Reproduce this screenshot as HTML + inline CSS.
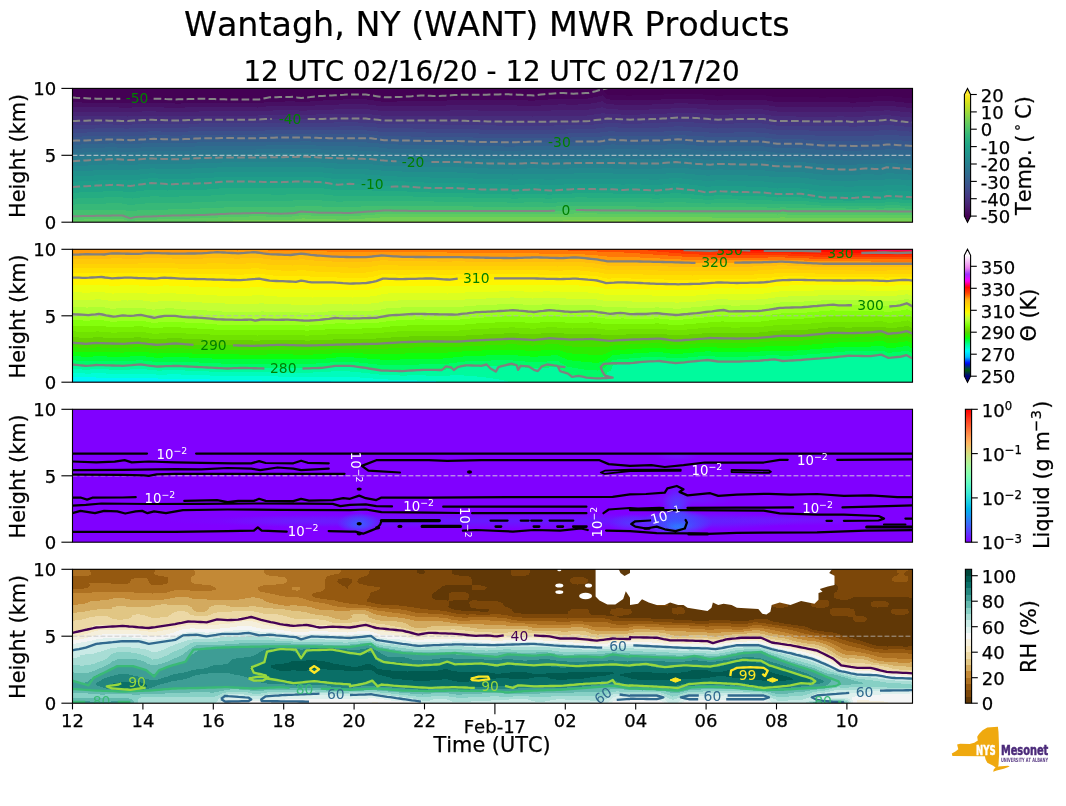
<!DOCTYPE html>
<html lang="en"><head><meta charset="utf-8"><title>Wantagh, NY (WANT) MWR Products</title>
<style>html,body{margin:0;padding:0;background:#fff}svg{display:block}</style></head>
<body>
<svg width="1066" height="806" viewBox="0 0 1066 806" font-family="'DejaVu Sans', 'Liberation Sans', sans-serif" style="font-kerning:none">
<rect width="1066" height="806" fill="#fff"/>
<defs><clipPath id="cp0"><rect x="72.5" y="88.4" width="840.0" height="133.8"/></clipPath><clipPath id="cp1"><rect x="72.5" y="249.3" width="840.0" height="132.9"/></clipPath><clipPath id="cp2"><rect x="72.5" y="409.3" width="840.0" height="132.9"/></clipPath><clipPath id="cp3"><rect x="72.5" y="569.3" width="840.0" height="133.9"/></clipPath><radialGradient id="gl0"><stop offset="0" stop-color="#1e8cff"/><stop offset="0.45" stop-color="#1e8cff" stop-opacity="0.6"/><stop offset="1" stop-color="#1e8cff" stop-opacity="0"/></radialGradient><radialGradient id="gl1"><stop offset="0" stop-color="#1aa4ff"/><stop offset="0.45" stop-color="#1aa4ff" stop-opacity="0.6"/><stop offset="1" stop-color="#1aa4ff" stop-opacity="0"/></radialGradient><radialGradient id="gl2"><stop offset="0" stop-color="#3a5cff"/><stop offset="0.45" stop-color="#3a5cff" stop-opacity="0.6"/><stop offset="1" stop-color="#3a5cff" stop-opacity="0"/></radialGradient><radialGradient id="gl3"><stop offset="0" stop-color="#4a40ff"/><stop offset="0.45" stop-color="#4a40ff" stop-opacity="0.6"/><stop offset="1" stop-color="#4a40ff" stop-opacity="0"/></radialGradient><radialGradient id="gl4"><stop offset="0" stop-color="#5a3cff"/><stop offset="0.45" stop-color="#5a3cff" stop-opacity="0.6"/><stop offset="1" stop-color="#5a3cff" stop-opacity="0"/></radialGradient><radialGradient id="gl5"><stop offset="0" stop-color="#2a78ff"/><stop offset="0.45" stop-color="#2a78ff" stop-opacity="0.6"/><stop offset="1" stop-color="#2a78ff" stop-opacity="0"/></radialGradient><radialGradient id="gl6"><stop offset="0" stop-color="#3a6cff"/><stop offset="0.45" stop-color="#3a6cff" stop-opacity="0.6"/><stop offset="1" stop-color="#3a6cff" stop-opacity="0"/></radialGradient><radialGradient id="gl7"><stop offset="0" stop-color="#5030ff"/><stop offset="0.45" stop-color="#5030ff" stop-opacity="0.6"/><stop offset="1" stop-color="#5030ff" stop-opacity="0"/></radialGradient><linearGradient id="cb0" x1="0" y1="1" x2="0" y2="0"><stop offset="0.000" stop-color="#440154"/><stop offset="0.042" stop-color="#471063"/><stop offset="0.083" stop-color="#481f70"/><stop offset="0.125" stop-color="#472d7b"/><stop offset="0.167" stop-color="#443983"/><stop offset="0.208" stop-color="#404688"/><stop offset="0.250" stop-color="#3b528b"/><stop offset="0.292" stop-color="#365d8d"/><stop offset="0.333" stop-color="#31688e"/><stop offset="0.375" stop-color="#2c728e"/><stop offset="0.417" stop-color="#287c8e"/><stop offset="0.458" stop-color="#24868e"/><stop offset="0.500" stop-color="#21918c"/><stop offset="0.542" stop-color="#1f9a8a"/><stop offset="0.583" stop-color="#20a486"/><stop offset="0.625" stop-color="#28ae80"/><stop offset="0.667" stop-color="#35b779"/><stop offset="0.708" stop-color="#48c16e"/><stop offset="0.750" stop-color="#5ec962"/><stop offset="0.792" stop-color="#75d054"/><stop offset="0.833" stop-color="#90d743"/><stop offset="0.875" stop-color="#addc30"/><stop offset="0.917" stop-color="#c8e020"/><stop offset="0.958" stop-color="#e5e419"/><stop offset="1.000" stop-color="#fde725"/></linearGradient><linearGradient id="cb1" x1="0" y1="1" x2="0" y2="0"><stop offset="0.000" stop-color="#000080"/><stop offset="0.016" stop-color="#001d5a"/><stop offset="0.031" stop-color="#003a35"/><stop offset="0.047" stop-color="#00580f"/><stop offset="0.062" stop-color="#004b37"/><stop offset="0.078" stop-color="#002f7a"/><stop offset="0.094" stop-color="#0014bc"/><stop offset="0.109" stop-color="#000eff"/><stop offset="0.125" stop-color="#0047ff"/><stop offset="0.141" stop-color="#007fff"/><stop offset="0.156" stop-color="#00b8ff"/><stop offset="0.172" stop-color="#00ceff"/><stop offset="0.188" stop-color="#00e0ff"/><stop offset="0.203" stop-color="#00f2ff"/><stop offset="0.219" stop-color="#00ffe5"/><stop offset="0.234" stop-color="#00fdcb"/><stop offset="0.250" stop-color="#00fbb0"/><stop offset="0.266" stop-color="#00fa92"/><stop offset="0.281" stop-color="#00fb68"/><stop offset="0.297" stop-color="#00fd3f"/><stop offset="0.312" stop-color="#06ff15"/><stop offset="0.328" stop-color="#20f400"/><stop offset="0.344" stop-color="#39e500"/><stop offset="0.359" stop-color="#53d600"/><stop offset="0.375" stop-color="#68d500"/><stop offset="0.391" stop-color="#70e200"/><stop offset="0.406" stop-color="#78ef00"/><stop offset="0.422" stop-color="#80fc08"/><stop offset="0.438" stop-color="#92ff18"/><stop offset="0.453" stop-color="#a4ff28"/><stop offset="0.469" stop-color="#b6ff38"/><stop offset="0.484" stop-color="#c8ff30"/><stop offset="0.500" stop-color="#dbff20"/><stop offset="0.516" stop-color="#edff10"/><stop offset="0.531" stop-color="#fff800"/><stop offset="0.547" stop-color="#ffee00"/><stop offset="0.562" stop-color="#ffe400"/><stop offset="0.578" stop-color="#ffda00"/><stop offset="0.594" stop-color="#ffd004"/><stop offset="0.609" stop-color="#ffc609"/><stop offset="0.625" stop-color="#ffbc0d"/><stop offset="0.641" stop-color="#ffa10b"/><stop offset="0.656" stop-color="#ff8107"/><stop offset="0.672" stop-color="#ff6004"/><stop offset="0.688" stop-color="#ff4300"/><stop offset="0.703" stop-color="#ff3000"/><stop offset="0.719" stop-color="#ff1d00"/><stop offset="0.734" stop-color="#ff0a00"/><stop offset="0.750" stop-color="#ff0047"/><stop offset="0.766" stop-color="#ff008e"/><stop offset="0.781" stop-color="#ff00d5"/><stop offset="0.797" stop-color="#f107ff"/><stop offset="0.812" stop-color="#d615ff"/><stop offset="0.828" stop-color="#ba22ff"/><stop offset="0.844" stop-color="#9f33fe"/><stop offset="0.859" stop-color="#b64af9"/><stop offset="0.875" stop-color="#ce62f4"/><stop offset="0.891" stop-color="#e67aef"/><stop offset="0.906" stop-color="#ee8df0"/><stop offset="0.922" stop-color="#f0a0f2"/><stop offset="0.938" stop-color="#f3b3f5"/><stop offset="0.953" stop-color="#f6c5f7"/><stop offset="0.969" stop-color="#f9d8fa"/><stop offset="0.984" stop-color="#fceafc"/><stop offset="1.000" stop-color="#fef8fe"/></linearGradient><linearGradient id="cb2" x1="0" y1="1" x2="0" y2="0"><stop offset="0.000" stop-color="#8000ff"/><stop offset="0.042" stop-color="#6c1fff"/><stop offset="0.083" stop-color="#5641fd"/><stop offset="0.125" stop-color="#4062fa"/><stop offset="0.167" stop-color="#2c7ef7"/><stop offset="0.208" stop-color="#169bf2"/><stop offset="0.250" stop-color="#00b5eb"/><stop offset="0.292" stop-color="#14cae5"/><stop offset="0.333" stop-color="#2adddd"/><stop offset="0.375" stop-color="#40ecd4"/><stop offset="0.417" stop-color="#54f6cb"/><stop offset="0.458" stop-color="#6afdc0"/><stop offset="0.500" stop-color="#80ffb4"/><stop offset="0.542" stop-color="#94fda8"/><stop offset="0.583" stop-color="#abf69b"/><stop offset="0.625" stop-color="#c0eb8d"/><stop offset="0.667" stop-color="#d4dd80"/><stop offset="0.708" stop-color="#ebca70"/><stop offset="0.750" stop-color="#ffb360"/><stop offset="0.792" stop-color="#ff9b52"/><stop offset="0.833" stop-color="#ff7e41"/><stop offset="0.875" stop-color="#ff5f30"/><stop offset="0.917" stop-color="#ff4121"/><stop offset="0.958" stop-color="#ff1f10"/><stop offset="1.000" stop-color="#ff0000"/></linearGradient><linearGradient id="cb3" x1="0" y1="1" x2="0" y2="0"><stop offset="0.0000" stop-color="#613806"/><stop offset="0.0476" stop-color="#613806"/><stop offset="0.0476" stop-color="#7c4709"/><stop offset="0.0952" stop-color="#7c4709"/><stop offset="0.0952" stop-color="#955910"/><stop offset="0.1429" stop-color="#955910"/><stop offset="0.1429" stop-color="#ad7021"/><stop offset="0.1905" stop-color="#ad7021"/><stop offset="0.1905" stop-color="#c38936"/><stop offset="0.2381" stop-color="#c38936"/><stop offset="0.2381" stop-color="#d3aa5f"/><stop offset="0.2857" stop-color="#d3aa5f"/><stop offset="0.2857" stop-color="#e1c684"/><stop offset="0.3333" stop-color="#e1c684"/><stop offset="0.3333" stop-color="#ecd8a5"/><stop offset="0.3810" stop-color="#ecd8a5"/><stop offset="0.3810" stop-color="#f6e9c5"/><stop offset="0.4286" stop-color="#f6e9c5"/><stop offset="0.4286" stop-color="#f5efdc"/><stop offset="0.4762" stop-color="#f5efdc"/><stop offset="0.4762" stop-color="#f4f5f5"/><stop offset="0.5238" stop-color="#f4f5f5"/><stop offset="0.5238" stop-color="#def0ed"/><stop offset="0.5714" stop-color="#def0ed"/><stop offset="0.5714" stop-color="#c9eae6"/><stop offset="0.6190" stop-color="#c9eae6"/><stop offset="0.6190" stop-color="#a8ddd5"/><stop offset="0.6667" stop-color="#a8ddd5"/><stop offset="0.6667" stop-color="#87d0c5"/><stop offset="0.7143" stop-color="#87d0c5"/><stop offset="0.7143" stop-color="#64b9ae"/><stop offset="0.7619" stop-color="#64b9ae"/><stop offset="0.7619" stop-color="#3e9d95"/><stop offset="0.8095" stop-color="#3e9d95"/><stop offset="0.8095" stop-color="#23867e"/><stop offset="0.8571" stop-color="#23867e"/><stop offset="0.8571" stop-color="#0a6f67"/><stop offset="0.9048" stop-color="#0a6f67"/><stop offset="0.9048" stop-color="#015a50"/><stop offset="0.9524" stop-color="#015a50"/><stop offset="0.9524" stop-color="#00463b"/><stop offset="1.0000" stop-color="#00463b"/></linearGradient></defs>
<rect x="72.5" y="88.4" width="840.0" height="133.8" fill="#440154"/>
<g clip-path="url(#cp0)" shape-rendering="crispEdges">
<path d="M602.5,89.4 605.1,92.4 607.5,94.6 627.5,95.6 657.5,94.9 677.5,93.7 697.5,94.1 717.5,95.7 737.5,95 762.5,95 767.5,95.7 772.5,96.7 777.5,97.1 802.5,97.1 822.5,97.6 842.5,97.1 852.5,97.9 887.5,95.9 902.5,97.6 912.5,98.4 912.5,222.2 72.5,222.2 72.5,97.6 97.5,98.7 157.5,98.7 177.5,99.4 202.5,98.7 257.5,99.4 267.5,97.8 272.5,97.3 292.5,96.8 302.5,98 317.5,96.3 347.5,94.6 362.5,94.5 367.5,94.7 382.5,97.1 397.5,97 422.5,95.6 437.5,96 462.5,94.7 492.5,94.6 507.5,94.2 532.5,95.4 537.5,95.1 547.5,93.9 557.5,93.1 562.5,93 572.5,93.6 587.5,93 592.5,92 598.6,90.4Z" fill="#450559" fill-rule="evenodd"/>
<path d="M602.5,95.4 606,98.4 607.5,99.4 633.3,100.4 657.5,99.7 677.5,98.5 697.5,98.9 717.5,100.5 737.5,99.8 762.5,99.8 767.5,100.5 772.5,101.5 777.5,101.9 802.5,101.9 824.4,102.4 842.5,101.9 852.5,102.7 887.5,100.7 902.3,102.4 912.5,103.2 912.5,222.2 72.5,222.2 72.5,102.4 132.5,103.1 157.5,102.9 177.5,103.6 202.5,102.9 257.5,103.5 267.5,102 292.5,101.3 302.5,102.2 317.5,100.8 347.5,99.3 362.5,99.3 367.5,99.5 382.5,101.7 387.5,101.9 422.5,100.5 437.5,100.9 462.5,99.9 507.5,99.7 532.5,100.7 557.5,98.8 562.5,98.7 572.5,99.2 587.5,98.6 592.5,97.7 598,96.4Z" fill="#471063" fill-rule="evenodd"/>
<path d="M597.5,102.3 602.5,101.3 604.1,102.4 607.5,104.2 627.5,105.2 662.5,104.2 677.5,103.3 697.5,103.7 717.5,105.3 737.5,104.6 762.5,104.6 767.5,105.3 773.2,106.4 777.5,106.7 802.5,106.7 822.5,107.2 842.5,106.7 852.5,107.5 887.5,105.5 902.5,107.2 912.5,108 912.5,222.2 72.5,222.2 72.5,107 127.5,107.6 152.5,107.1 172.5,107.8 202.5,107.1 257.5,107.5 267.5,106.3 272.5,106 292.5,105.8 303.6,106.4 317.5,105.3 352.5,104 362.5,104.1 367.5,104.4 382.5,106.4 402.5,106.3 422.5,105.5 437.5,105.8 457.5,105.1 487.5,105.4 507.5,105.2 532.5,106 557.5,104.5 562.5,104.4 572.5,104.7 587.5,104.2 597.4,102.4Z" fill="#481b6d" fill-rule="evenodd"/>
<path d="M597.5,108.2 602.5,107.3 605.3,108.4 607.5,109 627.5,110 657.5,109.3 677.5,108.1 697.5,108.5 717.5,110.1 737.5,109.4 762.5,109.4 772.5,111.1 777.5,111.5 802.5,111.5 822.5,112 842.5,111.5 852.5,112.3 887.5,110.3 912.5,112.8 912.5,222.2 72.5,222.2 72.5,111.6 127.5,112.1 147.5,111.3 177.5,112 207.5,111.3 257.5,111.5 267.5,110.6 292.5,110.2 302.5,110.7 352.5,108.8 362.5,108.9 367.5,109.2 382.5,111 387.5,111.2 422.5,110.5 437.5,110.7 462.5,110.3 532.5,111.2 562.5,110.1 572.5,110.3 582.5,110.1 587.5,109.8 596.5,108.4Z" fill="#482475" fill-rule="evenodd"/>
<path d="M322.5,114.3 352.5,113.6 362.5,113.7 372.5,114.5 382.5,115.7 477.5,115.8 532.5,116.5 587.5,115.5 602.5,113.3 612.5,114.1 627.5,114.8 657.5,114.1 677.5,112.9 697.5,113.3 717.5,114.9 737.5,114.2 762.5,114.2 767.5,114.9 772.5,115.9 777.5,116.3 822.5,116.8 843,116.4 852.5,117.1 887.5,115.1 902.5,116.8 912.5,117.6 912.5,222.2 72.5,222.2 72.5,116.4 97.5,116.1 127.5,116.5 147.5,115.5 177.5,116.2 212.5,115.5 257.5,115.5 267.5,114.9 307.5,114.8 319.6,114.4Z" fill="#472d7b" fill-rule="evenodd"/>
<path d="M667.5,118.3 677.5,117.6 692.5,117.8 717.5,119.7 737.5,118.9 762.5,118.9 772.5,120.7 777.5,121.1 807.5,121.2 822.5,121.6 842.5,121.1 852.5,121.9 887.5,119.9 902.5,121.6 912.5,122.4 912.5,222.2 72.5,222.2 72.5,120.9 102.5,120.5 127.5,120.9 137.9,120.4 147.5,119.7 178.6,120.4 202.5,119.6 257.5,119.5 267.5,119.1 352.5,118.4 367.5,118.7 384.4,120.4 462.5,120.6 532.5,121.7 587.5,121 593.3,120.4 602.5,119.1 607.5,118.6 627.5,119.5 657.5,118.9 666.2,118.4Z" fill="#453781" fill-rule="evenodd"/>
<path d="M672.5,122.3 677.5,122 692.5,122.4 717.5,124.1 737.5,123.4 762.5,123.5 768.1,124.3 772.5,125.2 777.5,125.6 802.5,125.7 822.5,126.4 842.5,126.1 852.5,126.7 877.5,125.6 887.5,124.8 902.5,126.4 912.5,127.1 912.5,222.2 72.5,222.2 72.5,124.9 107.5,124.4 127.5,124.8 147.5,123.6 177.5,124.2 202.5,123.4 257.5,123.3 267.5,122.9 352.5,122.4 367.5,122.7 382.5,124.2 457.5,124.6 512.5,125.9 587.5,125.2 602.5,123.6 607.5,122.9 627.5,123.8 657.5,123.2 671.7,122.3Z" fill="#423f85" fill-rule="evenodd"/>
<path d="M677.5,126.3 692.5,126.9 717.5,128.5 737.5,127.8 762.5,128 767.5,128.7 772.5,129.7 777.5,130.2 804.6,130.3 822.5,131.1 842.5,131 852.5,131.5 877.5,130.6 887.5,129.7 912.5,131.8 912.5,222.2 72.5,222.2 72.5,128.9 112.5,128.2 127.5,128.6 147.5,127.5 157.5,127.5 172.5,128 202.5,127.1 257.5,127 357.5,126.4 367.5,126.6 382.5,128.1 387.5,128.4 457.5,128.7 482.5,129.6 512.5,130 587.5,129.3 602.5,127.9 607.5,127.2 612.5,127.2 627.5,128 657.5,127.6 677.1,126.3Z" fill="#3f4788" fill-rule="evenodd"/>
<path d="M272.5,130.3 367.5,130.5 372.5,130.8 382.5,132.1 457.5,132.8 487.5,133.8 512.5,134.1 587.5,133.3 597.5,132.8 602.5,132.3 607.5,131.5 612.5,131.4 627.5,132.2 657.5,131.9 677.5,130.6 702.5,132.2 717.5,132.9 742.4,132.3 762.5,132.6 777.5,134.7 802.5,134.8 822.5,135.9 842.5,135.9 852.5,136.3 882.5,135.2 887.5,134.6 912.5,136.5 912.5,222.2 72.5,222.2 72.5,132.8 112.5,132 127.5,132.4 152.5,131.3 177.5,131.9 207.5,130.8 252.5,130.9 271.3,130.3Z" fill="#3c508b" fill-rule="evenodd"/>
<path d="M262.5,134.3 307.5,133.9 342.5,134.4 367.5,134.4 372.5,134.7 382.5,136 387.5,136.3 457.5,136.9 482.5,137.9 512.5,138.2 597.5,137.2 607.5,135.8 612.5,135.6 627.5,136.4 657.5,136.2 677.5,135 717.5,137.3 737.5,136.7 762.5,137.1 777.5,139.3 802.5,139.4 822.5,140.7 842.5,140.8 852.5,141.1 882.5,140.2 887.5,139.5 912.5,141.2 912.5,222.2 72.5,222.2 72.5,136.7 97.5,136.2 107.5,135.7 132.5,136.2 152.5,135.1 177.5,135.7 207.5,134.5 257.5,134.5 261.8,134.3Z" fill="#38588c" fill-rule="evenodd"/>
<path d="M202.5,138.3 262.5,138.1 277.5,137.6 312.5,137.7 367.5,138.3 372.5,138.5 382.5,139.9 512.5,142.3 597.5,141.5 602.5,141 607.5,140.1 612.5,139.8 627.5,140.6 657.5,140.6 677.5,139.3 697.5,141 717.5,141.7 737.5,141.2 762.5,141.7 777.5,143.8 802.5,143.9 822.5,145.4 857.5,145.9 877.5,145.5 882.5,145.2 887.5,144.4 912.5,146 912.5,222.2 72.5,222.2 72.5,140.7 97.5,140.1 107.5,139.5 132.5,140.1 152.5,138.9 172.5,139.6 202.1,138.3Z" fill="#355f8d" fill-rule="evenodd"/>
<path d="M202.5,142.2 227.5,141.9 257.5,142.1 307.5,141.4 332.5,142.3 367.5,142.5 372.5,142.7 382.5,144 407.5,144.8 457.5,145.3 482.5,146.3 512.5,146.6 532.5,145.9 597.5,145.8 602.5,145.4 607.5,144.7 612.5,144.4 632.5,145.2 657.5,145.2 672.5,144.1 677.5,143.9 697.5,145.6 712.5,146.1 737.5,145.8 763,146.3 777.5,148.3 802.5,148.5 822.5,150.1 852.5,150.7 877.5,150.2 882.5,149.9 887.5,149 912.5,150.7 912.5,222.2 72.5,222.2 72.5,144.8 112.5,143.4 127.5,144 132.5,144 152.5,142.9 177.5,143.5 200.7,142.3Z" fill="#31678e" fill-rule="evenodd"/>
<path d="M202.5,146.2 227.5,145.8 307.5,145.2 337.5,146.3 367.5,146.6 372.5,146.8 387.5,148.5 512.5,150.9 532.5,150.2 597.5,150.1 607.5,149.3 612.5,149.1 657.5,149.8 672.5,148.7 677.5,148.5 702.5,150.4 712.5,150.7 762.5,150.9 777.5,152.8 802.5,153 822.5,154.8 852.5,155.4 867.5,154.8 877.5,154.9 882.5,154.6 887.5,153.6 912.5,155.4 912.5,222.2 72.5,222.2 72.5,148.9 107.5,147.4 117.5,147.5 127.5,148 132.5,148 152.5,146.8 177.5,147.4 199.4,146.3Z" fill="#2e6e8e" fill-rule="evenodd"/>
<path d="M202.5,150.1 232.5,149.7 307.5,149.1 357.5,150.6 367.5,150.7 372.5,151 383.4,152.3 432.5,153.6 457.5,153.7 482.5,154.8 512.5,155.2 532.5,154.5 552.5,154.8 602.5,154.2 607.5,153.8 612.5,153.7 652.5,154.4 658.1,154.3 672.5,153.2 677.5,153 707.5,155.3 712.5,155.3 717.5,155 762.5,155.5 777.5,157.3 797.5,157.4 802.5,157.6 822.5,159.5 852.5,160.2 862.5,159.5 877.5,159.6 882.5,159.4 887.5,158.2 912.5,160.1 912.5,222.2 72.5,222.2 72.5,153 112.5,151.3 127.5,152 132.5,152 147.5,150.9 162.5,151 172.5,151.4 198.1,150.3Z" fill="#2b748e" fill-rule="evenodd"/>
<path d="M197.5,154.3 247.5,153.6 307.5,152.9 372.5,155.1 382.5,156.3 392.5,157 457.5,157.9 497.5,159.3 512.5,159.5 532.5,158.8 552.5,159.3 612.5,158.4 652.5,159 657.5,158.9 672.5,157.7 677.5,157.6 707.5,159.9 712.5,159.9 717.5,159.5 762.5,160.1 777.5,161.8 802.5,162.1 824.2,164.3 852.5,164.9 862.5,164.1 872.5,164.1 878.2,164.3 882.5,164.1 887.5,162.8 902.5,163.8 912.5,164.8 912.5,222.2 72.5,222.2 72.5,157.1 112.5,155.2 122.5,155.6 127.5,156 132.5,156 147.5,154.8 157.5,154.8 172.5,155.3 177.5,155.3 196.9,154.3Z" fill="#287c8e" fill-rule="evenodd"/>
<path d="M197.5,158.2 307.5,156.9 372.5,159.4 387.5,160.9 422.5,161.9 457.5,162.1 482.5,163.4 512.5,163.9 532.5,163.2 547.5,163.8 612.5,163.1 657.5,163.6 672.5,162.3 678.6,162.3 697.5,164 707.5,164.5 712.5,164.5 717.5,164 762.5,164.7 777.5,166.3 797.5,166.5 802.5,166.8 822.5,169 852.5,169.8 862.5,168.8 867.5,168.6 877.5,169.1 882.5,168.9 887.5,167.5 902.5,168.4 912.5,169.6 912.5,222.2 72.5,222.2 72.5,161.3 112.5,159.3 127.5,160 132.5,160 147.5,158.7 172.5,159.4 196.1,158.3Z" fill="#26828e" fill-rule="evenodd"/>
<path d="M227.5,162.3 287.5,162.1 307.5,161.7 337.5,163.5 372.5,164.5 387.5,166 462.5,167.5 492.5,168.7 512.5,169.1 532.5,168.3 552.5,169.1 577.5,168.2 657.5,168.9 672.5,167.6 677.5,167.5 707.5,170.1 712.5,169.9 717.5,169.4 763.1,170.3 777.5,171.8 803.4,172.3 822.5,174.6 852.5,175.4 862.5,174.4 867.5,174.2 877.5,174.7 882.5,174.5 887.5,173.1 902.5,174 912.5,175 912.5,222.2 72.5,222.2 72.5,166.3 112.5,164.3 122.5,164.7 127.5,165.1 132.5,165.1 147.5,163.6 152.5,163.5 172.5,164.2 177.5,164.2 227.2,162.3Z" fill="#23898e" fill-rule="evenodd"/>
<path d="M197.5,168.3 227.5,167.1 292.5,166.9 307.5,166.7 322.5,167.4 337.5,168.8 352.5,168.7 372.5,169.7 387.5,171.1 432.5,172.4 457.5,172.5 482.5,173.8 507.5,174 512.5,174.5 532.5,173.6 537.5,173.7 547.5,174.4 577.5,173.4 612.5,173.5 622.5,173.9 632.5,173.7 658.1,174.3 672.5,172.9 677.5,172.8 707.5,175.7 717.5,174.9 762.5,175.8 777.5,177.4 797.5,177.4 802.5,177.6 822.3,180.3 852.5,181 862.5,180 867.5,179.9 877.5,180.4 882.5,180.2 887.5,178.8 902.5,179.6 912.5,180.6 912.5,222.2 72.5,222.2 72.5,171.5 112.5,169.5 127.5,170.2 132.5,170.2 147.5,168.6 152.5,168.4 172.5,169.2 197.3,168.3Z" fill="#21918c" fill-rule="evenodd"/>
<path d="M222.5,172 287.5,172 302.5,171.6 322.5,172.4 337.5,174.1 352.5,173.8 372.5,174.9 389.2,176.3 417.5,177 432.5,177.6 457.5,177.7 482.5,179 507.5,179.2 512.5,179.8 532.5,178.8 547.5,179.7 562.5,179.3 577.5,178.6 612.5,178.8 622.5,179.3 627.5,179 657.5,179.7 672.5,178.2 677.5,178.1 702.5,180.6 707.5,181.3 717.5,180.3 762.5,181.3 777.5,183 797.5,182.9 802.5,183.1 822.5,186 852.5,186.7 862.5,185.7 867.5,185.6 877.5,186.2 882.5,186 887.5,184.5 902.5,185.2 912.5,186.2 912.5,222.2 72.5,222.2 72.5,176.6 112.5,174.6 122.5,175 127.5,175.4 132.5,175.3 147.5,173.6 152.5,173.3 167.5,174.1 177.5,174.1 218.8,172.3Z" fill="#1f978b" fill-rule="evenodd"/>
<path d="M152.5,178.2 167.5,179.1 172.5,179.2 207.5,178.1 222.5,176.8 227.5,176.6 277.5,177.2 302.5,176.5 322.5,177.3 337.5,179.4 347.5,178.9 352.5,178.9 387.5,181.3 397.5,181.5 402.5,181.4 427.5,182.7 457.5,182.9 482.5,184.3 507.5,184.4 512.5,185.2 532.5,184.1 547.5,185.1 552.5,185.1 577.5,183.8 612.5,184 622.5,184.6 632.5,184.2 657.5,185.1 672.5,183.5 677.5,183.4 697.5,185.4 707.5,186.9 717.5,185.8 762.5,186.9 777.5,188.5 797.5,188.4 802.5,188.6 822.5,191.6 852.5,192.4 862.5,191.4 867.5,191.2 877.5,191.9 882.5,191.7 887.5,190.3 902.5,190.9 912.5,191.7 912.5,222.2 72.5,222.2 72.5,181.8 112.5,179.8 127.5,180.5 134,180.3 147.5,178.5 151.2,178.3Z" fill="#1f9e89" fill-rule="evenodd"/>
<path d="M217.5,182.2 227.5,181.6 277.5,182.2 302.5,181.5 322.5,182.2 327.5,183.2 337.5,184.8 347.5,184 352.5,184 387.5,186.4 392.5,186.6 402.5,186.4 427.5,187.9 452.5,187.9 482.5,189.4 507.5,189.5 512.5,190.5 532.5,189.3 547.5,190.4 552.5,190.4 577.5,188.9 612.5,189.2 622.5,190 627.5,189.5 632.5,189.3 652.5,190.4 657.5,190.5 672.5,188.7 677.5,188.6 697.5,190.6 707.5,192.4 717.5,191.1 752.5,192.3 762.5,192.4 772.5,193.3 777.5,194 797.5,193.7 802.5,193.9 812.5,195.4 817.5,196.4 822.5,196.9 852.5,197.8 862.5,196.7 867.5,196.6 877.5,197.2 882.5,197.1 887.5,195.8 907.5,196.6 912.5,197 912.5,222.2 72.5,222.2 72.5,187 112.5,185 122.5,185.4 127.5,185.8 132.5,185.7 147.5,183.6 152.5,183.2 167.5,184.1 172.5,184.2 187.5,183.6 207.5,183.3 216.6,182.3Z" fill="#20a486" fill-rule="evenodd"/>
<path d="M222.5,188.1 287.5,188.2 302.5,187.5 322.5,188.3 337.5,190.4 347.5,189.8 352.5,189.7 392.5,191.4 402.5,191.3 432.5,192.6 457.5,192.7 482.5,193.8 507.5,193.8 512.5,194.6 532.5,193.7 537.5,193.8 547.5,194.5 552.5,194.5 577.5,193.2 612.5,193.5 622.5,194.1 632.5,193.6 657.5,194.6 672.5,193.3 677.5,193.2 697.5,194.8 707.5,196.2 717.5,195.2 763,196.2 777.5,197.5 782.5,197.3 797.5,197.3 802.5,197.5 822.5,200.1 852.5,200.7 862.5,199.9 867.5,199.8 877.5,200.3 882.5,200.2 887.5,199.1 902.5,199.5 912.5,200.1 912.5,222.2 72.5,222.2 72.5,192.8 112.5,191.1 117.5,191.1 122.5,191.4 127.5,192 132.5,192 147.5,190.1 152.5,189.7 167.5,190.5 207.5,189.5 220.9,188.3Z" fill="#25ac82" fill-rule="evenodd"/>
<path d="M252.5,194.2 282.5,194.7 302.5,193.5 322.5,194.4 337.5,196 347.5,195.5 382.5,195.9 397.5,196.2 412.5,196.5 427.5,197.2 457.5,197.3 482.5,198.2 508.2,198.2 512.5,198.7 532.5,198 547.5,198.6 557.5,198.4 577.5,197.4 612.5,197.8 622.5,198.2 632.5,197.9 657.5,198.7 672.5,197.7 677.5,197.7 697.5,198.9 707.5,200 717.5,199.2 762.5,199.9 777.5,200.9 782.5,200.6 802.5,200.9 822.5,202.8 852.5,203.3 862.5,202.7 877.5,203.1 882.5,203 887.5,202.1 912.5,203 912.5,222.2 72.5,222.2 72.5,198.7 112.5,197.2 122.5,197.4 127.5,198.3 132.5,198.5 137.5,197.7 152.5,196.3 167.5,196.8 207.5,195.8 227.5,194.3 248.1,194.2Z" fill="#2db27d" fill-rule="evenodd"/>
<path d="M297.5,200 302.5,199.6 322.5,200.5 337.5,201.6 382.5,200.8 507.5,202.5 512.5,202.8 532.5,202.3 552.5,202.7 577.5,201.6 612.5,202 622.5,202.3 632.5,202.1 657.5,202.7 677.5,202.1 697.5,203 707.5,203.7 717.5,203.2 762.5,203.7 777.5,204.3 782.5,203.9 787.5,204.3 802.5,204.3 822.5,205.6 852.5,205.9 867.5,205.5 882.5,205.8 887.5,205.2 912.5,205.8 912.5,222.2 72.5,222.2 72.5,204.6 112.5,203.3 122.5,203.5 127.5,204.7 132.5,204.9 137.5,204 152.5,203 177.5,202.9 207.5,202.1 222.5,201 257.5,200.5 282.5,201 292.5,200.6 295.7,200.2Z" fill="#37b878" fill-rule="evenodd"/>
<path d="M297.5,206.2 302.5,205.6 337.5,207.2 377.5,206 382.5,205.7 517.5,206.9 537.5,206.6 547.5,206.8 577.5,205.8 627.5,206.4 657.5,206.8 677.5,206.6 707.5,207.4 722.5,207.2 767.5,207.5 777.5,207.8 782.5,207.2 787.5,207.7 852.5,208.6 867.5,208.4 882.5,208.6 887.5,208.3 912.5,208.6 912.5,222.2 72.5,222.2 72.5,210.4 122.5,209.5 127.5,211 132.5,211.4 137.5,210.4 152.5,209.6 167.5,209.5 212.5,208.1 227.5,207.3 257.5,206.7 282.5,207.3 292.5,206.9 297.2,206.2Z" fill="#44bf70" fill-rule="evenodd"/>
<path d="M572.5,210.1 777.5,211.2 782.5,210.5 787.5,211.1 912.5,211.5 912.5,222.2 72.5,222.2 72.5,216.3 122.5,215.3 127.5,217 132.5,217.6 137.5,216.6 157.5,216.1 172.5,215.3 217.4,214.2 227.5,213.4 257.5,212.7 282.5,213.3 292.5,212.9 298,212.2 302.5,211.4 312.5,212.2 347.5,212.7 362.5,212 382.5,210.5 562.5,210.5 570.6,210.2Z" fill="#52c569" fill-rule="evenodd"/>
<path d="M382.5,214 557.5,214.1 577.5,213.4 777.5,214.5 782.5,213.8 787.5,214.5 912.5,214.8 912.5,222.2 72.5,222.2 72.5,219.7 122.5,218.9 127.5,220.7 132.5,221.1 137.5,220.1 212.5,217.8 227.5,217 257.5,216.3 282.5,216.9 292.5,216.5 302.5,215 317.5,215.9 348.3,216.2 352.5,216.1 379.5,214.2Z" fill="#60ca60" fill-rule="evenodd"/>
<path d="M372.5,218 382.5,217.3 557.5,217.4 577.5,216.7 777.5,217.9 782.5,217.2 787.5,217.8 912.5,218.1 912.5,222.2 197.5,221.8 257.5,219.6 277.5,220.3 292.5,219.9 297.5,219 302.5,218.4 322.5,219.4 347.5,219.6 370,218.2Z" fill="#73d056" fill-rule="evenodd"/>
<path d="M572.5,220.2 777.5,221.2 782.5,220.5 787.5,221.2 912.5,221.5 912.5,222.2 362.5,222.1 382.5,220.7 557.5,220.7 571.5,220.2ZM302.5,221.7 311.4,222.2 298.6,222.2Z" fill="#84d44b" fill-rule="evenodd"/>
</g>
<path d="M72.5,155.3H912.5" stroke="#d8d8d8" stroke-width="0.95" stroke-dasharray="4.9 2.1" fill="none" opacity="0.95"/>
<path clip-path="url(#cp0)" d="M72.4,97.6 75.8,97.8 79.2,97.9 82.6,98.1 86,98.2 89.4,98.4 92.9,98.5 96.3,98.7 99.3,98.7 102.3,98.7 105.3,98.7 108.3,98.7 111.3,98.7 114.3,98.7 117.3,98.7 120.3,98.7M153.6,98.7 156.7,98.7 159.7,98.8 162.8,98.9 165.9,99.1 168.9,99.2 172,99.3 175.1,99.4 178.3,99.3 181.6,99.2 184.9,99.2 188.2,99.1 191.5,99 194.8,98.9 198,98.8 201.3,98.7 204.6,98.8 207.9,98.9 211.2,99 214.5,99.1 217.7,99.2 221,99.2 224.3,99.3 227.6,99.4 230.8,99.4 233.9,99.4 237.1,99.4 240.2,99.4 243.4,99.4 246.5,99.4 249.7,99.4 252.8,99.4 256,99.4 259.1,99.4 262.6,98.7 266.1,98 269.6,97.3 273,97.3 276.4,97.2 279.8,97.1 283.1,97 286.5,97 289.9,96.9 293.3,96.8 297.2,97.5 301.1,98.1 304.2,97.8 307.3,97.4 310.3,97.1 313.4,96.7 316.5,96.4 319.5,96 322.6,95.9 325.6,95.7 328.7,95.6 331.7,95.4 334.8,95.2 337.8,95.1 340.9,94.9 343.9,94.8 347,94.6 350,94.5 353.2,94.5 356.3,94.5 359.5,94.5 362.6,94.5 365.8,94.5 368.8,94.9 371.9,95.4 375,95.9 378,96.4 381.1,96.9 384.1,97.3 387.2,97.3 390.3,97.2 393.3,97.1 396.4,97 399.5,96.9 402.5,96.8 405.6,96.6 408.7,96.4 411.7,96.2 414.8,95.9 417.9,95.7 420.9,95.5 424,95.6 427,95.7 430.1,95.8 433.2,95.9 436.2,95.9 439.3,96 442.3,95.8 445.3,95.7 448.3,95.5 451.3,95.3 454.3,95.1 457.3,94.9 460.3,94.7 463.6,94.7 466.9,94.7 470.2,94.7 473.5,94.7 476.7,94.7 480,94.7 483.3,94.7 486.6,94.7 489.6,94.6 492.6,94.6 495.6,94.5 498.6,94.4 501.6,94.3 504.6,94.3 507.6,94.2 510.9,94.4 514.2,94.5 517.4,94.7 520.7,94.8 524,95 527.3,95.2 530.6,95.3 533.9,95.5 537.4,95.1 540.9,94.6 544.4,94.2 547.5,93.9 550.7,93.7 553.8,93.4 557,93.1 560.1,92.9 563.4,93.1 566.7,93.3 570,93.5 573.3,93.7 576.4,93.5 579.6,93.4 582.7,93.2 585.9,93 589,92.9 592.3,92 595.6,91.2 598.9,90.3 602.2,89.5 605.4,88.7 608.7,87.9 612,87.1 615.3,86.3" fill="none" stroke="#858585" stroke-width="2.0" stroke-dasharray="7.7 3.3" stroke-linejoin="round" stroke-linecap="butt"/>
<path clip-path="url(#cp0)" d="M72.4,121 75.8,120.9 79.2,120.8 82.6,120.8 86,120.7 89.4,120.6 92.9,120.5 96.3,120.5 99.4,120.5 102.6,120.6 105.7,120.6 108.9,120.7 112,120.7 115.2,120.8 118.3,120.8 121.5,120.9 124.6,120.9 127.8,121 130.8,120.8 133.8,120.6 136.8,120.4 139.8,120.2 142.8,120 145.8,119.9 148.8,119.7 152.1,119.8 155.4,119.9 158.6,120 161.9,120.1 165.2,120.2 168.5,120.3 171.8,120.4 175.1,120.5 178.3,120.4 181.6,120.3 184.9,120.2 188.2,120.1 191.5,120 194.8,119.9 198,119.8 201.3,119.7 204.4,119.7 207.5,119.7 210.6,119.7 213.7,119.7 216.8,119.7 219.9,119.7 223,119.7 226.1,119.7 229.1,119.7 232.2,119.7 235.3,119.7 238.4,119.7 241.5,119.7 244.6,119.7 247.7,119.7 250.8,119.7 253.9,119.7 257.8,119.5 261.7,119.3 265.7,119.1 268.7,119.1 271.7,119.1M307.7,119.1 310.7,119.1 313.8,119 316.8,119 319.8,118.9 322.8,118.9 325.8,118.8 328.9,118.8 331.9,118.7 334.9,118.6 337.9,118.6 340.9,118.5 344,118.5 347,118.4 350,118.4 353.2,118.4 356.3,118.5 359.5,118.5 362.6,118.6 365.8,118.6 368.8,118.9 371.9,119.2 375,119.5 378,119.8 381.1,120.2 384.1,120.5 387.3,120.5 390.5,120.5 393.7,120.5 396.9,120.5 400.1,120.5 403.3,120.5 406.5,120.5 409.7,120.5 412.9,120.5 416,120.5 419.2,120.5 422.4,120.5 425.6,120.5 428.8,120.5 432.1,120.5 435.4,120.5 438.6,120.5 441.9,120.5 445.2,120.5 448.5,120.5 451.8,120.5 455.1,120.5 458.3,120.6 461.6,120.7 464.9,120.8 468.2,120.9 471.5,121 474.8,121.1 478,121.1 481.3,121.2 484.6,121.3 487.9,121.4 491.2,121.4 494.5,121.5 497.7,121.6 501,121.6 504.3,121.7 507.6,121.8 510.8,121.8 513.9,121.8 517.1,121.8 520.2,121.8 523.4,121.8 526.5,121.8 529.7,121.8 532.8,121.8 536,121.8 539.1,121.8 542.3,121.7 545.4,121.7 548.6,121.7 551.7,121.6 554.9,121.6 558,121.6 561.2,121.5 564.3,121.5 567.5,121.5 570.6,121.4 573.8,121.4 576.9,121.4 580.1,121.3 583.2,121.3 586.4,121.2 589.4,120.9 592.4,120.5 595.4,120.1 598.4,119.7 601.4,119.4 604.4,119 607.4,118.6 610.6,118.8 613.9,118.9 617.1,119.1 620.3,119.2 623.5,119.4 626.8,119.5 630,119.7 633.3,119.6 636.7,119.5 640,119.4 643.4,119.3 646.7,119.2 650.1,119.1 653.4,119 656.7,119 659.8,118.8 662.8,118.6 665.9,118.4 669,118.2 672,118 675.1,117.8 678.1,117.6 681.3,117.7 684.5,117.7 687.7,117.8 691,117.8 694.2,117.9 697.2,118.1 700.2,118.4 703.2,118.6 706.2,118.8 709.2,119.1 712.2,119.3 715.2,119.5 718.2,119.8 721.3,119.6 724.5,119.5 727.6,119.4 730.7,119.2 733.8,119.1 736.9,119 740.3,119 743.6,119 747,119 750.3,119 753.7,119 757,119 760.3,119 763.7,119 767.2,119.7 770.8,120.4 774.4,121.1 777.7,121.1 781.1,121.1 784.4,121.1 787.7,121.1 791.1,121.1 794.4,121.1 797.8,121.1 801.1,121.1 804.2,121.2 807.2,121.2 810.3,121.3 813.3,121.4 816.4,121.5 819.4,121.6 822.5,121.6 825.6,121.6 828.6,121.5 831.7,121.4 834.7,121.3 837.8,121.2 840.8,121.2 843.9,121.1 847.9,121.5 851.9,121.9 855.2,121.7 858.6,121.6 861.9,121.4 865.3,121.2 868.6,121.1 872,120.9 875.3,120.7 878.6,120.6 882.7,120.2 886.7,119.8 889.9,120.1 893.1,120.5 896.3,120.9 899.5,121.3 902.7,121.6 906,121.9 909.3,122.2 912.6,122.4" fill="none" stroke="#858585" stroke-width="2.0" stroke-dasharray="7.7 3.3" stroke-linejoin="round" stroke-linecap="butt"/>
<path clip-path="url(#cp0)" d="M72.4,140.7 75.8,140.6 79.2,140.5 82.6,140.5 86,140.4 89.4,140.3 92.9,140.2 96.3,140.2 99.5,140 102.8,139.8 106.1,139.6 109.4,139.4 112.4,139.5 115.4,139.6 118.4,139.7 121.4,139.8 124.4,139.9 127.4,140 130.4,140.2 133.8,140 137.2,139.8 140.5,139.6 143.9,139.4 147.3,139.2 150.7,139 154.1,138.8 157.1,139 160.1,139.1 163.1,139.2 166.1,139.3 169.1,139.4 172.1,139.5 175.1,139.6 178.3,139.5 181.6,139.3 184.9,139.1 188.2,139 191.5,138.8 194.8,138.6 198,138.5 201.3,138.3 204.6,138.3 207.9,138.3 211.2,138.2 214.5,138.2 217.7,138.2 221,138.1 224.3,138.1 227.6,138.1 230.9,138.1 234.2,138.1 237.4,138.2 240.7,138.2 244,138.2 247.3,138.3 250.6,138.3 253.9,138.3 257.1,138.2 260.4,138.1 263.7,138 267,137.9 270.3,137.8 273.6,137.7 276.8,137.6 280.1,137.5 283.4,137.5 286.7,137.5 290,137.5 293.3,137.5 296.5,137.5 299.8,137.5 303.1,137.5 306.4,137.5 309.7,137.6 313,137.7 316.2,137.8 319.5,137.9 322.8,138 326.1,138.1 329.4,138.2 332.7,138.3 336.1,138.3 339.6,138.3 343.1,138.3 346.5,138.3 350,138.3 353,138.3 356,138.3 359,138.3 362,138.3 365,138.3 368,138.3 371,138.3 374.3,138.8 377.6,139.2 380.9,139.7 384.1,140.2 387.3,140.2 390.5,140.3 393.7,140.3 396.9,140.4 400.1,140.4 403.3,140.5 406.5,140.6 409.7,140.6 412.9,140.7 416,140.7 419.2,140.8 422.4,140.8 425.6,140.9 428.8,140.9 432.1,140.9 435.4,140.9 438.6,140.9 441.9,140.9 445.2,140.9 448.5,140.9 451.8,140.9 455.1,140.9 458.3,141.1 461.6,141.2 464.9,141.3 468.2,141.5 471.5,141.6 474.8,141.7 478,141.9 481.3,142 484.5,142 487.6,142.1 490.8,142.1 493.9,142.1 497.1,142.1 500.2,142.2 503.4,142.2 506.5,142.2 509.7,142.2 512.9,142.3 516.1,142.2 519.4,142.1 522.7,142 526,141.9 529.3,141.8 532.6,141.7 535.8,141.6 539.1,141.5 542.1,141.5M575.5,141.5 578.5,141.5 581.5,141.5 584.5,141.5 587.5,141.5 590.5,141.5 593.5,141.5 596.5,141.5 599.5,141.5 603,140.9 606.5,140.2 610,139.6 613.4,139.8 616.7,140 620,140.2 623.3,140.3 626.7,140.5 630,140.7 633.3,140.7 636.7,140.7 640,140.7 643.4,140.6 646.7,140.6 650.1,140.6 653.4,140.6 656.7,140.6 659.8,140.4 662.8,140.2 665.9,140 669,139.8 672,139.7 675.1,139.5 678.1,139.3 681.2,139.5 684.2,139.8 687.3,140.1 690.3,140.3 693.4,140.6 696.5,140.9 699.5,141.1 702.6,141.2 705.8,141.3 708.9,141.4 712,141.5 715.1,141.6 718.2,141.7 721.3,141.6 724.5,141.5 727.6,141.4 730.7,141.3 733.8,141.2 736.9,141.1 740.3,141.2 743.6,141.3 747,141.3 750.3,141.4 753.7,141.5 757,141.5 760.3,141.6 763.7,141.7 767,142.2 770.4,142.7 773.7,143.3 777,143.8 780.1,143.8 783.1,143.8 786.1,143.8 789.1,143.8 792.1,143.8 795.1,143.8 798.1,143.8 801.1,143.8 804.2,144 807.2,144.3 810.3,144.5 813.3,144.7 816.4,145 819.4,145.2 822.5,145.4 825.7,145.5 828.9,145.5 832.1,145.6 835.3,145.6 838.5,145.7 841.7,145.7 845,145.8 848.2,145.8 851.4,145.9 854.6,146 857.9,145.9 861.3,145.8 864.6,145.8 867.9,145.7 871.3,145.6 874.6,145.6 878,145.5 881.3,145.4 886.7,144.4 889.9,144.6 893.1,144.8 896.3,145 899.5,145.2 902.7,145.4 906,145.6 909.3,145.8 912.6,146" fill="none" stroke="#858585" stroke-width="2.0" stroke-dasharray="7.7 3.3" stroke-linejoin="round" stroke-linecap="butt"/>
<path clip-path="url(#cp0)" d="M72.4,161.2 75.8,161 79.2,160.8 82.6,160.6 86,160.4 89.4,160.2 92.9,160 96.3,159.9 99.3,159.7 102.4,159.6 105.5,159.5 108.5,159.3 111.6,159.2 114.7,159.1 117.8,159.3 121,159.5 124.1,159.7 127.3,159.9 130.4,160.1 133.5,159.9 136.5,159.6 139.6,159.3 142.7,159.1 145.7,158.8 148.8,158.5 152.1,158.6 155.4,158.7 158.6,158.8 161.9,158.9 165.2,159 168.5,159.1 171.8,159.2 175.1,159.3 178.3,159.2 181.6,159 184.9,158.8 188.2,158.7 191.5,158.5 194.8,158.3 198,158.2 201.3,158 204.6,158 207.9,157.9 211.2,157.8 214.5,157.8 217.7,157.7 221,157.6 224.3,157.6 227.6,157.5 230.9,157.5 234.2,157.5 237.4,157.5 240.7,157.5 244,157.5 247.3,157.5 250.6,157.5 253.9,157.5 257.1,157.5 260.4,157.4 263.7,157.4 267,157.4 270.3,157.3 273.6,157.3 276.8,157.3 280.1,157.2 283.4,157.2 286.7,157.1 290,157 293.3,157 296.5,156.9 299.8,156.8 303.1,156.8 306.4,156.7 309.7,156.9 313,157 316.2,157.2 319.5,157.4 322.8,157.5 326.1,157.7 329.4,157.9 332.7,158 336.1,158.1 339.6,158.2 343.1,158.3 346.5,158.4 350,158.5 353,158.6 356,158.7 359,158.8 362,158.8 365,158.9 368,159 371,159.1 374.3,159.5 377.6,159.9 380.9,160.3 384.1,160.6 387.2,160.8 390.3,161 393.3,161.2 396.5,161.2M431.4,162 434.8,162 438.2,162 441.6,162 444.9,162 448.3,162 451.7,162 455.1,162 458.3,162.1 461.6,162.3 464.9,162.5 468.2,162.6 471.5,162.8 474.8,162.9 478,163.1 481.3,163.3 484.5,163.3 487.6,163.4 490.8,163.4 493.9,163.5 497.1,163.5 500.2,163.6 503.4,163.6 506.5,163.7 509.7,163.7 512.9,163.8 515.9,163.7 518.9,163.6 521.9,163.5 524.9,163.3 527.9,163.2 530.9,163.1 533.9,163 537,163.2 540.2,163.3 543.3,163.5 546.5,163.6 549.6,163.8 552.9,163.7 556.2,163.6 559.5,163.5 562.8,163.4 566,163.3 569.3,163.2 572.6,163.1 575.9,163 579,163 582,163 585.1,163 588.1,163 591.2,163 594.3,163 597.3,163 600.4,163 603.5,163 606.5,163 609.6,163 612.7,163 616.1,163.1 619.6,163.1 623.1,163.2 626.5,163.2 630,163.3 633.3,163.3 636.7,163.4 640,163.4 643.4,163.4 646.7,163.5 650.1,163.5 653.4,163.6 656.7,163.6 659.9,163.3 663,163.1 666.1,162.8 669.2,162.5 672.3,162.3 675.5,162 678.5,162.3 681.6,162.5 684.6,162.8 687.7,163.1 690.7,163.3 693.8,163.6 696.8,163.9 700.2,164.1 703.5,164.3 706.9,164.5 710.2,164.7 714.2,164.3 718.2,163.9 721.3,164 724.5,164 727.6,164.1 730.7,164.2 733.8,164.3 736.9,164.4 740.3,164.4 743.6,164.5 747,164.5 750.3,164.5 753.7,164.6 757,164.6 760.3,164.6 763.7,164.7 767,165.1 770.4,165.5 773.7,165.9 777,166.3 780.1,166.3 783.1,166.3 786.1,166.4 789.1,166.4 792.1,166.4 795.1,166.5 798.1,166.5 801.1,166.5 804.2,166.9 807.2,167.2 810.3,167.6 813.3,167.9 816.4,168.3 819.4,168.6 822.5,168.9 825.8,169 829,169.1 832.3,169.2 835.6,169.3 838.8,169.4 842.1,169.5 845.4,169.6 848.6,169.7 851.9,169.8 855.2,169.4 858.6,169.1 861.9,168.7 865.3,168.4 868.5,168.6 871.7,168.7 874.9,168.9 878.1,169.1 881.3,169.2 886.7,167.3 889.9,167.6 893.1,167.8 896.3,168 899.5,168.2 902.7,168.4 906,168.8 909.3,169.1 912.6,169.5" fill="none" stroke="#858585" stroke-width="2.0" stroke-dasharray="7.7 3.3" stroke-linejoin="round" stroke-linecap="butt"/>
<path clip-path="url(#cp0)" d="M72.4,186.9 75.8,186.7 79.2,186.5 82.6,186.4 86,186.2 89.4,186 92.9,185.8 96.3,185.6 99.3,185.5 102.4,185.3 105.5,185.2 108.5,185.1 111.6,184.9 114.7,184.8 117.8,185 121,185.2 124.1,185.4 127.3,185.7 130.4,185.9 133.4,185.5 136.4,185 139.4,184.6 142.4,184.2 145.4,183.8 148.4,183.4 151.4,183 154.5,183.2 157.6,183.4 160.6,183.6 163.7,183.8 166.7,184.1 169.8,184.3 172.9,184.2 175.9,184 179,183.9 182.1,183.8 185.1,183.6 188.2,183.5 191.3,183.5 194.3,183.4 197.4,183.4 200.5,183.3 203.5,183.3 206.6,183.2 209.6,182.9 212.7,182.6 215.8,182.3 218.8,182 221.9,181.7 225,181.4 228.2,181.4 231.4,181.5 234.6,181.5 237.8,181.5 241,181.5 244.2,181.6 247.4,181.6 250.7,181.6 253.9,181.7 257.1,181.7 260.4,181.8 263.7,181.9 267,181.9 270.3,182 273.6,182.1 276.8,182.1 280.1,182.2 283.1,182.1 286.1,182 289.1,181.8 292.1,181.7 295.1,181.6 298.1,181.5 301.1,181.4 304.1,181.5 307.1,181.6 310.2,181.7 313.2,181.8 316.2,182 319.2,182.1 322.2,182.2 325.3,182.7 328.5,183.2 331.6,183.8 334.8,184.3 337.9,184.8 340.9,184.5 344,184.3 347,184 350,183.8 353.1,184 356.3,184.2M390.7,186.7 394.7,186.6 398.6,186.5 402.5,186.4 405.8,186.6 409.1,186.8 412.4,187 415.7,187.2 418.9,187.4 422.2,187.6 425.5,187.8 428.8,188 432.1,188 435.4,188 438.6,188 441.9,188 445.2,188 448.5,188 451.8,188 455.1,188 458.3,188.2 461.6,188.4 464.9,188.6 468.2,188.8 471.5,188.9 474.8,189.1 478,189.3 481.3,189.5 484.6,189.5 487.9,189.5 491.2,189.5 494.5,189.5 497.7,189.5 501,189.5 504.3,189.5 507.6,189.5 512.9,190.6 515.9,190.4 518.9,190.2 521.9,190 524.9,189.8 527.9,189.7 530.9,189.5 533.9,189.3 537,189.5 540.2,189.8 543.3,190.1 546.5,190.3 549.6,190.6 552.9,190.4 556.2,190.2 559.5,190 562.8,189.8 566,189.6 569.3,189.4 572.6,189.2 575.9,189 579,189 582,189.1 585.1,189.1 588.1,189.1 591.2,189.1 594.3,189.1 597.3,189.2 600.4,189.2 603.5,189.2 606.5,189.2 609.6,189.3 612.7,189.3 616.2,189.5 619.7,189.8 623.2,190.1 626.6,189.7 630,189.3 633.3,189.4 636.7,189.6 640,189.8 643.4,189.9 646.7,190.1 650.1,190.3 653.4,190.4 656.7,190.6 659.9,190.2 663,189.9 666.1,189.5 669.2,189.2 672.3,188.8 675.5,188.5 678.5,188.8 681.6,189.1 684.6,189.4 687.7,189.7 690.7,190 693.8,190.3 696.8,190.6 700.4,191.2 704,191.9 707.5,192.5 711.1,192 714.7,191.6 718.2,191.1 721.3,191.3 724.5,191.4 727.6,191.5 730.7,191.7 733.8,191.8 736.9,191.9 740.3,192 743.6,192.1 747,192.1 750.3,192.2 753.7,192.3 757,192.3 760.3,192.4 763.7,192.5 767,192.9 770.4,193.3 773.7,193.7 777,194.1 780.1,194 783.1,194 786.1,194 789.1,193.9 792.1,193.9 795.1,193.9 798.1,193.8 801.1,193.8 804.2,194.3 807.2,194.8 810.3,195.3 813.3,195.8 816.4,196.3 819.4,196.8 822.5,197.3 825.8,197.4 829,197.5 832.3,197.6 835.6,197.6 838.8,197.7 842.1,197.8 845.4,197.9 848.6,198 851.9,198.1 855.2,197.8 858.6,197.4 861.9,197.1 865.3,196.8 868.5,197 871.7,197.2 874.9,197.4 878.1,197.6 881.3,197.8 886.7,196 889.9,196.1 893.1,196.2 896.3,196.3 899.5,196.4 902.7,196.5 906,196.8 909.3,197 912.6,197.3" fill="none" stroke="#858585" stroke-width="2.0" stroke-dasharray="7.7 3.3" stroke-linejoin="round" stroke-linecap="butt"/>
<path clip-path="url(#cp0)" d="M72.4,216.3 75.8,216.3 79.2,216.2 82.6,216.1 86,216 89.4,216 92.9,215.9 96.3,215.8 99.5,215.8 102.8,215.7 106.1,215.7 109.4,215.7 112.7,215.6 116,215.6 119.2,215.6 122.5,215.5 126.5,217 130.4,218.4 135.7,216.9 138.7,216.8 141.7,216.7 144.8,216.6 147.8,216.5 150.8,216.4 153.9,216.3 156.9,216.2 159.9,216 162.9,215.9 166,215.8 169,215.7 172,215.6 175.1,215.5 178.3,215.5 181.6,215.4 184.9,215.3 188.2,215.3 191.5,215.2 194.8,215.2 198,215.1 201.3,215 204.6,214.9 207.9,214.7 211.2,214.5 214.5,214.4 217.7,214.2 221,214 224.3,213.9 227.6,213.7 230.8,213.6 233.9,213.5 237.1,213.5 240.2,213.4 243.4,213.3 246.5,213.2 249.7,213.2 252.8,213.1 256,213 259.1,212.9 262.1,213 265.1,213.1 268.1,213.3 271.1,213.4 274.1,213.5 277.1,213.6 280.1,213.7 283.4,213.6 286.7,213.4 290,213.3 293.3,213.2 297.2,212.4 301.1,211.6 304.2,211.8 307.3,212 310.3,212.1 313.4,212.3 316.5,212.5 319.5,212.7 322.6,212.7 325.6,212.7 328.7,212.7 331.7,212.8 334.8,212.8 337.8,212.8 340.9,212.8 343.9,212.9 347,212.9 350,212.9 353.1,212.7 356.2,212.5 359.3,212.3 362.4,212.1 365.5,211.8 368.6,211.6 371.7,211.4 374.8,211.2 377.9,211 381,210.8 384.1,210.6 387.3,210.6 390.5,210.6 393.7,210.7 396.9,210.7 400.1,210.7 403.3,210.8 406.5,210.8 409.7,210.9 412.9,210.9 416,210.9 419.2,211 422.4,211 425.6,211 428.8,211.1 432.1,211.1 435.4,211.1 438.6,211.1 441.9,211.1 445.2,211.1 448.5,211.1 451.8,211.1 455.1,211.1 458.3,211.1 461.6,211.1 464.9,211.1 468.2,211.1 471.5,211.1 474.8,211.1 478,211.1 481.3,211.1 484.6,211.1 487.9,211.1 491.2,211.1 494.5,211.1 497.7,211.1 501,211.1 504.3,211.1 507.6,211.1 510.8,211.1 513.9,211 517.1,211 520.2,211 523.4,211 526.5,211 529.7,211 532.8,210.9 536,210.9 539.1,210.9 542.3,210.9 545.4,210.9 548.6,210.9 551.7,210.8 554.9,210.8M575.9,210 579,210.1 582,210.1 585.1,210.2 588.1,210.2 591.2,210.2 594.3,210.3 597.3,210.3 600.4,210.4 603.5,210.4 606.5,210.5 609.6,210.5 612.7,210.6 616.1,210.6 619.6,210.6 623.1,210.6 626.5,210.6 630,210.6 633.1,210.6 636.3,210.6 639.4,210.7 642.6,210.7 645.7,210.7 648.9,210.8 652,210.8 655.2,210.9 658.3,210.9 661.5,210.9 664.6,211 667.7,211 670.9,211 674,211.1 677.2,211.1 680.3,211.2 683.5,211.2 686.6,211.2 689.8,211.2 692.9,211.2 696.1,211.2 699.2,211.2 702.3,211.2 705.5,211.2 708.6,211.2 711.8,211.2 714.9,211.2 718.1,211.2 721.2,211.2 724.4,211.2 727.5,211.2 730.7,211.2 733.8,211.2 736.9,211.2 740,211.2 743.1,211.2 746.1,211.2 749.2,211.2 752.2,211.2 755.3,211.2 758.3,211.2 761.4,211.2 764.4,211.2 767.5,211.2 770.6,211.2 773.6,211.2 776.7,211.2 779.7,211.2 782.9,210.4 787.7,211.2 790.9,211.2 794,211.2 797.1,211.2 800.2,211.2 803.3,211.2 806.5,211.2 809.6,211.2 812.7,211.2 815.8,211.2 818.9,211.2 822,211.2 825.2,211.2 828.3,211.2 831.4,211.2 834.5,211.2 837.6,211.2 840.8,211.2 843.9,211.2 847,211.2 850.1,211.2 853.3,211.2 856.4,211.2 859.5,211.3 862.6,211.3 865.7,211.3 868.9,211.3 872,211.3 875.1,211.3 878.2,211.3 881.4,211.3 884.5,211.3 887.6,211.4 890.7,211.4 893.9,211.4 897,211.4 900.1,211.4 903.2,211.4 906.3,211.4 909.5,211.4 912.6,211.5" fill="none" stroke="#858585" stroke-width="2.0" stroke-linejoin="round" stroke-linecap="butt"/>
<text x="137" y="103.1" font-size="13.89" fill="#008000" text-anchor="middle">-50</text>
<text x="290.1" y="124.1" font-size="13.89" fill="#008000" text-anchor="middle">-40</text>
<text x="559.4" y="146.8" font-size="13.89" fill="#008000" text-anchor="middle">-30</text>
<text x="413" y="167.1" font-size="13.89" fill="#008000" text-anchor="middle">-20</text>
<text x="372.3" y="189.4" font-size="13.89" fill="#008000" text-anchor="middle">-10</text>
<text x="566" y="214.9" font-size="13.89" fill="#008000" text-anchor="middle">0</text>
<rect x="72.5" y="249.3" width="840.0" height="132.9" fill="#000080"/>
<g clip-path="url(#cp1)" shape-rendering="crispEdges">
<path d="M77.5,249.3 912.5,249.3 912.5,382.2 72.5,382.2 72.5,249.3Z" fill="#000f6d" fill-rule="evenodd"/>
<path d="M77.5,249.3 912.5,249.3 912.5,382.2 72.5,382.2 72.5,249.3Z" fill="#002c48" fill-rule="evenodd"/>
<path d="M77.5,249.3 912.5,249.3 912.5,382.2 72.5,382.2 72.5,249.3Z" fill="#005019" fill-rule="evenodd"/>
<path d="M77.5,249.3 912.5,249.3 912.5,382.2 72.5,382.2 72.5,249.3Z" fill="#004b37" fill-rule="evenodd"/>
<path d="M77.5,249.3 912.5,249.3 912.5,382.2 72.5,382.2 72.5,249.3Z" fill="#002f7a" fill-rule="evenodd"/>
<path d="M77.5,249.3 912.5,249.3 912.5,382.2 72.5,382.2 72.5,249.3Z" fill="#000ecd" fill-rule="evenodd"/>
<path d="M77.5,249.3 912.5,249.3 912.5,382.2 72.5,382.2 72.5,249.3Z" fill="#002aff" fill-rule="evenodd"/>
<path d="M77.5,249.3 912.5,249.3 912.5,382.2 72.5,382.2 72.5,249.3Z" fill="#0063ff" fill-rule="evenodd"/>
<path d="M77.5,249.3 912.5,249.3 912.5,382.2 72.5,382.2 72.5,249.3Z" fill="#00a9ff" fill-rule="evenodd"/>
<path d="M77.5,249.3 912.5,249.3 912.5,382.2 72.5,382.2 72.5,249.3Z" fill="#00ceff" fill-rule="evenodd"/>
<path d="M77.5,249.3 912.5,249.3 912.5,382.2 72.5,382.2 72.5,249.3Z" fill="#00e0ff" fill-rule="evenodd"/>
<path d="M77.5,249.3 912.5,249.3 912.5,382.2 72.5,381.2 72.5,249.3Z" fill="#00f6f8" fill-rule="evenodd"/>
<path d="M77.5,249.3 912.5,249.3 912.5,382.2 262.5,380.5 152.5,378.4 142.5,377.9 82.5,377.4 72.5,377 72.5,249.3Z" fill="#00fed8" fill-rule="evenodd"/>
<path d="M77.5,249.3 912.5,249.3 912.5,382.2 449.3,382.2 417.5,380.5 382.5,379.3 352.5,376.9 337.5,376.5 322.5,377 232.5,376 227.5,376.1 177.5,374.4 157.5,374.6 142.5,373.5 122.5,373.9 97.5,373.3 87.5,373.6 72.5,372.9 72.5,249.3Z" fill="#00fcbd" fill-rule="evenodd"/>
<path d="M77.5,249.3 912.5,249.3 912.5,382.2 510.8,382.2 502.7,380.2 491.5,378.2 472.5,376 462.5,375.4 452.5,375.4 442.5,375.9 417.5,375.3 402.5,375.6 382.5,374.9 352.5,371.6 342.5,371.2 332.5,371.4 322.5,372.4 297.5,372.7 242.5,372 227.5,372.3 177.5,370.2 157.5,370.6 142.5,369.1 137.5,369.1 122.5,369.9 97.5,369.2 87.5,369.6 82.5,369.5 72.5,368.7 72.5,249.3Z" fill="#00fa9d" fill-rule="evenodd"/>
<path d="M77.5,249.3 912.5,249.3 912.5,359.1 911,358.4 907.5,356.2 902.2,356.4 897.5,357.9 892.5,358.2 887.5,358.2 882.5,356.1 867.5,356.4 842.5,356.4 837.5,357.7 827.5,358.3 821.8,358.4 812.5,359.9 802.5,360.3 795.9,360.4 792.5,360.7 787.5,361.5 782.5,361.8 777.5,360.3 764.4,360.4 762.5,360.6 757.5,361.6 722.5,362.2 717.5,362.1 712.5,361.5 707.5,360.3 702.5,360.8 697.5,361.8 685.5,362.4 682.5,362.8 677.5,363.8 672.5,363.6 667.5,362.3 657.5,362 640.4,362.4 632.5,363.9 622.5,364.3 617.5,364.3 612.5,365.8 612,368.3 610.9,370.3 607.5,372.2 606.5,374.3 602.5,376.6 597.5,378.2 592.5,378.2 587.5,377.9 582.5,377.1 579,376.2 572.5,375 567.5,373.8 564.5,372.3 562.5,370.2 558.6,368.3 557.5,366.4 552.5,367.3 537.5,368.1 532.5,368.1 522.5,367.3 517.6,366.3 507.5,365.8 467.5,366.3 442.5,370 422.5,369.8 402.5,371 382.5,370.5 352.5,366.2 347.5,365.9 337.5,365.9 332.2,366.3 322.5,367.9 262.5,368.4 242.5,367.9 227.5,368.4 177.5,365.9 157.5,366.6 142.5,364.7 127.5,365.4 122.5,365.8 97.5,365 87.5,365.6 82.5,365.5 72.5,364.5 72.5,249.3Z" fill="#00fb68" fill-rule="evenodd"/>
<path d="M77.5,249.3 912.5,249.3 912.5,353.6 907.5,350.8 902.5,351.3 897.5,352.2 887.5,352.8 882.5,350.5 877.5,350.5 872.5,351.2 862.5,351.4 852.5,351.2 847.5,351.3 797.5,355.3 782.5,356 777.5,355.3 772.5,355 757.5,356.2 732.5,357 717.5,356.8 707.5,355.6 677.5,358.5 672.5,358.3 662.5,357 657.5,356.6 647.5,357 612.5,359.9 608.3,364.3 607.5,365.5 602.5,369.1 597.5,370.5 587.5,370 572.5,367.6 567.5,366.6 557.5,360.8 537.5,362.1 532.5,362.2 507.5,360 467.5,361.2 442.5,364.3 427.5,364.1 402.5,365.3 382.5,365.1 352.5,361.8 347.5,361.5 337.5,361.6 322.5,363.3 302.5,363.9 242.5,363.5 227.5,363.8 177.5,361.5 167.5,361.7 157.5,362.2 142.5,360.4 137.2,360.4 122.5,361.4 97.5,360.7 87.5,361.3 82.5,361.1 72.5,360.2 72.5,249.3Z" fill="#00fd3f" fill-rule="evenodd"/>
<path d="M77.5,249.3 912.5,249.3 912.5,348.5 912.2,348.5 907.5,345.9 902.5,346.5 897.5,347.4 887.5,348 882.5,345.7 877.5,345.7 871.4,346.5 837.5,347.2 797.5,350.5 782.5,351 776.4,350.5 771.8,350.5 757.5,351.7 737.5,352.4 722.5,352.3 707.5,351.3 677.5,354 672.5,353.8 662.3,352.4 657.5,352.1 642.5,352.8 612.5,355.1 607.5,359.3 602.5,361.9 597.5,362.8 587.5,362.3 571.2,360.4 567.5,359.8 557.5,355.3 547.5,355.6 537.5,356.5 532.5,356.7 512.5,355 507.5,354.8 467.5,356.1 442.5,358.6 422.5,358.5 397.5,359.6 382.5,359.7 352.5,357.4 347.5,357.2 337.5,357.4 322.5,358.8 302.5,359.3 277.5,359 257.5,359.3 242.5,359 227.5,359.2 177.5,357 172.5,357 157.5,357.8 152.5,357.4 142.5,356.1 137.5,356 122.5,357 97.5,356.2 87.5,356.9 77.5,356.3 72.5,355.8 72.5,249.3Z" fill="#0dff0b" fill-rule="evenodd"/>
<path d="M77.5,249.3 912.5,249.3 912.5,343.7 907.5,341.1 897.6,342.5 892.5,343 887.5,343.2 882.5,341 877.5,341 872.5,341.7 867.5,342 832.5,342.6 802.5,345.4 782.5,346 777.5,345.7 772.5,345.8 757.5,347.2 737.5,347.8 717.5,347.5 707.5,346.9 677.5,349.5 672.5,349.3 662.5,348 657.5,347.6 612.5,350.3 608.4,352.4 607.5,353.1 602.5,354.6 597.5,355.1 592.5,354.7 582.5,354.3 572.5,353.6 567.5,353 557.5,349.8 552.5,349.7 547.5,349.9 537.5,350.9 532.5,351.1 512.5,349.6 507.5,349.5 467.5,351.1 442.5,352.9 422.5,352.9 382.5,354.3 347.5,352.9 337.5,353.1 322.5,354.2 307.5,354.7 277.5,354.3 252.5,354.8 192.5,353.5 177.5,352.6 172.5,352.6 157.5,353.5 142.5,351.8 137.5,351.6 122.5,352.6 97.5,351.8 87.2,352.4 82.5,352.3 72.5,351.4 72.5,249.3Z" fill="#2dec00" fill-rule="evenodd"/>
<path d="M77.5,249.3 912.5,249.3 912.5,338.6 912.2,338.6 907.5,336.3 897.5,337.7 892.5,338.2 887.5,338.4 882.5,336.3 877.5,336.3 867.5,337.3 842.5,337.7 832.5,337.7 802.5,340.6 777.5,340.9 757.5,342.6 737.5,343.2 707.5,342.6 677.5,345 672.5,344.8 662.5,343.5 657.5,343.1 617.5,345.1 612.5,345.5 607.5,346.8 602.5,347.4 597.5,347.3 592.5,346.9 571.9,346.5 567.5,346.2 557.5,344.3 552.5,344.1 547.5,344.2 537.5,345.3 532.5,345.6 512.5,344.2 452.5,347 437.5,347.2 422.5,347.2 377.5,348.9 352.5,348.6 332.5,349.1 322.5,349.7 302.5,350.1 277.5,349.6 252.5,350.3 192.5,349.1 177.5,348.1 172.5,348.1 157.5,349.1 142.5,347.5 137.5,347.2 122.5,348.2 97.5,347.4 87.5,348 82.5,347.9 72.5,347.1 72.5,249.3Z" fill="#46dd00" fill-rule="evenodd"/>
<path d="M77.5,249.3 912.5,249.3 912.5,333.7 907.5,331.4 902.5,332 897.5,332.9 887.5,333.5 882.5,331.5 877.5,331.5 872.5,332.2 847.5,333.1 832.5,332.7 802.5,335.7 782.5,335.8 757.5,338 737.5,338.6 712.5,338 707.5,338.2 677.5,340.6 672.5,340.3 662.5,338.9 657.5,338.6 622.5,340 612.5,340.7 597.5,339.8 592.5,339.3 572.5,339.6 567.5,339.5 552.5,338.4 546.9,338.6 537.5,339.7 532.5,340 512.5,338.8 457.5,341.5 417.5,341.7 377.5,343.7 307.5,345.5 277.5,344.9 252.5,345.8 192.5,344.7 177.5,343.6 172.5,343.6 157.5,344.7 152.5,344.3 142.5,343.1 137.5,342.7 122.5,343.6 97.5,342.9 87.5,343.5 82.5,343.4 72.5,342.7 72.5,249.3Z" fill="#66d100" fill-rule="evenodd"/>
<path d="M77.5,249.3 912.5,249.3 912.5,328.3 907.5,325.9 897.5,327.5 887.5,328.1 882.5,326.5 877.5,326.5 867.5,327.2 847.5,327.6 832.5,327.1 802.5,330 776.8,330.6 757.5,332.7 737.5,333.1 727.5,332.9 722.5,332.6 712.5,332.7 677.5,335.4 672.5,335.2 662.5,333.9 657.5,333.6 622.5,334.6 612.5,335.3 607.5,335.2 592.5,333.6 572.5,334 552.5,332.8 547.5,332.9 532.5,334.4 512.5,333.1 472.5,335 457.5,336.1 412.5,336.3 382.5,338 374.7,338.6 332.5,339.5 307.5,340.6 282.5,339.8 257.5,340.6 192.5,339.3 177.5,338.2 172.5,338.1 157.5,339.2 152.5,339 142.5,337.6 137.5,337.3 122.5,338.1 112.5,338.1 97.5,337.2 87.5,337.9 82.5,337.8 72.5,337 72.5,249.3Z" fill="#70e200" fill-rule="evenodd"/>
<path d="M77.5,249.3 912.5,249.3 912.5,322.7 907.5,320.4 897.5,322 892.5,322.5 887.5,322.7 882.5,321.4 877.5,321.4 862.5,321.9 837.5,321.8 832.5,321.5 802.5,324.3 782,324.7 777.5,325 757.5,327.3 732.5,327.6 722.5,327 712.5,327.3 677.5,330.3 672.5,330.1 657.5,328.5 632.5,329.3 622.5,329.2 612.5,329.9 607.5,329.8 592.5,328 572.5,328.5 552.5,327.2 547.5,327.3 537.5,328.4 532.5,328.7 512.5,327.3 472.5,329.4 457.7,330.6 452.5,330.8 422.5,330.5 407.5,330.9 387.5,332.1 377.5,333.2 332.5,334.2 307.5,335.6 282.5,334.8 262.5,335.1 257.5,335.5 212.6,334.6 187.5,333.6 177.5,332.7 171.7,332.6 162.5,333.1 157.5,333.7 152.5,333.6 142.5,332 137.5,331.7 127.5,332.3 111.6,332.6 102.5,331.7 97.5,331.4 87.5,332.2 72.5,331.3 72.5,249.3Z" fill="#78ef00" fill-rule="evenodd"/>
<path d="M77.5,249.3 912.5,249.3 912.5,317.4 907.5,314.8 897.5,316.6 887.5,317.3 882.5,316.4 837.5,316.3 832.5,315.9 802.5,318.6 782.5,319 777.5,319.4 762.5,321.4 757.5,321.9 732.5,322.2 722.5,321.4 702.5,322.9 677.5,325.1 672.5,325 662.5,323.8 657.5,323.4 637.5,324.2 627.5,324.1 622.5,323.8 612.5,324.4 607.5,324.3 592.5,322.4 572.5,323 552.5,321.6 547.5,321.6 537.5,322.8 532.5,323.1 512.5,321.6 477.5,323.4 457.5,325.2 452.5,325.4 417.5,325 392.5,326.2 377.5,328 352.5,328.8 337.5,328.7 327.5,329.3 317.5,330.1 307.5,330.6 287.5,329.8 262.5,329.8 257.5,330.4 217.5,329.7 197.5,328.5 187.5,328.1 177.5,327.2 172.5,327 162.5,327.5 157.5,328.2 152.5,328.2 142.5,326.4 137.5,326.2 132.6,326.7 122.5,326.7 112.5,327.3 102.5,326 97.5,325.6 87.5,326.5 72.5,325.5 72.5,249.3Z" fill="#84ff0c" fill-rule="evenodd"/>
<path d="M77.5,249.3 912.5,249.3 912.5,311.9 907.5,309.3 897.5,311.1 887.5,311.9 882.5,311.3 847.5,310.8 837.5,310.8 832.5,310.3 802.5,312.9 782.5,313.4 777.5,313.8 762.5,315.9 757.5,316.4 732.5,316.7 727.5,316.4 722.5,315.7 677.5,320 672.5,319.9 657.5,318.3 647.5,318.9 632.5,319.1 622.5,318.4 612.5,319 607.5,318.9 592.5,316.9 572.5,317.4 552.5,316 547.5,316 537.5,317.2 532.5,317.5 512.5,315.9 472.5,318.2 457.5,319.8 452.5,320 417.5,319.4 392.7,320.7 387.5,321.2 377.5,322.8 352.5,323.6 337.5,323.4 332.5,323.6 317.5,325 307.5,325.6 287.5,324.7 261.9,324.7 257.5,325.3 247.5,324.9 237.5,325 217.5,324.5 202.5,323.3 187.2,322.7 177.5,321.7 167.5,321.5 162.5,321.9 156.8,322.7 151.9,322.7 142.5,320.8 137.5,320.7 132.5,321.2 127.5,321.3 122.5,321.1 112.5,321.9 102.5,320.3 97.5,319.8 87.5,320.8 72.5,319.8 72.5,249.3Z" fill="#9bff20" fill-rule="evenodd"/>
<path d="M77.5,249.3 912.5,249.3 912.5,306.5 907.5,303.8 897.5,305.7 892.5,306.2 887.5,306.4 852.5,305.2 842.5,305.4 837.5,305.3 832.5,304.7 802.5,307.2 782.5,307.8 777.5,308.2 767.5,309.9 757.5,311 732.5,311.3 726.6,310.8 722.5,310.1 697.5,313.1 677.5,314.9 672.5,314.8 657.5,313.2 647.5,313.8 632.5,314 622.5,313 617.5,313 612.5,313.5 607.5,313.4 592.5,311.3 572.5,311.8 552.5,310.4 547.5,310.3 537.5,311.5 532.5,311.8 512.5,310.1 477.5,312.1 457.5,314.2 452.5,314.5 417.5,313.7 392.5,315.1 387.5,315.6 377.5,317.4 352.5,318.4 337.5,318 332.5,318.2 327.5,318.9 307.5,320.5 287.5,319.4 272.5,319.6 262.5,319.2 257.5,320 247.5,319.5 217.5,319.2 202.5,317.7 187.5,317.2 177.5,316.1 172.5,315.8 167.5,315.8 162.5,316.2 157.5,317.1 152.5,317.3 142.5,315.1 137.5,315.1 132.5,315.6 127.5,315.6 122.5,315.3 112.5,316.5 107.5,315.4 102.5,314.5 97.5,313.9 90.7,314.8 87.5,315 72.5,314 72.5,249.3Z" fill="#adff30" fill-rule="evenodd"/>
<path d="M77.5,249.3 912.5,249.3 912.5,301.3 907.5,299 897.5,300.6 892.5,301.1 887.5,301.3 852.5,300.2 842.5,300.4 837.5,300.3 832.5,299.8 797.5,301.9 782.5,302.2 762.5,304.9 757.5,305.3 732.5,305.6 727.5,305.3 722.5,304.6 677.5,308.8 657.5,307.4 647.5,307.8 632.5,307.8 627.5,307.5 622.5,306.9 617.5,306.9 612.5,307.4 607.5,307.4 597.5,305.7 592.5,305.1 577.5,305.1 572.5,305.3 552.5,304.1 547.5,304.1 532.5,305.2 512.5,303.8 477.5,305.4 452.5,307.5 417.6,306.8 392.5,307.9 387.5,308.3 382.5,309.1 377.5,310.2 367.5,311 352.5,311.5 337.5,311 332.5,311.1 322.5,312.1 307,312.8 287.5,312 272.5,312 262.5,311.4 257.5,311.9 247.5,311.7 237.5,311.9 217.5,311.4 202.5,310.1 187.5,309.6 172.5,308.4 167.5,308.3 161.1,308.8 157.5,309.4 152.5,309.6 142.5,307.8 137.5,307.8 132.5,308.1 122.5,307.9 112.5,308.9 102.5,307.1 97.5,306.6 87.5,307.6 72.5,306.8 72.5,249.3Z" fill="#c4ff34" fill-rule="evenodd"/>
<path d="M77.5,249.3 912.5,249.3 912.5,296.1 907.5,294.2 892.5,296 887.5,296.3 852.5,295.3 837.5,295.4 832.5,295 782.5,296.7 777.5,297.2 762.5,299.3 747.5,299.8 732.5,299.9 722.5,299.1 717.5,299.3 697.5,301.4 677.5,302.6 667.5,302.2 657.5,301.5 647.5,301.7 632.5,301.5 622.5,300.8 616.3,300.9 612.5,301.2 607.5,301.3 597.5,299.5 592.5,298.8 577.5,298.5 567.5,298.6 552.5,297.8 547.5,297.7 532.5,298.5 512.5,297.4 467.5,299.3 452.5,300.5 417.5,299.8 387.5,300.9 382.5,301.5 377.3,302.9 367.5,303.9 352.5,304.5 337.5,303.9 332.5,303.9 312.5,305.1 302.5,304.6 292.5,304.6 287.5,304.3 272.5,304.2 267.5,303.9 262.5,303.3 257.5,303.6 247.5,303.6 237.5,304 209,302.9 192.5,302 182.5,301.6 172.5,300.8 167.5,300.7 162.6,300.9 157.5,301.6 152.5,301.9 142.5,300.4 137.5,300.3 127.5,300.5 122.5,300.4 112.5,301.3 102.5,299.6 97.5,299.3 87.5,300.1 72.5,299.5 72.5,249.3Z" fill="#dbff20" fill-rule="evenodd"/>
<path d="M77.5,249.3 912.5,249.3 912.5,290.9 907.5,289.5 902.5,289.8 897.5,290.5 887.5,291.2 862.5,290.4 837.5,290.4 832.5,290.1 782.5,291.2 777.5,291.6 762.5,293.7 737.5,294.3 727.5,294 722.5,293.6 717.5,293.7 692.5,295.8 677.5,296.5 652.5,295.5 637.5,295.4 617.5,294.6 607.5,295.2 595.5,292.9 577.5,291.9 557.5,291.8 547.5,291.4 532.5,291.8 512.5,291.1 467.5,292.4 457.5,292.9 452.5,293.4 447.5,293.5 427.5,292.7 387.5,293.5 382.5,293.9 377.5,295.5 367,296.9 352.5,297.5 332.5,296.7 312.5,297.5 302.5,296.7 292.1,296.9 272.5,296.4 267.5,296 262.5,295.3 247.5,295.6 237.5,296 217.5,295.5 182.5,293.9 167.5,293 162.5,293.2 157.5,293.8 152.5,294.1 140.7,292.9 121.6,292.9 112.5,293.6 102.5,292.1 97.5,291.9 87.5,292.7 72.5,292.2 72.5,249.3Z" fill="#edff10" fill-rule="evenodd"/>
<path d="M77.5,249.3 912.5,249.3 912.5,285.7 907.5,284.7 901.4,285 887.5,286.1 867.5,285.4 792.5,285.4 782.5,285.7 777.5,286.1 762.5,288.1 737.5,288.6 722.5,288.1 717.5,288.1 697.5,289.7 677.5,290.4 627.5,288.8 622.5,288.5 617.5,288.5 607.5,289.1 602.5,288.2 597.5,286.9 592.5,286.3 577.5,285.4 557.5,285.4 512.5,284.7 457.5,285.8 452.5,286.4 447.5,286.5 427.5,285.5 397.5,286.2 387.5,286.1 382.5,286.3 377.5,288.1 372.5,289.1 367.5,289.8 357.5,290.4 347.5,290.4 332.5,289.5 312.5,289.9 302.5,288.8 297.5,289.2 292.5,289.3 272.5,288.6 267.5,288.2 262.5,287.3 257.5,287 242.5,288 237.5,288.1 182.5,286.3 167.5,285.4 162.5,285.5 157.5,286.1 152.5,286.3 137.5,285.4 127.5,285.2 122.5,285.3 112.5,286 102.5,284.6 97.5,284.6 87.5,285.2 72.5,284.9 72.5,249.3Z" fill="#fff500" fill-rule="evenodd"/>
<path d="M77.5,249.3 912.5,249.3 912.5,280.7 907.5,280.2 902.5,280.2 887.5,281 862.5,280.5 802.5,280.2 797.5,280 782.5,280.4 772.5,281.3 767.5,282.1 762.5,282.6 737.5,283 717.5,282.6 697.5,284 677.5,284.4 647.5,283.5 637.5,282.9 617.5,282.5 607.5,283 602.5,282.2 597.5,280.7 577.5,278.9 572.5,278.8 556.8,279.1 507.5,278.5 457.5,278.8 452.5,279.4 447.5,279.7 432.5,278.7 402.5,279.2 382.5,278.9 376.6,281 372.5,282.1 362.5,283.2 352.5,283.6 347.5,283.5 332.5,282.4 312.5,282.4 307.5,281.8 301.7,281 297.5,281.6 292.5,281.8 277.5,281 272.5,280.9 267.5,280.5 262.5,279.4 257.5,278.9 242.5,280.2 232.5,280.2 177.5,278.6 167.5,278 162.5,278 157.5,278.5 152.5,278.7 127.5,277.8 112.5,278.5 107.5,278 102.5,277.2 97.5,277.3 87.5,278 72.5,277.8 72.5,249.3Z" fill="#ffeb00" fill-rule="evenodd"/>
<path d="M77.5,249.3 912.5,249.3 912.5,277.1 907.5,276.7 902.5,276.7 887.5,277.6 862.5,277 812.5,276.8 797.5,276.3 782.5,276.5 762.5,278.4 737.5,278.9 717.5,278.5 697.5,279.6 677.5,279.9 617.5,278.1 607.5,278.7 600,277.1 597.5,276.4 577.5,274.5 557.5,274.9 522.5,274.2 457.5,274.3 452.5,274.9 447.5,275 427.5,274.1 402.5,274.7 382.5,274.1 377.5,275.8 367.5,277.6 362.5,278 352.5,278.2 337.5,277.5 332.5,277.1 312.5,276.8 302.5,275.5 292.5,276.3 272.5,275.5 267.5,275 262.5,274.1 257.5,273.5 242.5,274.6 237.5,274.8 217.5,274.1 182.5,273.7 167.5,272.9 162.5,272.9 152.5,273.4 127.5,272.8 112.5,273.4 102.5,272.6 82.5,273.1 72.5,273 72.5,249.3Z" fill="#ffdf00" fill-rule="evenodd"/>
<path d="M77.5,249.3 912.5,249.3 912.5,273.8 907.5,273.5 887.5,274.1 857.5,273.7 817.5,273.6 792.5,272.8 782.5,272.8 762.5,274.4 732.5,274.8 717.5,274.6 692.5,275.5 667.5,275.3 627.5,274 617.5,273.9 607.5,274.3 597.5,272.2 577.5,270.3 572.5,270.2 557.5,270.7 527.5,270 512.5,270.3 457.5,270 452.5,270.4 442.5,270.4 427.5,269.9 402.5,270.2 382.5,269.5 375.8,271.1 367.5,272.4 362.5,272.8 352.5,273 312.5,271.4 302.5,270.1 292.5,270.9 272.5,270.2 267.5,269.7 257.5,268.3 252.5,268.4 242.5,269.2 237.5,269.4 217.5,268.6 177.5,268.5 167.5,268 152.5,268.3 132.5,268.2 127.5,268 112.5,268.4 97.5,268.1 72.5,268.4 72.5,249.3Z" fill="#ffd303" fill-rule="evenodd"/>
<path d="M77.5,249.3 912.5,249.3 912.5,270.4 902.5,270.2 882.5,270.6 822.5,270.4 782.5,269 757.5,270.5 717.5,270.6 697.5,271.3 617.5,269.7 607.5,270 597.5,268 577.5,266 557.5,266.5 532.5,265.8 507.5,266.2 457.5,265.7 447.5,266.1 422.5,265.6 402.5,265.7 382.5,264.8 367.5,267.3 352.5,267.7 312.5,265.9 302.5,264.7 292.5,265.5 272.5,264.9 267.5,264.5 257.5,263 252.5,263 237.5,264.1 217.5,263.1 202.5,263.7 177.5,263.6 162.5,263.1 146.7,263.2 137.5,263.5 72.5,263.9 72.5,249.3Z" fill="#ffc908" fill-rule="evenodd"/>
<path d="M77.5,249.3 912.5,249.3 912.5,267.1 822.5,267 782.5,265.3 752.5,266.5 697.5,267.1 617.5,265.5 607.5,265.6 597.5,263.8 577.5,261.8 557.5,262.3 532.5,261.6 512.5,262.2 457.5,261.4 447.5,261.6 401,261.2 382.5,260.2 367.5,262.1 352.5,262.4 317.5,260.9 307.5,259.9 302.5,259.2 292.5,260.1 287.5,260.2 272.5,259.6 267.5,259.2 257.5,257.8 252.5,257.6 237.5,258.7 217.5,257.6 202.5,258.5 172.5,258.5 147.5,258.1 137.5,258.7 112.5,258.4 102.5,259 72.5,259.3 72.5,249.3Z" fill="#ffbc0d" fill-rule="evenodd"/>
<path d="M77.5,249.3 912.5,249.3 912.5,263.9 822.5,263.9 807.5,263 782.5,261.8 752.5,262.7 682.5,262.7 632.5,261.3 607,261.2 592.5,259 577.5,257.6 557.5,258.1 532.5,257.4 507.5,258 402.5,256.8 382.5,255.6 367.5,256.9 352.5,257.1 332.5,256.6 302.5,254.1 292.5,254.9 287.5,255 272.5,254.5 267.5,254.1 262.6,253.3 252.5,252.7 237.5,253.4 217.5,252.6 187.5,253.7 172.5,253.7 147.5,253.1 137.5,254.1 112.5,253.5 102.5,254.5 87.5,254.3 72.5,254.7 72.5,249.3Z" fill="#ff990a" fill-rule="evenodd"/>
<path d="M77.5,249.3 912.5,249.3 912.5,261.6 822.5,261.4 782.5,259.5 707.5,260.2 682.5,259.6 627.5,256.9 607.5,256.6 597.5,255.4 577.5,254 557.5,254.1 532.5,253.3 402.5,252.1 382.5,251.5 362.5,252 332.5,251.7 302.5,250.7 287.5,251 252.5,250.1 237.5,250.5 217.5,250.1 72.5,250.4 72.5,249.3Z" fill="#ff7807" fill-rule="evenodd"/>
<path d="M537.5,249.3 912.5,249.3 912.5,259.2 822.5,259.1 782.5,257.4 727.5,257.8 692.5,257.2 642.5,253.8 632.5,252.8 602.5,251.7 532.8,249.3Z" fill="#ff5002" fill-rule="evenodd"/>
<path d="M642.5,249.3 912.5,249.3 912.5,257.2 822.5,256.9 782.5,255.3 712.5,255 687.5,254.1 652.5,251.1 637.6,249.3Z" fill="#ff3400" fill-rule="evenodd"/>
<path d="M672.5,249.3 912.5,249.3 912.5,255.2 822.5,254.6 782.5,253.2 727.5,252.9 687.5,251.2 667.6,249.3Z" fill="#ff2100" fill-rule="evenodd"/>
<path d="M707.5,249.3 912.5,249.3 912.5,253 822.5,252.3 782.5,251.1 727.5,250.4 703.5,249.3Z" fill="#ff0a00" fill-rule="evenodd"/>
<path d="M797.5,249.3 912.5,249.3 912.5,250.9 812.5,249.8 793.8,249.3Z" fill="#ff0058" fill-rule="evenodd"/>
</g>
<path d="M72.5,315.8H912.5" stroke="#b4b4b4" stroke-width="0.95" stroke-dasharray="4.9 2.1" fill="none" opacity="0.9"/>
<path clip-path="url(#cp1)" d="M72.4,254.7 75.7,254.6 79.1,254.5 82.4,254.3 85.8,254.2 88.8,254.2 91.9,254.3 95,254.3 98,254.4 101.1,254.4 104.1,254.5 108.1,253.9 112,253.4 115.3,253.5 118.6,253.5 121.9,253.6 125.2,253.7 128.4,253.7 131.7,253.8 135,253.9 138.3,253.9 141.8,253.6 145.3,253.2 148.8,252.9 152.1,253 155.4,253.1 158.6,253.2 161.9,253.3 165.2,253.4 168.5,253.5 171.8,253.6 175.1,253.7 178.3,253.6 181.6,253.6 184.9,253.6 188.2,253.5 191.5,253.5 194.8,253.5 198,253.4 201.3,253.4 204.5,253.1 207.6,252.9 210.8,252.6 213.9,252.4 217.1,252.1 220.1,252.3 223.1,252.5 226.1,252.7 229.1,252.8 232.1,253 235.1,253.2 238.1,253.4 241.3,253.1 244.4,252.9 247.6,252.6 250.7,252.4 253.9,252.1 257,252.5 260.2,252.9 263.3,253.4 266.5,253.8 269.6,254.2 272.6,254.3 275.6,254.4 278.6,254.5 281.6,254.6 284.6,254.8 287.6,254.9 290.6,255 294.1,254.5 297.6,254.1 301.1,253.7 304.3,254 307.4,254.4 310.6,254.8 313.8,255.1 316.9,255.5 320.1,255.7 323.2,255.9 326.4,256.1 329.5,256.3 332.7,256.6 336.1,256.7 339.6,256.8 343.1,256.9 346.5,257 350,257.1 353.2,257.1 356.3,257.1 359.5,257.1 362.6,257.1 365.8,257.1 368.9,256.8 372.1,256.5 375.2,256.1 378.4,255.8 381.5,255.5 384.5,255.7 387.5,255.9 390.5,256.1 393.5,256.3 396.5,256.4 399.5,256.6 402.5,256.8 405.8,256.9 409.1,256.9 412.4,256.9 415.7,257 418.9,257 422.2,257 425.5,257 428.8,257.1 432.1,257.1 435.4,257.1 438.6,257.1 441.9,257.1 445.2,257.1 448.5,257.1 451.8,257.1 455.1,257.1 458.3,257.1 461.6,257.2 464.9,257.3 468.2,257.3 471.5,257.4 474.8,257.5 478,257.5 481.3,257.6 484.5,257.7 487.6,257.7 490.8,257.8 493.9,257.8 497.1,257.9 500.2,257.9 503.4,258 506.5,258 509.7,258.1 512.9,258.1 515.9,258 518.9,257.9 521.9,257.8 524.9,257.7 527.9,257.6 530.9,257.5 533.9,257.3 537.1,257.4 540.4,257.5 543.7,257.6 547,257.7 550.3,257.8 553.6,257.9 556.8,258 560.1,258.1 563.3,258 566.4,257.8 569.6,257.7 572.7,257.5 575.9,257.3 578.9,257.6 581.9,257.9 584.9,258.2 587.9,258.5 590.9,258.8 593.9,259.1 596.9,259.4 600.4,260.1 603.9,260.7 607.4,261.3 610.6,261.3 613.9,261.3 617.1,261.3 620.3,261.3 623.5,261.3 626.8,261.3 630,261.3 633.3,261.4 636.7,261.4 640,261.5 643.4,261.6 646.7,261.6 650.1,261.7 653.4,261.8 656.7,261.8 659.8,261.9 662.8,262 665.9,262.1 669,262.1 672,262.2 675.1,262.3 678.1,262.4 681.6,262.5 685.1,262.6 688.6,262.7 692,262.8 695.5,262.9M734.3,262.6 737.3,262.6 740.3,262.6 743.3,262.5 746.3,262.5 749.3,262.5 752.3,262.4 755.3,262.4 758.3,262.4 761.3,262.3 764.3,262.2 767.4,262.1 770.4,262 773.4,261.9 776.4,261.8 779.4,261.7 782.4,261.6 785.5,261.8 788.6,261.9 791.7,262.1 794.9,262.3 798,262.5 801.1,262.6 804.2,262.8 807.2,263 810.3,263.1 813.3,263.3 816.4,263.4 819.4,263.6 822.5,263.7 825.5,263.7 828.5,263.7 831.5,263.7 834.5,263.7 837.5,263.7 840.5,263.7 843.5,263.7 846.6,263.7 849.6,263.7 852.6,263.7 855.6,263.7 858.6,263.7 861.6,263.7 864.6,263.7 867.6,263.7 870.6,263.7 873.8,263.7 877.1,263.7 880.3,263.7 883.5,263.7 886.8,263.7 890,263.7 893.2,263.7 896.4,263.7 899.7,263.7 902.9,263.7 906.1,263.7 909.4,263.7 912.6,263.7" fill="none" stroke="#808080" stroke-width="2.35" stroke-linejoin="round" stroke-linecap="butt"/>
<path clip-path="url(#cp1)" d="M72.4,277.6 75.7,277.6 79.1,277.7 82.4,277.8 85.8,277.8 88.9,277.7 92.1,277.5 95.2,277.4 98.4,277.2 101.5,277 105,277.5 108.5,277.9 112,278.4 115.2,278.2 118.3,278 121.5,277.9 124.6,277.7 127.8,277.6 131.1,277.7 134.4,277.8 137.6,278 140.9,278.1 144.2,278.2 147.5,278.4 150.8,278.5 154.1,278.6 157.6,278.3 161.1,277.9 164.6,277.6 167.7,277.8 170.9,278 174,278.2 177.2,278.4 180.3,278.6 183.3,278.7 186.3,278.8 189.3,278.8 192.3,278.9 195.3,279 198.3,279.1 201.3,279.1 204.4,279.2 207.4,279.3 210.4,279.4 213.5,279.5 216.5,279.6 219.5,279.6 222.5,279.7 225.6,279.8 228.6,279.9 231.6,280 234.7,280 237.7,280.1 240.7,280.2 243.8,279.9 246.9,279.7 249.9,279.4 253,279.1 256.1,278.9 259.1,278.6 262.6,279.3 266.1,280 269.6,280.7 272.9,280.9 276.2,281 279.5,281.1 282.8,281.2 286,281.4 289.3,281.5 292.6,281.6 295.9,281.8 301.1,280.7 304.6,281.2 308.1,281.8 311.7,282.3 314.7,282.3 317.7,282.3 320.7,282.3 323.7,282.3 326.7,282.3 329.7,282.3 332.7,282.3 336.1,282.6 339.6,282.8 343.1,283.1 346.5,283.3 350,283.6 353.2,283.5 356.3,283.4 359.5,283.3 362.6,283.2 365.8,283.1 369.3,282.5 372.8,281.9 376.3,281.2 379.5,279.9 382.8,278.6 386.1,278.7 389.4,278.8 392.7,278.9 396,279 399.2,279.1 402.5,279.1 405.8,279 409.1,278.9 412.4,278.9 415.7,278.8 418.9,278.7 422.2,278.6 425.5,278.5 428.8,278.4 431.8,278.5 434.8,278.7 437.8,278.9 440.8,279.1 443.8,279.3 446.8,279.5 449.8,279.7 453.8,279.1 457.7,278.6M494.1,278.4 497.1,278.4 500.2,278.4 503.2,278.4 506.3,278.4 509.3,278.4 512.4,278.4 515.5,278.4 518.5,278.4 521.6,278.4 524.7,278.4 527.7,278.4 530.8,278.4 533.9,278.4 537.1,278.5 540.4,278.6 543.7,278.7 547,278.8 550.3,278.9 553.6,278.9 556.8,279 560.1,279.1 563.3,279 566.4,278.9 569.6,278.8 572.7,278.7 575.9,278.6 578.9,278.9 581.9,279.1 584.9,279.4 587.9,279.7 590.9,279.9 593.9,280.2 596.9,280.5 600,281.3 603,282.2 606.1,283.1 610,282.8 614,282.6 617.9,282.3 620.9,282.4 624,282.4 627,282.5 630,282.6 633.3,282.7 636.7,282.9 640,283 643.4,283.2 646.7,283.3 650.1,283.5 653.4,283.6 656.7,283.8 659.8,283.8 662.8,283.9 665.9,284 669,284.1 672,284.1 675.1,284.2 678.1,284.3 681.2,284.2 684.2,284.1 687.3,284.1 690.3,284 693.4,283.9 696.5,283.8 699.5,283.8 702.6,283.5 705.8,283.3 708.9,283.1 712,282.9 715.1,282.7 718.2,282.4 721.3,282.5 724.5,282.6 727.6,282.7 730.7,282.8 733.8,282.9 736.9,283 740.3,282.9 743.6,282.8 747,282.8 750.3,282.7 753.7,282.6 757,282.6 760.3,282.5 763.7,282.4 766.9,282 770.1,281.6 773.3,281.1 776.5,280.7 779.7,280.3 782.9,280.2 786.1,280.1 789.3,280 792.6,279.9 795.8,279.8 798.8,279.8 801.9,279.9 804.9,280 808,280.1 811,280.1 814.1,280.2 817.1,280.3 820.5,280.3 823.8,280.4 827.2,280.4 830.5,280.4 833.9,280.5 837.2,280.5 840.5,280.5 843.9,280.6 847.2,280.5 850.6,280.5 853.9,280.5 857.3,280.4 860.6,280.4 863.9,280.4 867.3,280.3 870.6,280.3 873.8,280.5 877,280.6 880.2,280.8 883.5,280.9 886.7,281.1 889.8,280.9 892.9,280.6 896,280.4 899.1,280.2 902.3,280 905.4,279.8 909,280.2 912.6,280.6" fill="none" stroke="#808080" stroke-width="2.35" stroke-linejoin="round" stroke-linecap="butt"/>
<path clip-path="url(#cp1)" d="M72.4,314.1 75.6,314.3 78.8,314.5 82,314.7 85.2,314.9 88.4,315.1 91.9,314.7 95.4,314.3 98.9,313.8 102.5,314.5 106.1,315.3 109.7,316 113.3,316.7 116.4,316.3 119.5,315.8 122.5,315.4 126.5,315.7 130.4,315.9 133.9,315.6 137.4,315.2 140.9,314.9 144.2,315.6 147.5,316.3 150.8,317 154.1,317.8 157.6,317.1 161.1,316.5 164.6,315.9 168.1,315.9 171.6,315.9 175.1,315.9 178.6,316.4 182.1,316.8 185.6,317.2 188.7,317.3 191.9,317.4 195,317.5 198.2,317.7 201.3,317.8 204.5,318.1 207.6,318.4 210.8,318.7 213.9,319 217.1,319.3 220.1,319.4 223.1,319.5 226.1,319.6 229.1,319.6 232.1,319.7 235.1,319.8 238.1,319.9 241.4,319.8 244.7,319.7 248,319.7 251.2,319.6 255.2,320.6 258.5,320 261.7,319.3 265,319.5 268.3,319.6 271.6,319.7 274.9,319.9 278.2,319.8 281.4,319.7 284.7,319.7 288,319.6 291.1,319.8 294.1,319.9 297.2,320.1 300.3,320.3 303.3,320.5 306.4,320.6 309.7,320.5 313,320.3 316.2,320.1 319.5,319.9 322.7,319.5 325.8,319.1 329,318.8 332.1,318.4 335.3,318 339,318.2 342.6,318.3 346.3,318.4 350,318.5 353.3,318.4 356.6,318.3 359.8,318.3 363.1,318.2 366.4,318.1 369.7,318 373,317.9 376.3,317.8 379.5,317.2 382.8,316.6 386.1,316 389.4,315.4 392.7,315.2 396,315 399.2,314.8 402.5,314.6 405.8,314.4 409.1,314.2 412.4,314 415.7,313.8 418.7,313.9 421.7,313.9 424.8,314 427.8,314.1 430.8,314.1 433.9,314.2 436.9,314.2 439.9,314.3 442.9,314.4 446,314.4 449,314.5 452,314.5 455.1,314.6 458.1,314.3 461.1,313.9 464.1,313.6 467.1,313.3 470.1,312.9 473.1,312.6 476.1,312.2 479.1,312.1 482.1,311.9 485.1,311.8 488.1,311.6 491.1,311.5 494.1,311.3 497.1,311.2 500.2,311 503.4,310.8 506.5,310.6 509.7,310.4 512.9,310.1 515.9,310.4 518.9,310.7 521.9,310.9 524.9,311.2 527.9,311.5 530.9,311.7 533.9,312 537,311.6 540.2,311.2 543.3,310.9 546.5,310.5 549.6,310.1 552.6,310.4 555.6,310.7 558.6,310.9 561.6,311.2 564.6,311.5 567.6,311.7 570.6,312 573.6,311.9 576.6,311.8 579.6,311.6 582.6,311.5 585.6,311.4 588.6,311.3 591.7,311.2 594.7,311.6 597.8,312.1 600.8,312.5 603.9,312.9 607,313.4 610,313.8 613.5,313.5 617,313.1 620.5,312.8 623.7,313.2 626.8,313.6 630,314.1 633.2,314.1 636.4,314 639.6,314 642.8,314 646,314 649.6,313.7 653.2,313.4 656.7,313.2 659.9,313.5 663,313.8 666.1,314.1 669.2,314.4 672.3,314.7 675.5,315 678.5,314.8 681.6,314.5 684.6,314.2 687.7,314 690.7,313.7 693.8,313.4 696.8,313.2 699.9,312.8 702.9,312.4 706,312 709.1,311.6 712.1,311.3 715.2,310.9 718.2,310.5 723.6,310 728.9,311.3 732.2,311.3 735.5,311.2 738.7,311.2 742,311.2 745.3,311.2 748.5,311.1 751.8,311.1 755.1,311.1 758.3,311 761.9,310.6 765.5,310.1 769,309.7 772.6,309.1 776.2,308.5 779.7,307.8 782.8,307.8 785.8,307.7 788.9,307.6 791.9,307.5 795,307.4 798.1,307.4 801.1,307.3 804.3,307 807.5,306.8 810.7,306.5 813.9,306.2 817.1,306 820.4,305.7 823.6,305.4 826.8,305.2 830,304.9 833.2,304.6 838.5,305.4 841.9,305.4 845.2,305.3 848.6,305.2 851.9,305.2M889.3,306.5 892.9,306.1 896.5,305.8 900,305.4 903.4,304.4 906.7,303.3 909.7,304.9 912.6,306.5" fill="none" stroke="#808080" stroke-width="2.35" stroke-linejoin="round" stroke-linecap="butt"/>
<path clip-path="url(#cp1)" d="M72.4,342.7 75.7,343 79.1,343.2 82.4,343.5 85.8,343.8 89.3,343.5 92.8,343.2 96.3,343 99.5,343.1 102.8,343.2 106.1,343.3 109.4,343.4 112.7,343.5 116,343.6 119.2,343.7 122.5,343.8 125.7,343.6 128.8,343.3 132,343.1 135.1,342.9 138.3,342.7 141.4,343.1 144.4,343.4 147.5,343.8 150.6,344.1 153.6,344.5 156.7,344.8 159.7,344.6 162.8,344.4 165.9,344.2 168.9,343.9 172,343.7 175.1,343.5 178.1,343.7 181.2,343.9 184.3,344.2 187.3,344.4 190.4,344.6 193.5,344.8M232.9,345.3 235.9,345.4 238.9,345.5 241.9,345.6 244.9,345.6 247.9,345.7 250.9,345.8 253.9,345.9 257.1,345.7 260.4,345.6 263.7,345.5 267,345.3 270.3,345.2 273.6,345.1 276.8,344.9 280.1,344.8 283.4,344.9 286.7,345 290,345.1 293.3,345.2 296.5,345.3 299.8,345.4 303.1,345.5 306.4,345.6 309.7,345.5 313,345.4 316.2,345.3 319.5,345.2 322.8,345.1 326.1,345 329.4,344.9 332.7,344.8 336.1,344.7 339.6,344.6 343.1,344.5 346.5,344.4 350,344.3 353.3,344.2 356.6,344.2 359.8,344.1 363.1,344 366.4,344 369.7,343.9 373,343.8 376.3,343.8 379.5,343.6 382.8,343.4 386.1,343.2 389.4,343 392.7,342.8 396,342.6 399.2,342.4 402.5,342.2 405.8,342.1 409.1,342 412.4,341.9 415.7,341.8 418.9,341.7 422.2,341.6 425.5,341.5 428.8,341.4 432.1,341.4 435.4,341.5 438.6,341.5 441.9,341.5 445.2,341.6 448.5,341.6 451.8,341.6 455.1,341.7 458.3,341.5 461.6,341.3 464.9,341.1 468.2,340.9 471.5,340.7 474.8,340.5 478,340.3 481.3,340.1 484.5,340 487.6,339.8 490.8,339.7 493.9,339.6 497.1,339.4 500.2,339.3 503.4,339.2 506.5,339 509.7,338.9 512.9,338.8 515.9,339 518.9,339.1 521.9,339.3 524.9,339.5 527.9,339.7 530.9,339.9 533.9,340.1 537,339.7 540.2,339.3 543.3,339 546.5,338.6 549.6,338.2 552.6,338.4 555.6,338.6 558.6,338.8 561.6,339 564.6,339.2 567.6,339.4 570.6,339.6 573.6,339.5 576.6,339.4 579.6,339.3 582.6,339.3 585.6,339.2 588.6,339.1 591.7,339 594.7,339.3 597.8,339.6 600.8,340 603.9,340.3 607,340.6 610,340.9 613.4,340.7 616.7,340.4 620,340.2 623.3,340 626.7,339.8 630,339.6 633.2,339.5 636.4,339.4 639.6,339.3 642.8,339.2 646,339.1 649.4,339 652.7,338.8 656.1,338.7 659.4,338.6 662.6,339 665.8,339.4 669,339.9 672.2,340.3 675.5,340.7 678.5,340.5 681.6,340.3 684.6,340 687.7,339.8 690.7,339.6 693.8,339.3 696.8,339.1 700.2,338.8 703.5,338.6 706.9,338.3 710.2,338 713.5,338.1 716.9,338.2 720.2,338.2 723.6,338.3 726.9,338.4 730.3,338.4 733.6,338.5 736.9,338.6 740,338.5 743.1,338.4 746.1,338.3 749.2,338.3 752.2,338.2 755.3,338.1 758.3,338 761.4,337.7 764.4,337.4 767.5,337.1 770.6,336.8 773.6,336.5 776.7,336.2 779.7,335.9 782.8,335.9 785.8,335.9 788.9,335.9 791.9,335.9 795,335.9 798.1,335.9 801.1,335.9 804.2,335.6 807.2,335.3 810.3,335 813.3,334.7 816.4,334.4 819.4,334.1 822.5,333.8 826.1,333.4 829.6,333 833.2,332.7 836.4,332.8 839.6,332.9 842.8,333 846,333.1 849.2,333.2 852.3,333.1 855.3,333 858.4,332.9 861.5,332.8 864.5,332.7 867.6,332.5 870.6,332.4 874.2,332 877.7,331.5 881.3,331.1 884.7,332.4 888,333.8 891,333.5 894,333.2 897,333 900,332.7 903.4,331.9 906.7,331.1 909.7,332.4 912.6,333.8" fill="none" stroke="#808080" stroke-width="2.35" stroke-linejoin="round" stroke-linecap="butt"/>
<path clip-path="url(#cp1)" d="M72.4,364.5 75.7,364.8 79.1,365.2 82.4,365.5 85.8,365.8 89.3,365.6 92.8,365.3 96.3,365 99.5,365.1 102.8,365.2 106.1,365.3 109.4,365.4 112.7,365.5 116,365.6 119.2,365.7 122.5,365.8 125.6,365.6 128.7,365.4 131.7,365.2 134.8,364.9 137.9,364.7 140.9,364.5 144.1,364.9 147.2,365.4 150.4,365.8 153.5,366.2 156.7,366.6 159.7,366.5 162.8,366.4 165.9,366.2 168.9,366.1 172,366 175.1,365.8 178.3,366 181.6,366.2 184.9,366.3 188.2,366.5 191.5,366.6 194.8,366.8 198,367 201.3,367.1 204.6,367.3 207.9,367.5 211.2,367.6 214.5,367.8 217.7,368 221,368.1 224.3,368.3 227.6,368.5 230.8,368.3 233.9,368.2 237.1,368.1 240.2,368 243.4,367.9 246.4,368 249.4,368.1 252.4,368.2 255.4,368.2 258.4,368.3 261.4,368.4 264.4,368.5M302.5,368.5 305.7,368.4 309,368.3 312.3,368.2 315.6,368.1 318.9,368 322.2,367.9 325.4,367.4 328.7,366.9 332,366.4 335.3,365.8 339,365.8 342.6,365.8 346.3,365.8 350,365.8 353.2,366.2 356.3,366.7 359.5,367.1 362.6,367.5 365.8,367.9 368.9,368.5 372.1,369 375.2,369.5 378.4,370 381.5,370.6 384.5,370.6 387.5,370.7 390.5,370.8 393.5,370.9 396.5,370.9 399.5,371 402.5,371.1 405.5,370.9 408.5,370.7 411.5,370.5 414.5,370.3 417.5,370.1 420.5,370 423.5,369.8 426.6,369.8 429.7,369.9 432.7,369.9 435.8,369.9 438.9,370 441.9,370 445.9,366.4 451.1,367.4 453.8,370 457.7,367.1 461.6,366.2 465.6,365.3 468.7,365.4 471.9,365.5 475,365.6 478.2,365.7 481.3,365.8 486.6,364.5 490.5,368.5 493.2,370 495.8,371.6 498.4,367.1 501.7,366.2 505,365.3 508.3,364.5 511.5,363.7 516.8,365.3 518.1,369.8 520.7,365.8 524.7,366.1 528.6,366.4 531.2,368.1 533.9,369.8 537.8,371.1 539.8,368.7 541.7,366.4 547,364.5 550.5,364.9 554,365.4 557.5,365.8 560.1,371.1 564.1,372.4 568,373.7 572,376.9 575.2,376.3 578.5,375.8 582.5,376.7 586.4,377.6 589.9,377.9 593.4,378.2 596.9,378.4 600.1,378.3 603.2,378.1 606.4,378 609.5,377.8 612.7,377.6 608.7,376.6 604.8,375.5 602.2,371.1 600.8,367.1 603.5,364 606.5,363.7 609.6,363.5 612.7,363.2 616.1,363.2 619.6,363.2 623.1,363.2 626.5,363.2 630,363.2 633.2,362.9 636.4,362.5 639.6,362.2 642.8,361.9 646,361.6 649.4,361.4 652.7,361.3 656.1,361.2 659.4,361 662.6,361.5 665.8,361.9 669,362.3 672.2,362.7 675.5,363.2 678.5,362.9 681.6,362.6 684.6,362.3 687.7,361.9 690.7,361.6 693.8,361.3 696.8,361 700.4,360.7 704,360.3 707.5,360 711.1,360.5 714.7,361 718.2,361.6 721.3,361.6 724.5,361.6 727.6,361.6 730.7,361.6 733.8,361.6 736.9,361.6 740,361.5 743.1,361.3 746.1,361.2 749.2,361.1 752.2,361 755.3,360.9 758.3,360.8 761.5,360.5 764.7,360.2 768,360 771.2,359.7 774.4,359.4 778.4,360.2 782.4,361 785.5,360.9 788.6,360.7 791.7,360.5 794.9,360.3 798,360.1 801.1,360 804.3,359.7 807.5,359.4 810.7,359.2 813.9,358.9 817.1,358.6 820.4,358.4 823.6,358.1 826.8,357.8 830,357.6 833.2,357.3 836.4,357 839.6,356.6 842.8,356.3 846,356 849.2,355.7 852.3,355.8 855.3,355.8 858.4,355.9 861.5,356 864.5,356.1 867.6,356.1 870.6,356.2 874.2,355.7 877.7,355.2 881.3,354.6 884.7,356.2 888,357.8 891,357.6 894,357.3 897,357 900,356.8 903.4,356 906.7,355.2 909.7,356.9 912.6,358.6M557.5,366.4 565.4,367.1" fill="none" stroke="#808080" stroke-width="2.35" stroke-linejoin="round" stroke-linecap="butt"/>
<path clip-path="url(#cp1)" d="M683.5,250.1 695.5,250.3 710.2,250.9 718.2,250.3M741,250.1 750.3,250.6M763.7,250.9 790.4,250.6 821.2,251.4M861.3,253 884,252.5 897.4,253 912.6,252.5" fill="none" stroke="#808080" stroke-width="2.35" stroke-linejoin="round" stroke-linecap="butt"/>
<g clip-path="url(#cp1)"><text x="213.4" y="349.9" font-size="13.89" fill="#008000" text-anchor="middle">290</text></g>
<g clip-path="url(#cp1)"><text x="283.3" y="372.9" font-size="13.89" fill="#008000" text-anchor="middle">280</text></g>
<g clip-path="url(#cp1)"><text x="476.3" y="282.9" font-size="13.89" fill="#008000" text-anchor="middle">310</text></g>
<g clip-path="url(#cp1)"><text x="714.5" y="266.9" font-size="13.89" fill="#008000" text-anchor="middle">320</text></g>
<g clip-path="url(#cp1)"><text x="870.6" y="310.2" font-size="13.89" fill="#008000" text-anchor="middle">300</text></g>
<g clip-path="url(#cp1)"><text x="729.5" y="254.7" font-size="13.89" fill="#008000" text-anchor="middle">330</text></g>
<g clip-path="url(#cp1)"><text x="840.4" y="258.1" font-size="13.89" fill="#008000" text-anchor="middle">330</text></g>
<rect x="72.5" y="409.3" width="840.0" height="132.9" fill="#8000ff"/>
<g clip-path="url(#cp2)">
<ellipse cx="676.8" cy="522.6" rx="36" ry="13" fill="url(#gl0)" opacity="0.95"/>
<ellipse cx="678" cy="524.5" rx="12" ry="6.5" fill="url(#gl1)" opacity="1.0"/>
<ellipse cx="676.8" cy="507" rx="15" ry="24" fill="url(#gl2)" opacity="0.7"/>
<ellipse cx="700" cy="521" rx="100" ry="9" fill="url(#gl3)" opacity="0.5"/>
<ellipse cx="690" cy="500" rx="45" ry="7" fill="url(#gl4)" opacity="0.4"/>
<ellipse cx="359" cy="523" rx="22" ry="10" fill="url(#gl5)" opacity="0.95"/>
<ellipse cx="630" cy="523" rx="22" ry="9" fill="url(#gl6)" opacity="0.45"/>
<ellipse cx="500" cy="521" rx="340" ry="8" fill="url(#gl7)" opacity="0.55"/>
<ellipse cx="677" cy="456" rx="22" ry="5" fill="url(#gl4)" opacity="0.4"/>
<ellipse cx="300" cy="521" rx="80" ry="6" fill="url(#gl4)" opacity="0.35"/>
<ellipse cx="800" cy="520" rx="80" ry="6" fill="url(#gl4)" opacity="0.3"/>
<ellipse cx="359" cy="505" rx="10" ry="12" fill="url(#gl4)" opacity="0.3"/>
</g>
<path d="M72.5,475.8H912.5" stroke="#e0e0e0" stroke-width="0.95" stroke-dasharray="4.9 2.1" fill="none" opacity="0.9"/>
<path clip-path="url(#cp2)" d="M72.4,453.6 147,453.6M196.1,453.6 350,453.6 428.8,453.6 630,453.6 683.5,453.7 912.6,453.7M72.4,461.5 96.3,462.3 114.7,461.7 124.6,460.2 131.7,462.3 148.8,461.5 175.1,462.3 201.3,462.8 232.9,463.3 251.2,463.3 259.1,461.2 265.7,463 293.3,463.3 301.1,460.7 307.7,462.8 328.7,463.3M72.4,470.1 122.5,469.9 175.1,469.1 201.3,469.4 227.6,468 251.2,468.6 260.4,470.1 277.5,467.5 293.3,468.6 301.1,470.1 328.7,468.6M72.4,474.6 122.5,474.9 143.5,475.4 148.8,475.9 156.7,474.3 175.1,473.8 344.5,473.8M399.9,472.5 368.4,470.7 361.8,465.9 376.3,460.2 428.8,460.2 447.2,460.9 481.3,460.2 533.9,460.2 599.5,460.2 608.7,464.1 630,465.9 651.4,465.2 664.8,467 683.5,465.2 704.9,462.5 763.7,462.5 779.7,459.8 787.7,459.8M837.2,459.8 912.6,459.3M72.4,497.7 80.5,497.5 87.1,499.6 92.3,497.7 122.5,497.5 135.7,497.2M184.3,500.9 217.1,500.1 227.6,502.2 238.1,500.9 253.9,500.9 259.1,498.8 265.7,500.9 293.3,501.1 301.1,498.8 309,500.6 332.7,500.1 343.2,498.2 350,498.8 359.2,495.6 365.8,498.2 376.3,500.1 381.5,497.5 428.8,497.5 507.6,497.2 612.7,496.9 630,494.3 646,494 664.8,492.7 667.4,488.4 676.8,486 683.5,489.2 679.5,491.9 687.5,495.4 710.2,493.2 718.2,495.9 736.9,494.6 769,493.8 790.4,494.6 817.1,494 843.9,495.9 870.6,495.4 897.4,497.2 912.6,497.2M72.4,505.6 85.8,504.8 101.5,503.5 148.8,504 201.3,503.8 253.9,503.5 306.4,503.5 332.7,503.8 340.5,506.1 350,504.8 365.8,504.3 376.3,506.1 392,506.4M443.2,506.7 507.6,506.7 586.4,506.7M603.5,513.2 608.7,509.5 630,508 638,508.7 659.4,507.9 663.4,508.2M687.5,507.9 736.9,507.7 793.1,507.4M842.5,507.4 870.6,506.6 912.6,505.3M72.4,513.2 80.5,510.9 95,513.2 104.1,510.9 117.3,511.4 125.2,513.5 135.7,511.4 142.2,510.9 147.5,513.2 154.1,511.4 165.9,513.2 182.9,510.1 227.6,509.5 280.1,509.8 350,510.1 365.8,509.5 381.5,512.2 428.8,512.7 459,513M472.1,513.2 533.9,513.2 586.4,513.2M630,510.1 683.5,510.1 763.7,510.6 779.7,513.3 817.1,514.6 843.9,514.6 878.6,516 884,518.6 878.6,520.5 843.9,520.8M72.4,531.9 175.1,531.9 227.6,531.1 253.9,530.6 257.8,527.4 261.7,530.6 286.7,531.6M328.7,531.1 350,531.6 355.3,531.6 363.1,533.7 371,530.6 376.3,528.5 380.2,524.5 381.5,520.6M462.9,530.6 476.1,530 512.9,531.6 533.9,530 560.1,530.6 581.1,528.5 587.7,530M606.1,530.6 630,531.1 656.7,533.1 688.8,533.3 707.5,533.9 736.9,532.8 817.1,532.3 865.3,530.7 912.6,530.1M650.1,520.5 635.3,521.3 631.3,524 635.3,526.6 646,528.5 656.7,526.6 664.8,529.3 675.5,531.2 684.8,528.5 686.9,522.6 685.6,520" fill="none" stroke="#000" stroke-width="2.25" stroke-linejoin="round" stroke-linecap="round"/>
<path clip-path="url(#cp2)" d="M680.8,469.7 630,469.7 604.8,470.7 600.8,472.5 604.8,473.8 630,471 680.8,470.8M731.6,470 769,470.5 770.9,471.8 769,472.9 731.6,472.1 731.6,470" fill="none" stroke="#000" stroke-width="1.8" stroke-linejoin="round" stroke-linecap="round"/>
<path clip-path="url(#cp2)" d="M381.5,520.6 439.3,520.6M422.2,526.4 460.3,526.4" fill="none" stroke="#000" stroke-width="3.4" stroke-linejoin="round" stroke-linecap="round"/>
<path clip-path="url(#cp2)" d="M490.5,520.6 507.6,520.6M520.7,520.6 528.6,520.6M531.2,520.6 541.7,520.6M549.6,520.6 573.3,520.6M884,524.5 905.4,524.5M905.4,518.6 912.6,518.6M826.5,520.8 831.9,520.8" fill="none" stroke="#000" stroke-width="2.2" stroke-linejoin="round" stroke-linecap="round"/>
<path clip-path="url(#cp2)" d="M495.8,526.6 501,526.6M533.9,526.6 539.1,526.6M557.5,526.6 562.8,526.6M573.3,526.6 586.4,526.6" fill="none" stroke="#000" stroke-width="2.8" stroke-linejoin="round" stroke-linecap="round"/>
<path clip-path="url(#cp2)" d="M866.6,526.9 912.6,526.9M688.8,533.9 707.5,533.9" fill="none" stroke="#000" stroke-width="3.0" stroke-linejoin="round" stroke-linecap="round"/>
<path clip-path="url(#cp2)" d="M644.7,528.5 649.2,528.5" fill="none" stroke="#000" stroke-width="2.6" stroke-linejoin="round" stroke-linecap="round"/>
<ellipse cx="469.5" cy="472" rx="2.6" ry="1.7" fill="#000"/>
<ellipse cx="359.2" cy="489.1" rx="2.6" ry="1.7" fill="#000"/>
<ellipse cx="359.2" cy="523.7" rx="2.6" ry="1.7" fill="#000"/>
<ellipse cx="377.6" cy="527.7" rx="2.6" ry="1.7" fill="#000"/>
<ellipse cx="399.9" cy="526.4" rx="2.6" ry="1.7" fill="#000"/>
<ellipse cx="359.2" cy="533.7" rx="2.6" ry="1.7" fill="#000"/>
<text x="156.5" y="458.8" font-size="13.3" fill="#fff">10<tspan font-size="9.4" dy="-4.9">−2</tspan></text>
<text x="144.5" y="502.7" font-size="13.3" fill="#fff">10<tspan font-size="9.4" dy="-4.9">−2</tspan></text>
<text x="287.8" y="535.8" font-size="13.3" fill="#fff">10<tspan font-size="9.4" dy="-4.9">−2</tspan></text>
<text x="403.3" y="511.3" font-size="13.3" fill="#fff">10<tspan font-size="9.4" dy="-4.9">−2</tspan></text>
<text x="691.5" y="475.2" font-size="13.3" fill="#fff">10<tspan font-size="9.4" dy="-4.9">−2</tspan></text>
<text x="797.1" y="464.5" font-size="13.3" fill="#fff">10<tspan font-size="9.4" dy="-4.9">−2</tspan></text>
<text x="802.2" y="512.6" font-size="13.3" fill="#fff">10<tspan font-size="9.4" dy="-4.9">−2</tspan></text>
<text x="340.3" y="472.5" font-size="13.3" fill="#fff" transform="rotate(90 355.8 467.3)">10<tspan font-size="9.4" dy="-4.9">−2</tspan></text>
<text x="450.1" y="527.6" font-size="13.3" fill="#fff" transform="rotate(90 465.6 522.4)">10<tspan font-size="9.4" dy="-4.9">−2</tspan></text>
<text x="580.9" y="527.1" font-size="13.3" fill="#fff" transform="rotate(-90 596.4 521.9)">10<tspan font-size="9.4" dy="-4.9">−2</tspan></text>
<text x="650.1" y="520.4" font-size="13.3" fill="#fff" transform="rotate(-15 665.6 515.2)">10<tspan font-size="9.4" dy="-4.9">−1</tspan></text>
<rect x="72.5" y="569.3" width="840.0" height="133.9" fill="#613806"/>
<g clip-path="url(#cp3)" shape-rendering="crispEdges">
<path d="M77.5,569.3 912.5,569.3 912.5,703.2 72.5,703.2 72.5,569.3Z" fill="#613806" fill-rule="evenodd"/>
<path d="M77.5,569.3 417.5,569.3 417,571.3 417.2,573.3 422.5,573.9 424.6,573.3 424.7,571.3 424.1,569.3 452.2,569.3 452.1,573.3 452.5,573.9 455.9,575.3 467.5,576.1 470.8,577.3 471.6,579.3 471.6,583.3 472.5,585 479.6,585.3 482.5,585.8 486.8,587.3 485.8,589.3 482.5,589.9 477.5,590.4 472.5,589.9 471.9,589.3 471.5,587.3 471.7,585.3 467.5,585 454.7,585.3 452.5,585.5 447.5,585.2 445.9,585.3 442.5,586.4 440.8,587.3 438.7,589.3 437.5,589.9 436.1,591.3 433.2,593.3 432.5,594.4 432.1,597.3 432.5,598.2 433.8,599.3 437.5,600 447.5,600.5 449,599.3 448.8,595.3 449,593.3 452.5,591.9 462.5,592.1 467.5,592.7 468.3,593.3 468.7,595.3 468.6,597.3 468,599.3 467.5,599.7 452.5,600.5 448.9,601.3 448.7,605.3 448.2,607.3 452.9,609.3 457.5,610.1 462.5,610.7 467.5,611 472.5,610.6 477.7,611.3 482.5,611.7 487.5,611.7 489,611.3 488.5,609.3 487.5,608.8 482.5,608.5 477.5,608.6 472.5,608.2 470.6,607.3 469.6,605.3 469.4,603.3 469.6,601.3 472.5,600.4 492.5,600.9 497.5,601.4 502.5,602.8 503.2,603.3 503.4,605.3 506.8,607.3 507.5,607.4 511.5,609.3 512.5,611 514.5,613.3 542.5,614.2 547.5,614.2 557.5,613.8 562.5,613.8 567.5,613.5 568.3,613.3 568.4,611.3 571.7,609.3 572.5,609.1 582.5,608.9 587.5,609.4 589.3,611.3 589.4,613.3 591.7,615.3 612.5,615.6 615.7,615.3 612.5,614.9 610.1,613.3 610.1,611.3 611.5,609.3 612.5,608.9 617.5,608.4 627.5,608.6 630.7,609.3 632,611.3 631.8,613.3 627.5,615 622.5,615.6 617.5,615.8 616.2,617.3 622.5,617.7 642.5,617.8 652.5,618.6 687.5,620.1 692.5,620.6 702.5,620.9 707.5,620.8 712.5,619.9 717.5,619.6 722.5,619.7 727.5,620.1 732.5,620.9 743.3,621.3 747.5,621 752.5,619.7 756.5,619.3 757.5,618.8 762.5,618.6 767.5,619.1 770.9,621.3 777.5,622 782,623.3 787.5,623.8 795.1,625.3 802.5,625.9 807.4,627.3 812.5,629.5 817.5,630.7 827.5,632 832.5,632.3 837.5,633.7 842.5,635.5 857.5,639.9 862.5,641.2 868.6,643.2 872.5,644.8 877.5,645.8 882.5,646.3 887.5,646.5 892.5,646 902.5,646.5 907.5,646.5 912.5,645.7 912.5,703.2 72.5,703.2 72.5,569.3ZM512.5,569.3 530,569.3 529.6,573.3 527.8,575.3 522.5,576.1 517.5,576.1 512.5,575.6 511.9,575.3 510.8,573.3 510.5,569.3ZM692.5,569.3 708.3,569.3 708.2,573.3 707.8,575.3 707.5,575.8 702.5,576.9 697.5,576.9 692.5,576.5 689.2,575.3 688.3,573.3 688.1,569.3ZM832.5,569.3 912.5,569.3 912.5,598.2 907.5,597.2 892.5,597 882.5,597.5 872.5,597.2 862.5,596.6 857.5,596.7 852.5,597.7 849.3,599.3 847.5,599.7 842.5,599.8 837.5,599.1 834,597.3 833.5,595.3 834.1,593.3 836.9,591.3 837.8,589.3 837.8,587.3 837.2,585.3 834.6,583.3 833.7,581.3 832.4,575.3 832,569.3ZM577.5,577.1 582.5,577.1 583.8,577.3 587.5,579.1 587.5,581.8 586.2,583.3 582.5,584.4 577.5,584.5 572.5,583.9 571.3,583.3 570.1,581.3 570.1,579.3 572.5,577.5 573.6,577.3ZM657.5,577.1 662.5,577 667.5,577.3 669.6,579.3 669.5,581.3 667.8,583.3 662.5,584 657.5,584 653.1,583.3 652.5,582.8 651.9,581.3 651.9,579.3 652.5,578.5 655.4,577.3ZM777.5,578.2 782.5,578.2 786.2,579.3 786.1,581.3 782.5,582.5 777.5,582.5 774.2,581.3 774.1,579.3ZM697.5,585.1 702.5,585.1 703.1,585.3 704.6,587.3 704,589.3 702.5,589.7 697.5,589.7 696.3,589.3 695.8,587.3 697.1,585.3ZM712.5,592.9 717.5,592.5 727.5,592.7 729.4,593.3 730.4,595.3 730.3,597.3 729.4,599.3 727.5,600.2 722.5,600.7 717.5,600.7 712.5,600 711.7,599.3 711.1,597.3 711.1,595.3 711.8,593.3ZM777.5,594.4 782.5,594.4 785.3,595.3 785.7,597.3 786.6,599.3 787.5,599.8 788.2,601.3 788.5,603.3 788.4,605.3 787.5,606.7 786.1,607.3 782.5,607.7 777.5,607.7 774.4,607.3 772.5,606.4 771.8,605.3 771.7,603.3 772,601.3 772.5,600.4 774.2,599.3 775,597.3 775.3,595.3ZM812.5,600.9 817.5,600 822.5,600 827.5,600.4 828.8,601.3 829.2,603.3 829.1,605.3 828.1,607.3 822.5,607.7 817.5,607.7 813.7,607.3 812.5,606.9 811.3,605.3 811.2,603.3 812,601.3ZM877.5,600.8 882.5,600.8 887.5,601.9 888.8,603.3 888.6,605.3 887.5,606.9 886.3,607.3 877.5,607.5 873.8,607.3 872.5,607 870.7,605.3 870.5,603.3 872.5,601.6 874,601.3ZM657.5,602.9 662.5,602.8 667.5,603.1 668.4,603.3 668.4,605.3 667.5,605.5 657.5,605.7 655.6,605.3 655.4,603.3ZM672.5,608.2 677.5,607.4 682.5,607.5 684.3,609.3 684.8,611.3 684.5,613.3 682.5,614.4 677.5,614.5 672.3,613.3 672,611.3 672.2,609.3ZM832.5,608.2 842.5,607.9 847.5,608 853.7,609.3 854.9,611.3 854.7,613.3 855.4,615.3 857.5,615.9 862.5,616 866.1,617.3 867,619.3 865.9,621.3 862.5,621.9 857.5,621.9 854.1,621.3 852.9,619.3 852.7,617.3 847.5,616.4 837.5,616.2 832.5,615.7 831.5,615.3 830.3,613.3 830.2,611.3 830.4,609.3ZM892.5,608.8 897.5,608.5 902.5,608.5 907.5,609 908,609.3 908.8,611.3 908.6,613.3 907.5,614.1 902.5,615 897.5,614.9 892.5,614 891.3,613.3 891,611.3 891.6,609.3Z" fill="#7c4709" fill-rule="evenodd"/>
<path d="M77.5,569.3 369.9,569.3 369.2,573.3 367.6,575.3 361.2,577.3 358,579.3 357.5,580.8 353.5,581.3 357.5,581.5 358.7,583.3 366.3,585.3 367.5,585.9 372.5,586.2 379.6,587.3 379.7,589.3 377.5,590.5 375.4,591.3 372.5,591.9 370.1,593.3 369.3,597.3 367.1,599.3 366.8,601.3 373.3,603.3 382.5,604.8 387.5,605.2 392.5,604.9 397.8,605.3 412.9,607.3 422.5,609 427.5,609.5 437.5,610.1 447.5,611.5 452.5,613 462.5,614.3 467.5,614.6 472.5,614.3 482.5,614.9 487.5,614.9 492.5,614.1 497.5,614.2 502.5,614.6 507.5,615.3 512.5,616.8 517.5,617.4 567.5,618.5 572.5,618 602.5,618.3 607.5,618.8 612.5,620.5 617.5,621.1 624.8,621.3 632.5,620.8 637.5,620.7 672.5,622.5 682.5,622.7 697.5,623.7 707.5,623.7 712.5,623.1 722.5,622.7 727.5,622.9 732.5,623.8 737.5,624.1 742.5,624.1 747.5,623.7 752.5,622.5 757.5,622.4 767.5,623.7 772.5,624.6 787.5,626.6 803.2,629.3 807.5,630.4 809.4,631.3 812.5,632.3 832.5,636.2 842.5,639.7 863.4,645.2 872.5,648.2 877.5,649 882.5,649.5 887.5,649.6 892.5,649 900.6,649.2 912.5,650 912.5,703.2 72.5,703.2 72.5,569.3ZM338,579.3 337.3,581.3 338.2,583.3 342.3,585.3 342.5,585.6 346.3,587.3 346.9,589.3 347.5,589.4 347.8,587.3 348.6,585.3 351.8,583.3 352.5,581.3 352.1,579.3 347.5,578 342.5,578.3ZM897.5,569.3 908,569.3 907.5,570.7 904.1,573.3 904.6,575.3 907.5,576.2 908.3,577.3 908.4,579.3 907.6,581.3 902.5,582.3 897.5,582.2 893.2,581.3 892.5,580.6 892,579.3 892.6,577.3 897.4,575.3 897.5,574.9 899,573.3 897.5,572.7 896.2,569.3Z" fill="#955910" fill-rule="evenodd"/>
<path d="M77.5,569.3 88.8,569.3 91.3,573.3 90.5,575.3 87.5,575.9 82.5,576.1 72.5,575.9 72.5,569.3ZM157.5,569.3 341.4,569.3 341.1,571.3 340,573.3 332.5,574.8 327.5,576.4 326,577.3 325.3,579.3 325,583.3 325,587.3 324.6,589.3 322.5,591.2 317.5,592.1 313.6,593.3 312.5,594.2 311.9,595.3 314.1,597.3 317.5,598.2 327.5,599.5 332.5,599.7 337.4,601.3 347.5,603.3 367.5,605.7 374.4,607.3 387.5,608.4 397.5,609 407.5,610.6 412.5,612 417.5,612.9 422.5,613.4 432.5,613.6 442.5,614.4 448.1,615.3 452.5,616.3 462.5,617.5 467.5,617.6 472.5,616.9 487.5,617.3 494,617.3 502.5,617.9 507.5,618.6 512.5,620.1 517.5,620.6 552.5,621.3 562.5,621.9 567.5,621.8 572.5,621.3 587.5,621.6 602.5,621.6 607.5,622.2 612.5,624.1 617.5,624.7 622.5,624.9 627.5,624.6 632.5,623.7 637.5,623.5 667.5,624.9 682.5,625 687.5,625.3 692.5,626 707.5,626.6 722.5,625.8 727.5,625.9 732.5,626.8 737.5,627.1 742.5,627 747.5,626.6 752.5,625.3 757.5,625.1 762.5,625.6 787.5,629.4 796.3,631.3 802.5,633.3 817.5,636.1 830.3,639.2 836,641.2 842.5,643.9 847.5,645.4 867.5,650.1 872.5,651.5 882.5,653.1 888.1,653.2 892.5,652.6 897.5,652.6 912.5,653.9 912.5,703.2 72.5,703.2 72.5,589.3 82.5,588.9 87.5,587.8 88.4,587.3 90.4,585.3 89.2,583.3 92.5,582.7 107.5,583.3 117.5,583.9 122.5,584 127.5,583.8 129.1,583.3 131.5,579.3 132.5,578.7 137.5,577.8 142.5,577.5 147.5,578.6 148,579.3 149.2,583.3 152.3,585.3 157.5,585.2 162.5,584.7 167.5,583.3 168.4,581.3 168.5,579.3 167.5,577.3 162.5,576.2 156.1,575.3 154,573.3 155.2,569.3Z" fill="#ad7021" fill-rule="evenodd"/>
<path d="M197.5,569.3 264.6,569.3 264.3,571.3 264.3,573.3 267.7,575.3 272.5,576.1 282.5,576.9 284.6,577.3 287.2,579.3 286.9,581.3 285,583.3 282.5,583.9 272.5,584.9 267.5,585 263.6,585.3 257.7,587.3 257.4,589.3 259.5,591.3 268,593.3 272.5,593.9 282.5,596.2 287.5,596.9 292.5,596.5 298,597.3 302.5,598.3 311.3,601.3 323.9,603.3 327.5,604.1 332.5,605.8 342.5,607.3 347.5,607.6 357.5,607.6 367.5,608.2 377.5,610.6 402.5,613.8 412.5,616.1 417.5,616.9 422.5,617.2 432.5,617.1 442.5,617.7 447.5,618.4 452.5,619.8 462.5,621 467.5,621 472.5,619.9 477.5,619.8 504,621.3 507.5,621.7 512.5,623.1 527.5,623.6 537.5,624.6 547.5,625 552.5,624.6 562.5,625.1 567.5,625 572.5,624.3 577.5,624.2 582.5,624.4 587.5,624.9 592.5,626.5 597.5,627.2 608.1,627.3 612.5,627.8 622.5,628.3 627.5,627.8 632.5,626.5 637.5,626.2 657.5,627 667.5,627.8 677.5,627.6 687.5,628.1 692.5,629 707.5,629.6 712.5,629.6 722.5,628.7 727.5,628.7 732.5,629.5 742.5,629.5 747.5,629.1 752.5,627.8 757.5,627.6 762.5,628.2 782.5,631.9 795.6,635.3 807.5,637.4 812.5,638.1 818.2,639.2 827.5,641.7 832.5,643.6 839.9,647.2 842.5,649.4 847.5,650.8 853.2,651.2 867.5,653.7 877.5,656.6 882.5,657.6 887.5,658.3 897.5,658.5 902.5,658.9 907.5,659 912.5,658.4 912.5,703.2 72.5,703.2 72.5,592.6 87.5,592.6 107.5,592.2 112.5,591.6 122.5,591.6 127.5,591.8 137.5,592.9 152.5,593.5 162.5,593.1 167.5,592.4 172.5,590.7 177.5,589.9 182.5,589.8 187.5,590 192.5,591.2 197.5,591.5 207.5,591.2 212.5,590.5 217,589.3 214.9,587.3 212.5,586.4 210.3,585.3 197.5,584 193,583.3 192.5,583 191.1,581.3 190.7,579.3 191,577.3 192.5,576 194.3,575.3 195.5,573.3 193.4,569.3ZM292.5,586.9 297.5,586.5 300.5,587.3 300,589.3 297.5,590.7 292.5,589.8 292.1,587.3Z" fill="#c38936" fill-rule="evenodd"/>
<path d="M177.5,597 182.5,596.7 187.5,597 192.5,598.8 197.5,599.3 207.5,599.5 212.5,599.8 227.5,599.8 232.5,600 237.5,599.8 239.5,599.3 247.5,598.2 252.5,597.2 257.5,597.9 262.5,599.3 265.4,601.3 272.5,603.4 282.5,605.4 287.5,605.8 292.5,605.3 297.5,605.5 307.5,606.6 312.5,607.5 317.7,609.3 322.5,610.1 327.5,610.4 332.5,610.4 342.5,611.2 347.5,611.1 352.5,610 357.5,609.7 362.5,609.9 367.5,610.7 369,611.3 372.8,613.3 377.5,614.9 382.5,615.9 387.5,616.6 392.5,616.8 402.5,618 407.5,618.9 412.5,620.2 417.5,621.1 424,621.3 432.5,620.8 442.5,621.4 447.5,622.1 453.7,623.3 467.5,624.1 472.5,623.8 487.5,624.7 492.5,624.8 499.5,625.3 517.5,625.9 522.5,625.9 527.5,626.3 532.5,627.6 537.5,628.1 547.5,628.3 552.5,627.8 562.5,628.4 567.5,628.2 572.5,627.3 582.5,627.4 587.5,628.2 592.5,630.1 597.5,630.8 607.5,630.5 617.5,631.1 622.5,631.2 627.5,630.8 632.5,629.5 637.5,629 657.5,629.8 667.5,630.8 682.7,631.3 692.5,631.9 707.5,632.5 712.5,633.4 717.5,633.3 722.5,632.2 727.5,631.7 732.5,632 748.4,631.3 752.5,630.4 757.5,630.1 762.5,630.8 770.9,633.3 787.5,636.2 797.5,638.6 807.5,640.5 814,641.2 817.5,641.9 822.5,643.4 827.5,645.2 831.8,647.2 837.5,651.4 842.5,653.9 847.5,655 852.5,655 862.5,656.1 867.5,656.9 873,659.2 877.5,660.5 882.5,661.4 902.5,662.8 907.5,662.8 912.5,662.3 912.5,703.2 72.5,703.2 72.5,604.9 77.5,604.6 82.5,604 86.1,603.3 90.8,601.3 92.5,600.8 102.5,600.4 107.5,600 112.5,598.5 117.5,598.1 122.5,598.1 127.5,598.8 129.2,599.3 132.5,599.9 137.5,600.3 147.5,600.4 167.8,599.3 172.5,597.9 176.1,597.3Z" fill="#d3aa5f" fill-rule="evenodd"/>
<path d="M157.5,604.9 162.5,604.4 167.5,604.5 172.5,605.5 179.4,605.3 182.5,605 187.5,605.1 192.1,607.3 192.3,609.3 195.2,611.3 197.5,612.2 202.5,612.3 206,611.3 207.5,610.5 208.5,609.3 208.7,607.3 212.5,605.7 217.5,605.1 222.5,605 227.5,605.8 232.5,607.3 242.3,607.3 252.5,606.1 257.5,606.7 267.5,608.3 277.5,608.7 287.5,609.8 292.5,610.7 302.5,611.7 307.5,612.5 309.6,613.3 312.5,614.1 319.1,615.3 327.5,615.8 331.6,617.3 332.5,617.8 337.3,619.3 342.5,619.7 347.5,619.5 348.2,619.3 352.1,617.3 351.4,615.3 352.5,614.7 357.5,613.7 362.5,613.7 367.5,615.1 368.6,617.3 373.8,619.3 377.5,620.1 382.5,620.8 387.5,621.2 392.5,621.1 397.5,621.5 402.5,622.4 405.9,623.3 407.5,624.3 408.5,625.3 412.9,627.3 417.5,628.2 422.5,628.2 428.1,627.3 432.5,625.9 437.5,625.8 447.5,626.1 457.5,626.1 467.5,627.1 472.5,628.1 477.5,628.5 502.5,628.8 522.5,628.8 527.5,629.3 532.5,630.5 542.5,631.1 547.5,631.2 552.5,630.9 562.5,631.6 567.5,631.5 572.5,630.6 577.5,630.5 582.5,630.8 587.5,631.8 590.6,633.3 592.5,634 597.5,634.6 607.5,633.9 622.5,633.9 627.5,633.6 632.5,632.6 637.5,632.2 652.5,632.2 657.5,632.4 662.5,632.9 667.5,633.8 672.5,635.4 677.5,635.9 682.5,636 687.5,635.7 692.5,634.9 697.5,634.7 702.5,634.8 707.5,635.5 712.5,636.7 717.5,636.6 727.5,634.8 752.5,633.1 757.5,633.1 762.5,633.9 767.5,635.4 777.5,637.4 787.5,638.9 792.5,640.5 797.5,641.8 802.5,642.8 807.5,643.5 812.5,643.9 818.5,645.2 824,647.2 827.9,649.2 837.4,655.2 842.5,657.5 847.5,658.6 852.5,658.3 862.5,659.2 867.5,660.3 872.5,662.4 877.5,663.4 887.5,664.4 892.5,665.4 897.5,666.1 907.5,666.6 912.5,666.6 912.5,703.2 72.5,703.2 72.5,613 87.5,611.2 92.5,610 97.5,609.4 107.5,609.2 112.5,609.2 112.2,607.3 117.5,606.3 122.5,606.3 142.5,607.4 147.5,607.3 155.4,605.3Z" fill="#e1c684" fill-rule="evenodd"/>
<path d="M182.5,610.8 187.5,612.2 188.4,613.3 191.7,615.3 197.5,615.8 207.5,615.6 209,615.3 212.5,613.7 217.5,612.3 227.5,612.1 233.1,611.3 242.5,610.6 247.5,610.5 253.5,611.3 262.5,613.4 267.5,614.2 272.5,613.7 277.5,614.3 282.3,615.3 287.5,616.7 292.5,618.4 297.5,618.9 312.5,618.9 322.5,619.9 327.5,620.9 328.2,621.3 332.5,622.7 342.5,623.3 347.5,623.3 357.5,621.6 362.4,621.3 367.5,621.6 374.5,623.3 377.5,623.8 387.5,624.8 392.5,626.2 402.5,627.7 412.5,630.3 417.5,631.2 422.5,631.1 432.5,629.6 447.5,629.8 452.5,629.4 457.5,629.6 472.5,631.4 477.5,631.7 487.5,631.9 497.5,633.4 512.5,632.1 522.5,632 532.5,633 542.5,633.3 552.5,633.9 562.5,635 567.5,634.9 572.5,634.3 577.5,634.3 582.5,634.7 587.5,635.7 592.5,637.2 597.5,637.6 612.5,636.5 622.5,636.6 627.5,636.3 632.5,635.3 637.5,635 647.5,635.1 652.5,634.9 662.5,635.7 672.5,637.9 677.5,638.5 687.5,638.4 692.5,637.8 702.5,637.8 712.7,639.2 717.5,639 727.3,637.2 737.5,636.3 752.5,635.6 757.5,635.7 762.5,636.5 767.5,638 777.5,640.1 782.5,640.6 787.5,641.5 797.5,644.5 807.5,646.2 812.5,646.8 817.5,648 822.5,650 832.5,655.4 842.5,661.2 847.5,662.6 852.5,662.5 863.1,663.2 872.5,664.8 877.9,665.2 882.5,666.2 888.2,667.2 892.5,668.8 897.5,669.4 907.5,670.1 912.5,670.2 912.5,703.2 72.5,703.2 72.5,620.9 82.5,619.5 87.5,618.2 89.8,617.3 92.5,616.7 97.5,616.3 102.5,616.2 107.5,616.5 109.5,617.3 112.5,618.9 117.5,619.5 122.5,619.5 127.5,619.1 131.4,617.3 132.5,615.3 137.5,614.3 142.5,614.7 144.8,615.3 149.7,617.3 152.5,618 157.5,617.8 167.5,616.8 169.7,615.3 172.5,612.9 177.5,611.3Z" fill="#ecd8a5" fill-rule="evenodd"/>
<path d="M242.5,617 247.5,616.6 257.5,618 271,621.3 282.5,623.6 287.5,624.9 288.4,625.3 292.5,626 297.5,626.2 310.4,625.3 312.5,624.9 327.5,625.5 332.5,626.2 342.5,626.9 347.5,626.9 362.5,625.1 367.3,625.3 372.5,626.1 377.7,627.3 382.5,627.9 387.5,628.8 392.5,630 407.5,632 412.4,633.3 417.5,634.1 422.5,634 432.5,632.7 447.5,633.1 467.5,634.8 482.5,634.8 487.5,635.1 492.5,636.2 497.5,636.5 517.5,635.3 542.5,636 562.5,638 567.5,638.1 572.5,637.9 577.5,638 587.5,639.4 592.5,640.3 597.5,640.7 612.5,639.1 617.5,639 622.5,639.2 627.5,638.8 632.5,638 637.5,637.7 647.5,637.8 652.5,637.6 657.5,637.9 667.5,639.8 672.5,640.5 687.5,640.7 692.5,640.4 702.5,640.6 712.5,641.5 717.5,641.1 722.5,640.1 737.5,638.4 752.5,637.8 757.5,637.9 762.5,638.7 772.5,641.6 777.5,642.7 787.5,644.3 792.5,645.8 812.5,649.6 818.2,651.2 827.5,655.6 833.9,659.2 837.5,661.8 840.1,663.2 842.5,664.8 847.5,666.1 857.5,667.3 872.5,667.6 882.5,669.7 887.8,671.2 892.5,671.9 907.5,673 912.5,673 912.5,703.2 72.5,703.2 72.5,632.3 80.2,631.3 87.7,629.3 92.5,626.4 97.5,624.9 102.5,624.5 107.5,624.8 109.3,625.3 112.5,625.8 132.5,625.9 137.5,626.2 146.2,627.3 152.5,627.7 157.5,627.3 162.5,626.3 169.1,625.3 177.5,623.8 181.4,623.3 191.5,621.3 192.5,620.9 197.5,620.5 212.5,620.7 217.5,620.2 227.5,620 230.4,619.3 232.5,618.5 239.9,617.3Z" fill="#f6e9c5" fill-rule="evenodd"/>
<path d="M247.5,620.8 252.5,621.3 259.8,623.3 262.5,624.3 267.5,625.4 272.5,625.7 292.5,629 297.5,629.4 303.5,629.3 312.5,628.2 322.5,628.8 327.5,628.8 342.5,629.7 347.5,629.7 352.8,629.3 362.5,628 367.5,628.1 373.3,629.3 377.5,630.4 387.5,632.2 402.5,633.6 407.5,634.6 412.5,636.2 417.5,637 422.5,636.9 432.5,635.6 442.5,635.6 467.5,637.3 482.5,637.4 487.5,637.6 492.5,638.5 497.5,638.7 517.5,637.6 527.5,637.6 542.5,638.2 553.9,639.2 557.5,639.7 562.5,640.1 572.5,640.3 587.5,641.6 592.5,642.4 597.5,642.7 607.5,641.7 612.5,641 627.5,640.6 632.5,640 637.5,639.7 652.5,640.1 657.5,640.5 667.5,642 672.5,642.4 687.5,642.6 697.5,642.4 712.5,643.5 717.5,643 726.3,641.2 742.5,640 752.5,639.6 757.5,639.8 762.5,640.5 772.5,643.7 787.5,646.5 792.5,647.8 809.7,651.2 817.5,653.6 829.4,659.2 838.8,665.2 842.5,666.9 847.5,668.1 857.4,669.2 862.5,669.5 867.5,669.5 872.5,669.9 888.7,673.2 892.5,673.7 902.5,674.3 912.5,674.4 912.5,703.2 72.5,703.2 72.5,636.7 77.5,636 88.6,633.3 92.5,631.8 97.5,630.6 102.5,630 107.5,629.9 112.5,630.1 122.5,629.7 137.5,630.4 152.5,632 158.6,631.3 169.2,629.3 182.5,626.1 187.5,625.3 192.5,624.9 207.5,625.5 213.9,625.3 217.5,624.6 227.5,624.1 232.5,622.8 243.4,621.3Z" fill="#f5efdc" fill-rule="evenodd"/>
<path d="M232.5,627 242.5,625.8 247.5,625.5 257.5,628 262.5,628.7 267.5,629 272.5,629 282.5,630.2 292.5,631.8 297.5,632.2 302.5,632.3 312.5,631 327.5,631.5 342.5,632.4 347.5,632.5 352.5,632.1 362.5,630.8 367.5,630.8 372.5,632 377.5,633.8 382.5,635 387.5,635.4 392.5,635.4 397.5,635.8 402.5,636.5 407.5,637.6 412.5,639 417.5,639.7 422.5,639.7 432.5,638.7 442.5,638.5 477.5,640 487.5,640.2 492.5,640.6 497.5,640.7 522.5,639.8 532.5,639.8 587.5,643.5 592.5,644.2 597.5,644.4 602.5,644.2 612.5,642.9 627.5,642.3 637.5,641.7 647.5,642.1 667.5,643.9 682.5,644.4 697.5,644.2 712.5,645.1 717.5,644.7 727.5,642.8 742.5,641.7 752.5,641.3 757.5,641.4 762.5,642.4 772.5,645.5 802.5,651.7 812.5,654.3 817.5,656 828.6,661.2 837.5,666.6 842.5,668.5 847.5,669.6 857.5,670.9 872.5,671.6 887.5,674.4 892.5,675.1 907.5,675.8 912.5,675.8 912.5,701.7 910.4,703.2 889.1,703.2 887.5,702.2 882.6,701.2 872.5,701 867.5,700.2 862.5,700.1 857.5,700.4 856.5,703.2 762.9,703.2 762.5,703 659.1,703.2 657.5,702.7 617.5,702.8 616.3,703.2 392.5,703.2 387.5,702.7 372.5,702.4 367.7,703.2 272.5,703.2 257.5,703 72.5,703.2 72.5,640.4 82.5,639 89.4,637.2 92.5,636.2 97.5,635.1 102.5,634.4 122.5,633.6 132.5,633.8 137.5,634.1 142.5,634.7 152.5,636.3 157.5,636 167.5,634.3 172.5,632.9 177.5,631 182.5,629.4 187.5,628.6 192.5,628.4 212.5,629.3 222.5,628.3 227.5,628 231.2,627.3Z" fill="#f4f5f5" fill-rule="evenodd"/>
<path d="M227.5,631.2 237.5,630 242.5,629.6 247.5,629.5 256.3,631.3 262.5,631.7 272.5,632.1 297.5,634.9 302.5,635.2 312.5,634 327.5,634.4 342.5,635.2 347.5,635.2 362.5,633.7 367.5,633.7 373.2,635.3 377.5,636.8 382.5,638.1 387.5,638.5 392.5,638.6 398.6,639.2 412.5,641.7 417.5,642.2 457.5,641.4 467.5,641.9 472.5,642.4 497.5,642.7 532.5,641.9 537.5,642 587.5,645.4 592.5,645.9 597.5,646.1 607.5,645.5 612.5,644.8 632.5,643.8 642.5,644 672.5,645.9 687.5,646.3 697.5,646.1 712.5,646.8 717.5,646.5 727.5,644.7 742.5,643.5 752.5,643.1 757.5,643.3 762.5,644.3 772.5,647.2 802.5,653.9 807.8,655.2 814.2,657.2 828.1,663.2 834.9,667.2 839.7,669.2 842.5,670.1 852.5,671.9 857.5,672.6 862.5,673 872.5,673.4 887.5,675.8 897.5,676.8 912.5,677.1 912.5,693.2 907.5,693.8 892.5,694.3 882.5,694.4 862.5,695.9 857.5,696.1 852.5,696.9 851.8,697.2 852.5,699.6 853.2,701.2 853.6,703.2 768.9,703.2 767.5,702 765.3,701.2 762.5,699.7 757.5,699.5 687.5,700.2 685.3,701.2 682.5,702.1 681.1,703.2 664.6,703.2 662.5,701.6 657.5,699.3 652.5,698.9 617.5,699.6 614.4,701.2 612.5,701.8 610.9,703.2 417.9,703.2 412.5,702.1 392.5,700.9 387.5,699.9 377.5,698.6 372.5,698.2 362.5,698.9 317.5,698.5 302.5,698.6 267.5,700.4 262.5,700.9 232.5,701 227.5,701.3 222.5,703.2 72.5,703.2 72.5,644.1 92.5,640.4 97.3,639.2 102.5,638.5 112.5,638.1 122.5,637.4 132.5,637.5 137.5,637.8 147.5,639.5 152.5,639.9 162.5,638.9 167.5,638.2 172.5,637 182.5,633.3 187.5,632.2 192.5,631.8 197.5,631.9 202.5,632.4 207.5,632.6 226.5,631.3Z" fill="#def0ed" fill-rule="evenodd"/>
<path d="M247.5,633 252.5,633.3 257.5,633.9 267.5,634.4 273,635.3 293.3,637.2 297.5,637.8 302.5,638.2 307.5,637.6 312.5,636.7 322.5,636.7 347.5,637.8 357.5,637 362.5,636.4 367.5,636.3 372.5,637.5 377.5,639.5 382.5,640.9 387.5,641.6 392.5,641.8 417.5,645.1 447.5,644.2 457.5,643.8 467.5,644.2 472.5,644.8 487.5,645.1 507.5,644.6 522.5,644.5 532.5,644.1 557.5,645.3 577.5,646.8 592.5,647.6 602.5,647.6 617.5,646.4 632.5,645.8 682.5,648.3 697.5,648.2 712.5,649 717.5,648.8 722.5,647.8 724.6,647.2 727.5,646.7 737.5,645.6 752.5,645 757.9,645.2 762.5,646.1 777.5,650.3 798.8,655.2 807.5,657.5 812.8,659.2 827.5,665.2 832.5,668.1 837.5,670.2 842.5,671.6 857.5,674.5 873.3,675.2 877.5,675.7 882.5,676.6 892.5,678.1 902.5,678.7 912.5,678.8 912.5,690.6 877.5,690.8 871.5,691.2 867.5,692 857.5,692.8 852.5,692.9 847.5,692.7 837.6,693.2 827.5,694.7 821.6,695.2 817.5,696.7 816.8,697.2 817.2,699.2 822.5,698.1 837.5,698 842.5,697.8 847.5,698.2 849.3,699.2 850.9,701.2 851.6,703.2 772.8,703.2 767.5,698.1 762.5,695.8 757.5,695.2 729.3,695.2 722.5,695.6 712.5,695.7 707.5,696.1 687.5,696.5 682.5,698.4 681.4,699.2 677.5,702.9 676.9,703.2 668.9,703.2 667.5,702.2 664.5,699.2 662.5,697.6 657.5,695.5 652.5,695.1 622.5,696.1 617.5,696.1 613.8,697.2 612.5,697.8 610.9,699.2 607.5,703.2 421.8,703.2 417.5,701.6 412.5,700.5 397.5,698.6 392.5,697.8 387.5,696.8 372.5,695.1 357.5,694.9 351.8,695.2 347.5,695.9 337.5,695.9 332.5,695.7 327.5,695 317.5,694.7 287.5,695.2 272.5,696.3 266.6,697.2 262.5,698.3 257.5,698.9 252.5,698.7 241.1,697.2 232.5,696.8 227.5,697.5 222.5,699.9 219.3,703.2 72.5,703.2 72.5,648.6 77.5,647.8 89.3,645.2 92.5,644.7 98.8,643.2 102.5,642.7 117.5,641.8 122.5,641.3 127.5,641.3 137.5,642.5 147.5,644.1 153.2,643.2 162.5,642.1 172.5,640.5 177.5,639.3 183.8,637.2 187.5,636.2 192.5,635.4 197.5,635.4 202.5,635.9 207.5,636.1 217.5,634.5 222.5,634 237.5,633.7 243.6,633.3Z" fill="#c9eae6" fill-rule="evenodd"/>
<path d="M222.5,637.2 237.5,637 247.5,636.4 252.5,636.4 257.5,636.9 267.5,637.3 272.5,638 292.5,639.4 297.5,640.1 302.5,640.4 312.4,639.2 332.5,639.7 342.5,640.2 347.5,640.2 352.5,639.9 362.5,638.7 367.5,638.6 372.5,639.7 377.5,641.8 382.5,643.2 387.5,643.9 392.5,644.3 412.5,647 422.5,647.6 452.5,646.3 462.5,646.4 477.5,647.6 487.5,647.9 507.5,647 517.5,647.2 537.5,646.9 552.5,647.6 562.5,648.8 582.5,649.5 597.5,649.5 617.5,648.3 627.5,648.2 682.5,650.7 692.5,650.4 712.5,651.6 717.5,651.4 722.5,650.6 732.5,648.6 737.5,647.9 752.5,646.8 758.8,647.2 762.5,647.9 777.5,652.3 807.5,660.3 822.5,665.7 830.1,669.2 837.5,671.8 852.5,675.6 857.5,676.6 872.5,677.6 887.5,679.9 892.5,680.4 908.3,681.2 912.5,681.7 912.5,689.5 890.7,689.2 877.5,688.6 872.5,688.8 867.5,689.4 857.5,690 847.5,689.8 837.5,689.9 832.5,690.7 827.5,692.2 817.5,693.5 812.3,695.2 807.5,698.2 803.8,699.2 802.5,699.8 797.5,699.7 792.5,699.9 787.5,700.5 777.5,700.7 775.1,699.2 772.5,698.4 770.9,697.2 767.5,695.2 762.5,694 737.5,693 722.5,693.3 712.5,693.3 692.5,693.9 687.5,694.3 682.5,695.8 679.3,697.2 677.5,698.3 674.2,699.2 672.5,700.2 671.2,699.2 667.5,697.7 663.3,695.2 657.5,693.7 652.5,693.5 622.5,693.8 617.5,693.7 612.5,694.7 608.5,697.2 607.5,698.2 605.3,699.2 602.5,701.2 597.5,701.2 592.5,700.9 587.5,700.2 582.5,699.9 572.5,699.8 562.5,699.4 557.5,699.4 552.5,699.9 547.5,701.3 542.5,701.8 537.5,701.8 532.5,701.1 527.5,699.2 522.5,698.9 512.5,699 510.5,699.2 507.5,699.9 492.5,700.4 487.5,700.8 477.5,700.9 472.7,701.2 467.5,702.1 462.5,702.4 457.5,702.4 452.5,701.7 447.5,699.6 442.5,699.1 435.4,699.2 432.5,699.6 427.5,701.5 422.5,700.6 417.1,699.2 402.5,696.9 371,693.2 367.5,693 357.1,693.2 347.5,694 337.5,694 327.5,693 322.5,692.7 277.5,693.6 272.5,693.9 267.5,694.6 262.5,695.7 257.5,696.4 252.5,696 247.5,694.9 237.5,693.9 232.5,693.8 227.5,694.6 222.5,696.3 220.9,697.2 218.5,699.2 217.5,700.7 214.8,703.2 72.5,703.2 72.5,657.9 80.3,657.2 80.5,655.2 87.5,654 92.5,653.9 94.4,653.2 102.5,651.1 107.9,649.2 112.5,647.9 122.5,647.1 128,647.2 137.5,648.1 144.6,649.2 150.8,651.2 152.5,652 157.5,651.6 162.5,650 167.5,647.7 168.2,647.2 184.5,641.2 193.2,639.2 197.5,638.8 202.5,639.1 207.5,639.1 212.5,638.6 222.4,637.2ZM842.5,699 847.5,699.9 848.9,701.2 850.2,703.2 804.9,703.2 807.5,701.8 812.5,700.8 822.5,699.8 837.9,699.2Z" fill="#a8ddd5" fill-rule="evenodd"/>
<path d="M222.5,641.1 247.5,639.8 252.5,639.7 257.5,640.1 282.5,640.7 289.9,641.2 297.5,642.1 302.5,642.3 312.5,641.8 347.5,642.6 362.5,641 367.5,640.7 372.5,641.9 377.5,644 382.5,645.4 412.5,649.4 422.5,650 452.5,649.1 487.5,650.6 492.5,650.1 497.5,649.9 507.9,649.2 512.5,649.7 527.5,650 542.5,649.7 547.5,649.9 557.5,651.4 562.5,651.9 587.5,651.9 592.5,651.6 602.5,651.4 612.5,650.4 617.5,650.3 647.5,651.7 662.5,652.1 677.5,653.1 682.5,653.2 692.5,652.6 697.5,652.7 707.5,653.7 712.5,654 717.5,653.7 722.5,653 737.5,650.1 752.5,648.8 757.5,648.8 762.5,649.7 767.5,651.2 772.5,653 779.9,655.2 787.5,657.8 813.7,665.2 819.1,667.2 829.2,671.2 852.5,677.8 857.5,678.9 867.5,679.7 878.3,681.2 887.5,682.7 907.5,683.9 912.5,684.7 912.5,687.7 907.5,688 892.5,688 883.6,687.2 882.5,686.9 877.5,686.5 872.5,686.5 862.5,687.3 842.5,687.6 837.5,687.4 832.5,688.2 827.5,690 822.5,690.9 817.5,691.4 812.5,692.5 810.3,693.2 807.5,694.5 802.5,695.7 792.5,696.1 787.5,696.7 777.5,696.9 772.5,695.6 767.5,693.4 762.5,692.5 737.5,691.2 710.8,691.2 692.5,691.9 687.5,692.4 682.5,693.7 677.5,695.6 672.5,696.5 662.5,692.8 657.5,692 652.5,691.9 642.5,692.2 622.5,691.7 617.5,691.4 612.5,691.9 609.4,693.2 607.5,694.3 602.5,696.2 592.5,696.2 587.5,695.9 552.5,696.4 547.5,696.9 537.5,697.1 532.5,696.9 527.5,696.3 522.5,696.2 507.5,696.7 502.5,696.7 497.5,696.4 492.5,696.4 482.5,696.8 472.5,697 467.5,697.5 457.5,697.6 452,697.2 447.5,696.2 442.5,695.9 437.5,695.9 432.5,696.3 427.5,697.3 421.9,697.2 412.5,696.1 392.5,693.7 372.5,691.8 357.5,691.9 347.5,692.6 342.5,692.7 332.5,692.3 327.5,691.7 307.5,691.4 292.5,691.6 277.5,691.6 267.5,692.4 262.5,693.3 257.5,693.9 252.5,693.5 247.5,692.4 242.5,691.8 237.5,691.5 232.5,691.5 227.5,692.2 222.5,693.4 218.4,695.2 217.5,695.8 212.5,697.1 202.5,696.5 142.2,697.2 137.5,699.1 137.7,703.2 72.5,703.2 72.5,665.2 82.5,665.6 87.5,665.2 92.5,664.3 102.5,660.7 107.5,658.2 108.6,657.2 110.2,655.2 112.5,653.7 117.5,652.1 122.5,651.7 127.5,651.9 137.5,653.6 143.6,655.2 147.5,656.6 152.5,659.5 157.5,659.2 167.5,655.1 172.5,652.3 182.5,648.1 190.9,643.2 192.5,642.6 197.5,641.7 212.5,642 221.5,641.2ZM817.5,701.1 827.5,700.5 842.5,700.1 847.5,701.6 848.8,703.2 808.4,703.2 812.5,701.8 817.1,701.2Z" fill="#87d0c5" fill-rule="evenodd"/>
<path d="M247.5,643.2 262.5,643.2 272.5,642.8 287.4,643.2 297.5,644.2 347.5,644.8 357.5,643.8 362.5,643.1 367.5,642.8 372.5,644 377.5,646.1 382.5,647.4 402.5,650.7 417.5,651.9 427.5,652.2 447.5,651.5 457.5,651.7 467.5,652.4 472.5,652.5 487.5,653.4 497.5,652.6 507.5,651.6 517.5,652.6 527.5,652.8 542.5,652.3 547.5,652.4 553.4,653.2 557.5,654 562.5,654.5 567.5,654.6 587.5,654.3 592.5,654 597.5,654.1 602.5,653.9 607.5,653 612.5,652.4 617.5,652.5 632.5,653.7 667.5,654.9 677.5,655.6 682.5,655.6 692.5,654.6 697.5,654.8 707.5,655.9 712.5,656.2 717.5,655.9 742.5,651.6 752.5,650.6 757.5,650.5 762.5,651.4 773.1,655.2 787.5,660.4 797.4,663.2 807.5,666.4 812.5,667.7 817.5,669.6 821,671.2 822.5,672.1 827.5,673.6 832.5,674.1 837.5,675.3 850.1,679.2 852.5,680.3 857.4,681.2 864,683.2 862.5,683.7 857.5,684.2 852.5,684.4 847.5,684.9 842.5,685 837.5,684.3 832.5,685.3 829.3,687.2 827.5,687.9 822.5,689 817.5,689.4 812.5,690.1 802.5,692 797.5,692.2 792.5,692.7 787.5,693.6 777.5,694 772.5,693.1 767.5,691.6 737.5,689.3 712.5,689 692.5,689.9 687.5,690.5 677.5,693 672.5,693.4 667.5,691.9 662.5,690.9 652.5,690.3 642.5,690.5 632.5,690.3 617.5,688.9 612.5,688.9 602.5,691.8 592.5,692.1 582.5,692.1 557.5,693.3 532.5,693.6 522.5,693.6 512.5,694 497.5,693.1 492.5,693 487.5,693.4 472.5,693.7 467.5,694.4 457.5,694.6 452.5,694.2 447.5,693.1 442.5,692.8 437.5,692.8 432.5,693.2 427.5,694.4 422.5,694.5 412.5,693.7 377.5,690.5 367.5,690.3 347.5,691.4 342.5,691.5 332.5,691 322.5,690.2 292.5,689.9 282.5,689.5 272.5,689.7 257.5,691.2 252.5,690.9 247.5,690.1 242.5,689.6 232.5,689.3 227.5,689.8 219.9,691.2 217.5,692 212.5,692.7 207.5,692.3 192.5,692.4 182.5,692.8 137.5,694.6 112.5,694.2 102.5,694.6 92.5,694.2 86.4,693.2 72.5,692.5 72.5,672.3 82.5,673.4 87.5,672.9 93.2,671.2 107.5,664.9 112.9,661.2 117.5,659.4 122.5,658.8 132.5,658.8 137.5,659.5 143,661.2 147.5,663.5 152.5,665.2 157.5,664.6 163.1,663.2 168.6,661.2 172.5,659.3 177.5,657.3 182.5,654.7 187.5,651 192.5,646.9 197.5,645.1 202.5,644.8 212.5,645.2 227.5,644.4 232.5,643.8 245.8,643.2ZM77.5,697.9 102.5,698.3 127.5,697.9 131.3,699.2 132.5,699.8 133.6,701.2 134.5,703.2 72.5,703.2 72.5,697.9ZM812.5,702.6 817.5,701.9 822.5,701.5 842.5,701.3 847.2,703.2 810.6,703.2Z" fill="#64b9ae" fill-rule="evenodd"/>
<path d="M367.5,645.1 372.5,646.4 377.5,648.3 382.2,649.2 382.5,649.4 391.4,651.2 392.5,651.7 397.5,652.8 417.5,654.7 427.5,655 437.5,654.6 447.5,654 467.5,655.2 473.1,655.2 487.5,656.2 497.5,655.7 502.5,654.8 507.5,654.3 512.5,655 522.5,655.8 527.5,655.9 542.5,655 547.5,655 557.5,656.7 562.5,657.1 587.5,657.1 592.5,656.9 597.5,657.1 602.5,656.9 609.7,655.2 612.5,654.9 619.6,655.2 622.5,656.1 627.5,656.7 647.5,657.1 657.5,656.9 667.5,657.3 672.5,657.9 677.5,658.2 682.5,658.1 692.5,656.7 697.5,656.8 702.5,657.3 707.5,658.2 712.5,658.5 717.5,658.1 732.5,655.9 742.5,654 747.9,653.2 757.5,652.6 762.5,653.5 766.6,655.2 770.3,657.2 782.5,661.7 802.5,668.1 813,671.2 817.5,673.8 822.5,675.9 827.1,677.2 830.8,679.2 831.2,681.2 829.8,683.2 826.7,685.2 822.5,686.9 812.5,687.7 802.5,688.7 792.5,689.3 787.5,690.2 782.5,690.7 777.5,690.8 772.5,690.6 767.5,690 752.5,689 737.5,687.5 732.5,687.3 727.5,687.5 707.5,686.9 692.5,687.6 687.5,688.4 682.5,689.7 677.5,690.6 672.5,690.6 667.5,689.8 661.8,689.2 632.5,688.5 627.5,688.1 622.5,687.2 612.5,686 607.5,686 593.3,687.2 587.5,688.4 557.5,690.2 522.5,690.8 512.5,691.5 497.5,690.6 492.5,690.5 472.5,690.9 467.5,691.4 462.5,691.6 452.5,691.2 447.5,690.5 437.5,690.5 432.5,690.7 427.5,691.4 422.5,691.7 411.7,691.2 372.5,688.7 367.5,688.6 352.5,689.6 347.5,690.1 337.5,690 327.5,689.1 322.5,688.3 312.5,688 292.5,688 282.5,687.3 277.1,687.2 262.5,688.1 252.5,688.1 247.5,687.5 212.5,687.6 207.6,687.2 197.5,687.2 172.5,688.7 169.9,689.2 157.5,690.2 146.9,691.2 132.5,691.7 110.1,691.2 100.9,691.2 92.5,690.5 87.5,689.6 72.5,688.3 72.5,680.1 82.5,682.9 87.5,682.1 90.7,679.2 96.1,675.2 100.7,673.2 107.9,671.2 112.5,668.4 117.5,666.1 122.5,665.4 132.5,665.6 139.1,667.2 142.5,668.3 148.1,671.2 149.8,673.2 152.5,674.6 156.7,673.2 157.5,672.3 157.9,671.2 160.5,669.2 165.1,667.2 167.5,666.5 172.5,665.8 177.5,664.5 182.5,662.3 187.5,658.5 188.9,657.2 192.5,654.4 194.7,653.2 197.5,650.7 202.5,649.1 227.5,648.1 232.7,647.2 247.5,646.9 252.5,646.5 277.5,645.5 287.5,645.6 297.5,646.4 302.5,646.6 307.5,646.4 347.5,647.1 352.5,646.9 357.5,646.3 364.2,645.2ZM77.5,701.2 87.5,701.3 92.5,701.8 107.5,701.8 112.5,701.4 127.5,701.3 130.5,703.2 72.5,703.2 72.5,701.2ZM817.5,702.5 842.5,702.5 844.3,703.2 813.2,703.2Z" fill="#3e9d95" fill-rule="evenodd"/>
<path d="M267.5,648.8 272.5,648 282.5,647.5 287.5,647.6 292.5,648 297.5,649.1 302.5,649.8 304.3,649.2 307.5,648.7 312.5,648.3 332.5,648.3 352.5,650 357.5,650 367.5,648.3 372.5,648.9 373.6,649.2 381.1,653.2 382.5,654.4 384.9,655.2 387.5,657.1 392.5,656.6 402.8,657.2 407.5,657.9 412.5,659.6 417.5,660.4 422.5,660.5 427.5,660.2 433.5,659.2 442.5,658.2 447.5,657.9 457.5,659.1 479,659.2 492.5,660.1 497.5,660 507.5,658.8 517.5,660.2 522.5,660.5 527.5,660.5 542.5,659.2 548,659.2 557.5,660.7 567.5,661.5 577.5,661.8 602.5,661 607.5,660.5 612.5,660.4 627.5,661.5 652.5,660.6 672.5,662 682.5,661.8 687.8,661.2 692.5,660.4 697.5,660.4 707.5,661.6 712.5,662 732.5,659.1 742.5,657.4 747.9,657.2 757.5,657.7 763.1,659.2 768.5,661.2 782.4,665.2 807.5,673.5 814.7,677.2 822.5,680.1 824.3,681.2 822.5,683.4 817.5,683.6 812.5,684.5 807.5,685.9 782.5,688.3 772.5,688.8 757.5,688.2 742.5,686.1 737.5,685.6 732.5,685.4 727.5,685.6 707.5,684.9 692.5,685.6 687.5,686.2 677.5,688.8 672.5,688.8 662.5,688 632.5,686.9 622.5,685.8 612.5,683.7 607.5,683.8 592.1,685.2 587.5,686.1 572.5,687.3 552.5,688.1 522.5,688 512.5,689 502.5,688.6 492.5,688.6 467.5,689.6 457.5,689.5 452.2,689.2 447.5,688.7 432.5,689 427.5,689.6 417.5,689.5 392.5,687.5 377.5,687.1 372.5,686.1 367.5,685.6 357.5,687.1 347.5,688 332.5,686.8 327.5,685.5 322.5,684.8 317.5,684.5 312.5,684.5 302.5,685.4 297.5,685.6 290.7,685.2 277.5,683.5 267.5,683.5 262.5,682.8 255.2,681.2 252.5,680.2 247.5,677.5 242.5,675.9 232.5,674.3 227.5,672.9 217.5,672.5 212.5,672.5 208.3,673.2 207.5,673.5 197.5,674.8 192.5,676.4 187.5,678.3 182.5,679.7 172.6,681.2 157.1,685.2 153.4,687.2 147.2,689.2 137.5,690.2 117.5,690.1 107.5,689.1 95.6,685.2 96.1,683.2 102.7,679.2 107.4,677.2 117.5,674.6 122.5,674.1 127.5,674.2 137.5,676.4 142.5,677.7 147.5,679.3 152.5,680.1 157.5,679.6 167.5,676.6 172.5,674.6 179.5,673.2 182.5,672.8 189.2,671.2 192.5,670.1 197.4,669.2 202.5,668.8 207.5,667.6 212.5,665.6 222.5,664.6 227.5,663.9 228.6,663.2 232.5,659.5 237.5,658.2 247.5,657.2 252.5,656.3 254.3,655.2 257.5,654 258.3,653.2 261.3,651.2 265.9,649.2Z" fill="#23867e" fill-rule="evenodd"/>
<path d="M282.5,649.2 287.8,649.2 292.5,651.3 297.5,653.8 302.5,654.7 307.5,652.8 309.8,651.2 312.5,650.6 322.5,650.2 327.5,650.2 339.5,651.2 342.5,652 349.8,653.2 352.5,654 357.5,654.5 362.5,653.8 367.5,652.4 372.4,653.2 373.7,655.2 373.7,657.2 375.1,659.2 377.5,661.4 382.5,663.3 387.5,663.5 392.5,662.1 397.5,662 402.5,662.6 412.5,665 417.5,665.4 427.5,664.9 437.5,663.7 442.5,662.9 447.5,662.5 452.5,663.6 457.5,664.4 477.5,664.3 482.5,664.5 487.5,665.3 492.5,666.4 497.5,666.7 507.5,665.2 522.5,665.8 527.5,666.2 537.5,666.2 542.5,665.9 547.5,665.9 552.5,666.9 562.5,667.7 567.5,667.4 572.5,666 607.5,664.8 617.5,665.3 622.5,665.8 632.5,666.1 642.5,665.5 647.5,665.7 657.5,667.8 662.5,668.4 667.5,668.4 677.5,667 687.5,665.9 690,665.2 692.5,664.8 697.5,664.7 704.5,665.2 707.5,665.6 712.5,667.1 717.5,667.1 722.5,665.9 724.5,665.2 727.5,663.8 729.4,663.2 742.5,661.4 747.5,661.5 757.5,662.7 762.5,663.6 769.3,665.2 777.5,668.1 802.5,675.8 807.5,678 809.4,679.2 810.3,681.2 807.5,682.8 806.4,683.2 802.5,683.8 797.5,684.2 792.2,685.2 782.5,686.2 775.5,687.2 772.5,687.4 762.5,687.2 750.7,685.2 747.5,684 742.5,683 737.5,682.6 732.5,682.7 729.9,683.2 727.5,683.4 716.7,683.2 712.5,682.8 707.5,682.7 697.5,683.3 687.5,683.3 682.5,684.2 677.5,685.5 672.5,686 667.5,686.1 657.5,685.5 632.5,685.1 627.5,684 621.9,683.2 616.6,681.2 612.5,680.3 602.5,681.4 597.5,681.7 592.5,682.5 590.9,683.2 582.5,684.4 572.5,685.3 557.5,685.7 547.5,685.3 531.8,685.2 522.5,684.5 512.5,685.6 507.5,685.9 497.5,686.1 492.5,686.4 487.1,687.2 472.5,687.5 467.5,687.8 452.5,687.6 448.6,687.2 447.5,686.8 442.5,686.3 432.5,686.7 429.7,687.2 417.5,687.1 407.5,685.5 392.5,684.7 382.5,684.8 377.5,683.7 372.5,681.8 367.5,681.4 359.9,683.2 352.5,684.3 347.5,684.7 332.5,683.5 331.3,683.2 327.5,681.5 322.5,680.9 312.5,680.7 297.5,682.1 292.5,682 277.5,680 272.5,679.6 270.4,679.2 262.5,675.3 257.5,673.7 251.8,671.2 249.4,669.2 250.6,667.2 253.4,665.2 260.3,663.2 262.5,662.2 264.1,661.2 266.1,659.2 267.1,657.2 267,655.2 267.5,654 268.1,653.2 271,651.2 277.5,650.3 281.4,649.2ZM117.5,682.7 127.5,681.7 132.5,681.4 137.5,681.7 144.1,683.2 146.8,685.2 146.6,687.2 137.5,688.5 133.9,689.2 126.3,689.2 112.5,687.7 110.3,687.2 109.9,685.2 112.5,683.6 114.7,683.2Z" fill="#0a6f67" fill-rule="evenodd"/>
<path d="M292.5,660.7 302.5,661.4 307.5,660.2 312.5,660.1 323.5,661.2 327.5,661.9 332.5,663.4 343.7,665.2 352.5,666.8 357.5,666.8 362.9,665.2 367.5,663.6 372.8,665.2 377.5,668.5 382.5,669.6 387.5,670.3 407.5,671.5 427.5,671.4 432.5,671.2 437.5,670.5 442.5,669.5 447.5,669.3 452.5,670.9 457.5,671.5 482.5,671.7 487.5,672.1 492.8,673.2 497.5,673.8 507.5,672.9 512.5,672.2 517.5,672 522.5,672.1 527.5,672.5 532.5,673.6 537.5,674.2 542.5,674.1 552.5,672.6 567.5,672.5 577.5,671.9 587.5,671.8 592.5,672.1 597.5,672.1 607.5,671.5 616.5,673.2 612.5,673.7 607.6,675.2 602.5,676.1 592.5,676.9 587.5,678 582.5,678.7 572.5,679.4 557.5,679.7 552.2,679.2 547.5,677.3 542.5,676.7 532.5,677.7 527.5,678.8 512.2,679.2 507.5,678.1 502.5,677.7 497.5,678.2 491.8,679.2 487.5,680.4 482.5,680.8 471.6,681.2 467.5,681.8 462.5,681.9 457.5,681.7 452.5,680.7 447.5,679.3 437.5,679.7 432.5,680.1 427.5,680.8 417.5,680.8 412.5,680.5 402.5,679.5 397.6,679.2 392.5,678.5 387.5,676.8 382.5,675.8 377.5,674.2 375.8,673.2 372.5,670.6 367.5,669.9 357.5,671.4 352.5,671.4 342.5,670.4 332.5,669.9 322.5,669.2 312.5,669.4 302.5,671.3 297.5,670.8 292.5,670 287.5,671.5 282.3,671.2 277.5,670.1 272.5,668.4 270.6,667.2 270.7,665.2 272.5,664.8 287.3,663.2 291.6,661.2ZM737.5,667.2 742.5,666.7 752.5,666.8 757.3,667.2 762.5,668.6 772.5,672.7 777.5,674.2 789.5,677.2 792.5,678.6 794.4,679.2 792.5,679.7 787.5,680.4 777.5,681.1 772.5,681.2 752.5,679.9 747.5,679 742.5,678.4 732.5,677.7 727.5,676.6 722.5,676.3 717.5,676.4 712.5,676.9 707.5,678.1 697.5,678.7 687.5,678.8 677.5,679.9 667.5,680.2 662.5,680.1 652.5,679.5 642.5,679.7 637.5,679.6 632.5,679.1 626.8,677.2 618.8,675.2 622.5,673.7 627.5,673.2 632.5,672.3 642.5,671.8 647.5,672 657.5,673.1 667.5,673.5 677.5,672.9 687.5,671.6 692.5,670 697.5,669.5 702.5,669.7 707.5,670.4 712.5,672 717.5,672 722.5,671.5 727.5,670.5 732.5,668.4 737.2,667.2Z" fill="#015a50" fill-rule="evenodd"/>
</g>
<g clip-path="url(#cp3)" fill="#fff">
<path d="M595.6,567.6 595.6,596.5 599.5,600.5 607.4,604.4 615.3,604.4 623.2,599.1 625.8,591.3 630,597.8 630,605.1 638,603.8 642,599.2 648.7,602.4 656.7,605.1 664.8,605.1 670.1,602.4 678.1,605.1 683.5,605.1 687.5,607.8 707.5,611 711.5,607.8 712.9,602.4 718.2,605.1 723.6,603.8 731.6,605.1 736.9,607.8 758.3,609.1 762.3,613.7 766.4,614.5 770.4,611.8 771.7,605.1 779.7,602.4 790.4,605.1 801.1,601.1 814.5,603.8 818.5,599.8 818.5,593.1 822.5,591.7 819.8,589.1 827.8,586.4 834.5,585.1 834.5,575.7 829.2,573 833.2,567.7Z"/>
<ellipse cx="559.3" cy="585.5" rx="4" ry="2.1"/>
<ellipse cx="559.3" cy="592.1" rx="4" ry="1.9"/>
<ellipse cx="559.3" cy="570" rx="2" ry="1.2"/>
<ellipse cx="588.5" cy="585.5" rx="3.5" ry="2.1"/>
<ellipse cx="585.6" cy="596" rx="6.5" ry="3.2"/>
</g>
<path clip-path="url(#cp3)" d="M617.9,567.6 620.5,572.9 624.5,576 630,572.9 630,567.6Z" fill="#5f3a0b"/>
<path d="M72.5,636.2H912.5" stroke="#c0c0c0" stroke-width="0.95" stroke-dasharray="4.9 2.1" fill="none" opacity="0.8"/>
<path clip-path="url(#cp3)" d="M72.4,632.8 75.4,632.1 78.3,631.5 81.3,630.8 84.3,630.1 87.3,629.5 90.3,628.8 93.3,628.2 96.3,627.5 99.5,627.3 102.8,627.1 106.1,626.9 109.4,626.7 112.7,626.5 116,626.3 119.2,626.1 122.5,625.9 125.8,626.2 129.1,626.5 132.4,626.7 135.7,627 138.9,627.3 142.2,627.5 145.5,627.8 148.8,628 152.1,627.5 155.4,627.1 158.6,626.6 161.9,626.1 165.2,625.6 168.5,625.1 171.8,624.6 175.1,624.1 178.3,623.4 181.6,622.8 184.9,622.1 188.2,621.5 191.3,621.6 194.3,621.7 197.4,621.9 200.5,622 203.5,622.1 206.6,622.3 210.1,621.3 213.6,620.3 217.1,619.4 220.6,619.6 224.1,619.9 227.6,620.2 231.1,620 234.6,619.8 238.1,619.6 241.4,619 244.7,618.3 248,617.7 251.2,617 254.5,617.9 257.8,618.8 261.1,619.8 264.4,620.7 267.5,621.4 270.7,622.1 273.8,622.7 277,623.4 280.1,624.1 283.4,624.6 286.7,625 290,625.5 293.3,625.9 296.5,625.7 299.8,625.4 303.1,625.2 306.4,624.9 309.7,625.5 313,626.2 316.2,626.9 319.5,627.5 322.8,627.3 326.1,627.1 329.4,626.9 332.7,626.7 336.1,626.9 339.6,627 343.1,627.2 346.5,627.4 350,627.5 353.2,627 356.3,626.5 359.5,625.9 362.6,625.4 365.8,624.9 369.3,625.9 372.8,627 376.3,628 379.5,628.4 382.8,628.7 386.1,629 389.4,629.4 392.7,629.7 396,630 399.2,630.3 402.5,630.7 405.7,631.5 408.8,632.2 412,633 415.1,633.8 418.3,634.6 421.8,634 425.3,633.4 428.8,632.8 432.1,632.9 435.4,633 438.6,633.2 441.9,633.3 445.2,633.4 448.5,633.6 451.8,633.7 455.1,633.8 458.1,634.1 461.1,634.4 464.1,634.7 467.1,635 470.1,635.3 473.1,635.6 476.1,635.9 479.6,635.7 483.1,635.6 486.6,635.4 490.1,635.7 493.6,636.1 497.1,636.4 500.4,635.9 503.7,635.4M533.9,635.4 537,635.6 540.2,635.8 543.3,636 546.5,636.2 549.6,636.4 553.1,637.1 556.6,637.8 560.1,638.5 563.3,638.5 566.4,638.5 569.6,638.5 572.7,638.5 575.9,638.5 578.9,638.8 581.9,639.1 584.9,639.4 587.9,639.7 590.9,640 593.9,640.3 596.9,640.6 600.1,640.2 603.2,639.8 606.4,639.4 609.5,639 612.7,638.5 616.1,638.7 619.6,638.8 623.1,638.9 626.5,639 630,639.1 630,637.2 633.3,637.3 636.7,637.3 640,637.4 643.4,637.5 646.7,637.5 650.1,637.6 653.4,637.7 656.7,637.7 660.1,638.4 663.4,639.1 666.8,639.7 670.1,640.4 673.4,640.4 676.8,640.4 680.1,640.4 683.5,640.4 686.5,640.5 689.5,640.6 692.5,640.7 695.5,640.8 698.5,640.9 701.5,641 704.5,641.1 707.5,641.2 712.9,643.1 716.2,642.1 719.6,641.2 722.9,640.3 726.2,639.3 729.5,639 732.7,638.7 735.9,638.4 739.1,638 742.3,637.7 745.4,637.7 748.5,637.7 751.6,637.7 754.8,637.7 757.9,637.7 761,637.7 764.6,639.3 768.1,640.9 771.7,642.5 774.8,643 777.9,643.4 781.1,643.9 784.2,644.3 787.3,644.8 790.4,645.2 793.4,645.8 796.4,646.4 799.3,647 802.3,647.6 805.3,648.2 808.2,648.8 811.2,649.4 814.2,650 817.1,650.6 820.4,652.2 823.6,653.8 826.8,655.4 830,657 833.2,658.6 835.9,660.8 838.5,663 841.2,665.3 844.4,665.8 847.6,666.3 850.8,666.9 854,667.4 857.3,667.9 860.6,667.9 863.9,667.9 867.3,667.9 870.6,667.9 873.8,668.7 877,669.5 880.2,670.3 883.5,671.1 886.7,671.9 889.9,672.1 893.1,672.3 896.4,672.4 899.6,672.6 902.9,672.8 906.1,672.9 909.4,673.1 912.6,673.3" fill="none" stroke="#440154" stroke-width="2.35" stroke-linejoin="round" stroke-linecap="butt"/>
<path clip-path="url(#cp3)" d="M72.4,650.4 75.7,649.7 79.1,649.1 82.4,648.4 85.8,647.7 89.3,646.4 92.8,645.1 96.3,643.8 99.5,643.5 102.8,643.1 106.1,642.8 109.4,642.5 112.7,642.2 116,641.8 119.2,641.5 122.5,641.2 125.7,641.2 128.8,641.2 132,641.2 135.1,641.2 138.3,641.2 141.8,642 145.3,642.9 148.8,643.8 152.1,643.3 155.4,642.8 158.6,642.3 161.9,641.8 165.2,641.3 168.5,640.8 171.8,640.4 175.1,639.9 177.7,638.4 180.3,636.9 182.9,635.4 186.2,635.2 189.5,635 192.8,634.8 196.1,634.6 199.6,635.2 203.1,635.8 206.6,636.4 209.7,635.9 212.9,635.4 216,634.9 219.2,634.3 222.3,633.8 225.5,633.8 228.6,633.8 231.8,633.8 235,633.8 238.1,633.8 241.6,633.5 245.1,633.1 248.6,632.8 252.1,633.6 255.6,634.5 259.1,635.4 262.6,635.1 266.1,634.9 269.6,634.6 272.9,634.9 276.2,635.3 279.5,635.6 282.8,635.9 286,636.2 289.3,636.6 292.6,636.9 295.9,637.2 301.1,639.3 304.6,638.4 308.1,637.4 311.7,636.4 314.7,636.6 317.7,636.7 320.7,636.8 323.7,636.9 326.7,637 329.7,637.1 332.7,637.2 336.1,637.4 339.6,637.5 343.1,637.7 346.5,637.9 350,638 353,637.7 356,637.4 359,637.1 362,636.8 365,636.5 368,636.2 371,635.9 373.6,637.9 376.3,639.9 379.5,640.4 382.8,640.8 386.1,641.3 389.4,641.8 392.7,642.3 396,642.8 399.2,643.3 402.5,643.8 405.7,644.2 408.8,644.6 412,645.1 415.1,645.5 418.3,645.9 421.4,645.8 424.4,645.6 427.5,645.5 430.6,645.4 433.6,645.2 436.7,645.1 439.7,645 442.8,644.8 445.9,644.7 448.9,644.6 452,644.5 455.1,644.3 458.1,644.4 461.1,644.4 464.2,644.5 467.2,644.6 470.2,644.6 473.3,644.7 476.3,644.7 479.3,644.8 482.3,644.9 485.4,644.9 488.4,645 491.4,645.1 494.5,645.1 497.5,645 500.5,644.9 503.6,644.8 506.6,644.7 509.6,644.6 512.6,644.5 515.7,644.4 518.7,644.3 521.7,644.2 524.8,644.1 527.8,644 530.8,643.9 533.9,643.8 537.1,644.1 540.4,644.3 543.7,644.6 547,644.8 550.3,645.1 553.6,645.4 556.8,645.6 560.1,645.9 563.1,646 566.1,646.2 569.1,646.3 572.1,646.4 575.1,646.6 578.1,646.7 581.1,646.8 584.1,647 587.1,647.1 590.2,647.2 593.2,647.3 596.2,647.5 599.2,647.6 602.2,647.7M633.3,645.4 636.7,645.5 640,645.7 643.4,645.9 646.7,646 650.1,646.2 653.4,646.4 656.7,646.5 660.1,646.7 663.4,646.9 666.8,647 670.1,647.2 673.4,647.4 676.8,647.5 680.1,647.7 683.5,647.9 686.5,647.9 689.5,648 692.5,648.1 695.5,648.1 698.5,648.2 701.5,648.3 704.5,648.3 707.5,648.4 711.5,648.8 715.6,649.2 718.6,648.6 721.7,648.1 724.7,647.5 727.8,646.9 730.8,646.4 733.9,645.8 736.9,645.2 740,645.2 743.1,645.2 746.1,645.2 749.2,645.2 752.2,645.2 755.3,645.2 758.3,645.2 761.7,646.2 765,647.2 768.4,648.2 771.7,649.2 774.8,649.9 777.9,650.6 781.1,651.2 784.2,651.9 787.3,652.6 790.4,653.2 793.5,654 796.5,654.8 799.6,655.5 802.6,656.3 805.7,657 808.7,657.8 811.8,658.6 815,659.9 818.2,661.2 821.4,662.6 824.6,663.9 827.8,665.3 831.4,667 835,668.8 838.5,670.6 841.7,671.3 844.8,671.9 847.9,672.6 851,673.3 854.1,673.9 857.3,674.6 860.4,674.7 863.5,674.8 866.6,674.9 869.7,675 872.8,675.1 876,675.2 879.2,675.7 882.4,676.2 885.6,676.8 888.8,677.3 892,677.8 895.4,678 898.9,678.1 902.3,678.2 905.7,678.4 909.2,678.5 912.6,678.6" fill="none" stroke="#30698e" stroke-width="2.35" stroke-linejoin="round" stroke-linecap="butt"/>
<path clip-path="url(#cp3)" d="M221,699 225,695.8 228.3,696.1 231.7,696.3 235.1,696.6 238.5,696.9 241.9,697.1 245.2,697.4 248.6,697.6 251.2,699.5 248.6,701.1 245.2,701.1 241.9,701.2 238.5,701.3 235.1,701.4 231.7,701.4 228.3,701.5 225,701.6 221,699M309,701.6 305.9,701.6 302.7,701.5 299.6,701.5 296.4,701.4 293.3,701.4 290.1,701.4 287,701.3 283.8,701.3 280.7,701.3 277.5,701.2 274.4,701.2 271.2,701.2 268,701.1 264.9,701.1 261.7,701.1 261.2,699.5 265.7,696.3 269,696.1 272.3,695.9 275.5,695.7 278.8,695.5 282.1,695.2 285.4,695 288.5,694.9 291.6,694.8 294.7,694.7 297.8,694.5 300.9,694.4 304,694.3 307.1,694.2 310.2,694.1 313.3,693.9 316.4,693.8 319.5,693.7M350,695 353,694.9 356,694.8 359,694.7 362,694.6 365,694.5 368,694.3 371,694.2 374.3,694.8 377.6,695.3 380.9,695.8 384.1,696.3 387.2,696.8 390.3,697.2 393.3,697.6 396.4,698.1 399.5,698.5 402.5,699 405.6,699.4 408.7,699.8 411.7,700.3 414.8,700.7 417.9,701.1 420.9,701.6M619.6,694.5 623.1,695 626.5,695.4 630,695.8M616.7,699.8 620,699.6 623.3,699.4 626.7,699.2 630,699M630,695.5 633.3,695.5 636.7,695.5 640,695.5 643.4,695.5 646.7,695.5 650.1,695.5 653.4,695.5 656.7,695.5 660.1,696.4 663.4,697.3 660.1,698.3 656.7,699.2 653.4,699.1 650.1,699.1 646.7,699 643.4,698.9 640,698.9 636.7,698.8 633.3,698.7 630,698.7M698.8,695.5 695.5,695.5 692.2,695.5 688.8,695.5 684.8,696.4 680.8,697.3 684.8,698.3 688.8,699.2 691.9,699.2 695.1,699.2 698.2,699.2M726.2,699.2 729.4,699.2 732.5,699.2 735.6,699.2 738.7,699.2 741.8,699.2 745,699.2 748.1,699.2 751.2,699.2 754.3,699.2 757.4,699.2 760.6,699.2 763.7,699.2 769,697.3 763.7,695.5 760.7,695.5 757.7,695.5 754.7,695.5 751.6,695.5 748.6,695.5 745.6,695.5 742.6,695.5 739.6,695.5 736.6,695.5 733.6,695.5 730.6,695.5 727.6,695.5M843.9,702.2 840.3,702.1 836.8,702 833.2,701.9 830,701.5 826.8,701.1 823.6,700.8 820.4,700.4 817.1,700 811.8,697.3 817.1,695.5 820.4,695.2 823.6,694.9 826.8,694.7 830,694.4 833.2,694.1 836.4,693.9 839.6,693.6 842.8,693.3 846,693.1 849.2,692.8M880,690.7 883.2,690.6 886.5,690.5 889.8,690.5 893,690.4 896.3,690.4 899.5,690.3 902.8,690.3 906.1,690.2 909.3,690.2 912.6,690.1" fill="none" stroke="#30698e" stroke-width="2.35" stroke-linejoin="round" stroke-linecap="butt"/>
<path clip-path="url(#cp3)" d="M72.4,680.6 76.4,681.9 80.5,683.2 84.4,684.2 88.4,685.3 90.1,682.8 91.9,680.4 93.6,677.9 97.1,676.2 100.6,674.4 104.1,672.7 107.4,671.1 110.7,669.4 114,667.8 117.3,666.1 120.4,666.1 123.6,666.1 126.7,666.1 129.9,666.1 133,666.1 136.3,667.1 139.6,668.1 142.9,669.1 146.2,670.1 148.8,672.3 151.4,674.4 154.1,676.6 156.7,673.3 159.3,670.1 162.8,668.8 166.3,667.4 169.8,666.1 173,665.2 176.1,664.3 179.3,663.4 182.4,662.6 185.6,661.7 187.5,658.6 189.5,655.6 191.5,652.6 193.5,649.6 196.8,649.3 200.2,649.1 203.6,648.8 207,648.5 210.3,648.3 213.7,648 217.1,647.7 220.1,647.6 223.1,647.5 226.1,647.4 229.1,647.3 232.1,647.2 235.1,647.1 238.1,647 241.3,646.9 244.4,646.8 247.6,646.8 250.7,646.7 253.9,646.7 257,646.6 260.2,646.6 263.3,646.5 266.5,646.5 269.6,646.4 272.7,646.4 275.8,646.4 278.8,646.4 281.9,646.4 284.9,646.4 288,646.4 291.1,646.4 294.1,646.4 297.2,646.4 300.3,646.4 303.3,646.4 306.4,646.4 309.5,646.5 312.6,646.5 315.7,646.5 318.9,646.6 322,646.6 325.1,646.7 328.2,646.7 331.3,646.7 334.4,646.8 337.5,646.8 340.7,646.8 343.8,646.9 346.9,646.9 350,647 353,646.5 356,646.1 359,645.6 362,645.2 365,644.7 368,644.2 371,643.8 373.6,646.2 376.3,648.5 379.5,649.1 382.8,649.6 386.1,650.2 389.4,650.8 392.7,651.3 396,651.9 399.2,652.4 402.5,653 405.8,653.2 409.1,653.3 412.4,653.5 415.7,653.6 418.9,653.8 422.2,654 425.5,654.1 428.8,654.3 432.1,654.1 435.4,654 438.6,653.8 441.9,653.6 445.2,653.5 448.5,653.3 451.8,653.2 455.1,653 458.3,653.3 461.6,653.6 464.9,654 468.2,654.3 471.5,654.6 474.8,655 478,655.3 481.3,655.6 484.5,655.9 487.6,656.1 490.8,656.4 493.9,656.7 497.1,656.9 500.6,656.1 504.1,655.2 507.6,654.3 510.9,654.5 514.2,654.6 517.4,654.8 520.7,655 524,655.1 527.3,655.3 530.6,655.5 533.9,655.6 537,655.4 540.2,655.1 543.3,654.8 546.5,654.6 549.6,654.3 553.1,655.2 556.6,656.1 560.1,656.9 563.4,656.9 566.7,656.8 570,656.7 573.3,656.7 576.5,656.6 579.8,656.5 583.1,656.5 586.4,656.4 589.5,656.6 592.7,656.8 595.9,657 599,657.2 602.2,657.5 605.7,656.4 609.2,655.4 612.7,654.3 616.1,654.8 619.6,655.4 623.1,655.9 626.5,656.4 630,656.9 630,655.9 633.3,656.1 636.7,656.2 640,656.4 643.4,656.6 646.7,656.7 650.1,656.9 653.4,657.1 656.7,657.2 660.1,657.3 663.4,657.4 666.8,657.5 670.1,657.6 673.4,657.7 676.8,657.8 680.1,657.9 683.5,658 687,657.3 690.6,656.6 694.2,655.9 697.4,656.5 700.6,657.2 703.8,657.8 707,658.5 710.2,659.1 713.5,658.6 716.9,658.2 720.2,657.7 723.6,657.2 726.7,656.6 729.8,655.9 732.9,655.2 736.1,654.6 739.2,653.9 742.3,653.2 745.4,653 748.5,652.8 751.6,652.6 754.8,652.3 757.9,652.1 761,651.9 765,653.9 769,655.9 772.1,657 775.1,658.2 778.2,659.3 781.2,660.5 784.3,661.6 787.4,662.8 790.4,663.9 793.5,664.9 796.5,665.8 799.6,666.8 802.6,667.7 805.7,668.7 808.7,669.7 811.8,670.6 815,671.9 818.2,673.3 821.4,674.6 824.6,676 827.8,677.3 831.4,678.6 835,680 838.5,681.3 839.9,684 835.9,685.8 831.9,686.4 827.8,686.9" fill="none" stroke="#3aba76" stroke-width="2.35" stroke-linejoin="round" stroke-linecap="butt"/>
<path clip-path="url(#cp3)" d="M72.4,689 75.8,689.2 79.2,689.4 82.6,689.7 86,689.9 89.4,690.1 92.9,690.3 96.3,690.6 99.5,690.7 102.8,690.8 106.1,690.9 109.4,691.1 112.7,691.2 116,691.3 119.2,691.5 122.5,691.6 125.8,691.5 129.1,691.3 132.4,691.2 135.7,691.1 138.9,690.9 142.2,690.8 145.5,690.7 148.8,690.6 152.1,690.3 155.4,690 158.6,689.8 161.9,689.5 165.2,689.2 168.5,689 171.8,688.7 175.1,688.5 178.3,688.4 181.6,688.3 184.9,688.3 188.2,688.2 191.5,688.1 194.8,688.1 198,688 201.3,687.9 204.6,687.8 207.9,687.7 211.2,687.6 214.5,687.5 217.7,687.4 221,687.3 224.3,687.2 227.6,687.1 230.9,687.3 234.2,687.5 237.4,687.6 240.7,687.8 244,688 247.3,688.1 250.6,688.3 253.9,688.5 257.1,688.3 260.4,688.1 263.7,688 267,687.8 270.3,687.6 273.6,687.5 276.8,687.3 280.1,687.1 283.3,687.4 286.4,687.7 289.6,687.9M320.8,688.7 324,688.8 327.3,688.9 330.5,689 333.8,689.2 337,689.3 340.3,689.4 343.5,689.5 346.8,689.6 350,689.8 353.3,689.6 356.6,689.4 359.8,689.3 363.1,689.1 366.4,688.9 369.7,688.8 373,688.6 376.3,688.5 379.5,688.7 382.8,689 386.1,689.2 389.4,689.5 392.7,689.8 396,690 399.2,690.3 402.5,690.6 405.8,690.6 409.1,690.7 412.4,690.8 415.7,690.8 418.9,690.9 422.2,690.9 425.5,691 428.8,691.1 432.1,691 435.4,690.9 438.6,690.9 441.9,690.8 445.2,690.8 448.5,690.7 451.8,690.6 455.1,690.6 458.1,690.6 461.1,690.6 464.2,690.7 467.2,690.7 470.2,690.8 473.3,690.8 476.3,690.8 479.3,690.9 482.3,690.9 485.4,691 488.4,691 491.4,691 494.5,691.1 497.7,691.4 501,691.7 504.3,692.1 507.6,692.4 510.9,692.2 514.2,691.9 517.4,691.7 520.7,691.5 524,691.2 527.3,691 530.6,690.8 533.9,690.6 537.1,690.5 540.4,690.4 543.7,690.3 547,690.2 550.3,690.1 553.6,690 556.8,689.9 560.1,689.8 563.4,689.5 566.7,689.3 570,689.1 573.3,688.8 576.5,688.6 579.8,688.4 583.1,688.2 586.4,687.9 589.7,687.7 593,687.4 596.2,687.1 599.5,686.9 602.8,686.6 606.1,686.4 609.4,686.1 612.7,685.8 616.1,686.4 619.6,686.9 623.1,687.4 626.5,687.9 630,688.5 630,688.5 633.3,688.6 636.7,688.7 640,688.8 643.4,688.9 646.7,689 650.1,689.1 653.4,689.2 656.7,689.3 659.8,689.5 662.8,689.7 665.9,689.9 669,690.1 672,690.3 675.1,690.5 678.1,690.7 681.5,689.9 684.8,689.1 688.1,688.3 691.5,687.4 694.6,687.3 697.7,687.2 700.8,687 704,686.9 707.1,686.8 710.2,686.6 713.5,686.8 716.9,687 720.2,687.1 723.6,687.3 726.9,687.5 730.3,687.6 733.6,687.8 736.9,688 740.3,688.3 743.6,688.5 747,688.8 750.3,689.1 753.7,689.3 757,689.6 760.3,689.9 763.7,690.1 767,690 770.4,689.9 773.7,689.8 777,689.7 780.4,689.6 783.7,689.5 787.1,689.4 790.4,689.3 793.5,689.1 796.5,688.9 799.6,688.7 802.6,688.6 805.7,688.4 808.7,688.2 811.8,688 815,687.8 818.2,687.6 821.4,687.3 824.6,687.1 827.8,686.9" fill="none" stroke="#3aba76" stroke-width="2.35" stroke-linejoin="round" stroke-linecap="butt"/>
<path clip-path="url(#cp3)" d="M72.4,701.8 75.6,701.8 78.8,701.8 82,701.8 85.2,701.8M117.8,701.8 121,701.8 124.1,701.8 127.3,701.8 130.4,701.8M838.2,701.9 841.2,701.9" fill="none" stroke="#3aba76" stroke-width="2.35" stroke-linejoin="round" stroke-linecap="butt"/>
<path clip-path="url(#cp3)" d="M251.2,667.4 254.5,666.1 257.8,664.8 261.1,663.5 264.4,662.2 265.2,658.7 266.1,655.2 267,651.7 270.3,651 273.6,650.4 276.8,649.7 280.1,649.1 283.3,649.2 286.4,649.3 289.6,649.4 292.7,649.5 295.9,649.6 297.6,652.5 299.4,655.4 301.1,658.2 302.9,655.6 304.6,653 306.4,650.4 309.7,650.3 313,650.2 316.2,650.1 319.5,650 322.8,649.9 326.1,649.8 329.4,649.7 332.7,649.6 336.1,650.3 339.6,650.9 343.1,651.6 346.5,652.3 350,653 353.5,653.4 357,653.9 360.5,654.3 364,652.6 367.5,650.8 371,649.1 372.8,652.1 374.5,655.2 376.3,658.2 380.2,660.2 384.1,662.2 387.2,662.5 390.3,662.9 393.3,663.2 396.4,663.6 399.5,663.9 402.5,664.3 405.7,664.5 408.8,664.8 412,665.1 415.1,665.3 418.3,665.6 421.3,665.4 424.3,665.2 427.3,665 430.3,664.8 433.3,664.7 436.3,664.5 439.3,664.3 443.2,663 447.2,661.7 451.1,663 455.1,664.3 458.3,664.2 461.6,664.1 464.9,664 468.2,663.9 471.5,663.8 474.8,663.7 478,663.6 481.3,663.5 484.5,663.9 487.6,664.2 490.8,664.6 493.9,665 497.1,665.3 500.6,664.7 504.1,664.1 507.6,663.5 510.9,663.7 514.2,664 517.4,664.2 520.7,664.4 524,664.6 527.3,664.9 530.6,665.1 533.9,665.3 537,665.1 540.2,664.9 543.3,664.7 546.5,664.5 549.6,664.3 552.9,664.5 556.2,664.7 559.5,665 562.8,665.2 566,665.4 569.3,665.7 572.6,665.9 575.9,666.1 579.2,666 582.5,665.8 585.7,665.6 589,665.5 592.3,665.3 595.6,665.1 598.9,665 602.2,664.8 605.7,664.6 609.2,664.5 612.7,664.3 616.1,664.5 619.6,664.8 623.1,665.1 626.5,665.3 630,665.6 630,665.3 633.2,665 636.4,664.7 639.6,664.5 642.8,664.2 646,663.9 649.2,664.5 652.3,665 655.4,665.5 658.5,666.1 661.6,666.6 664.8,667.1 667.9,666.8 671,666.5 674.1,666.2 677.2,665.9 680.4,665.6 683.5,665.3 686.8,665.4 690.2,665.6 693.5,665.8 696.8,665.9 700.2,666.1 703.5,666.3 706.9,666.4 710.2,666.6 713.5,665.9 716.9,665.3 720.2,664.6 723.6,663.9 726.7,663.3 729.8,662.6 732.9,661.9 736.1,661.2 739.2,660.6 742.3,659.9 745.4,660 748.5,660.2 751.6,660.3 754.8,660.4 757.9,660.6 761,660.7 763.7,662.2 766.4,663.7 769,665.3 772.1,666.2 775.1,667.2 778.2,668.1 781.2,669.1 784.3,670 787.4,671 790.4,671.9 793.5,672.9 796.5,673.9 799.6,674.8 802.6,675.8 805.7,676.7 808.7,677.7 811.8,678.6 815.3,681.3 811.8,684" fill="none" stroke="#98d83e" stroke-width="2.35" stroke-linejoin="round" stroke-linecap="butt"/>
<path clip-path="url(#cp3)" d="M251.2,667.4 253.9,672.7 256.8,673.3 259.8,674 262.7,674.7 265.7,675.3 267,678.5 270.3,679 273.6,679.5 276.8,680 280.1,680.6 283.4,681.2 286.7,681.9 290,682.5 293.3,683.2 296.3,682.9 299.3,682.6 302.3,682.3 305.3,682 308.3,681.7 311.3,681.4 314.3,681.1 317.3,681.4 320.4,681.8 323.5,682.1 326.5,682.5 329.6,682.8 332.7,683.2 336.1,683.5 339.6,683.7 343.1,684 346.5,684.2 350,684.5 350,686.4 353.2,685.7 356.3,685.1 359.5,684.5 362.6,683.8 365.8,683.2 369,681.9 372.3,680.6 375,683.5 377.6,686.4 381.5,684.5 384.5,684.8 387.5,685 390.5,685.3 393.5,685.6 396.5,685.8 399.5,686.1 402.5,686.4 405.8,686.5 409.1,686.7 412.4,686.9 415.7,687.1 418.9,687.3 422.2,687.5 425.5,687.7 428.8,687.9 432.1,687.8 435.4,687.7 438.6,687.6 441.9,687.5 445.2,687.4 448.5,687.3 451.8,687.2 455.1,687.1 458.3,687.3 461.6,687.4 464.9,687.5 468.2,687.7 471.5,687.8 474.8,687.9M505,685.8 508.9,686.9 512.9,687.9 518.1,685.3 521.3,685.5 524.4,685.7 527.6,685.9 530.7,686.1 533.9,686.4 537.1,686.3 540.4,686.2 543.7,686.2 547,686.1 550.3,686 553.6,686 556.8,685.9 560.1,685.8 563.4,685.6 566.7,685.3 570,685 573.3,684.8 576.5,684.5 579.8,684.2 583.1,684 586.4,683.7 589.4,683.6 592.4,683.4 595.4,683.3 598.4,683.1 601.4,683 604.4,682.8 607.4,682.7 612.7,680 615.3,683.7 619,684.2 622.6,684.8 626.3,685.3 630,685.8 630,685.3 633.3,685.5 636.7,685.6 640,685.8 643.4,686 646.7,686.1 650.1,686.3 653.4,686.5 656.7,686.6 659.8,686.8 662.8,687 665.9,687.2 669,687.4 672,687.6 675.1,687.8 678.1,688 681.7,686.6 685.3,685.3 688.8,684 691.9,683.8 694.9,683.6 698,683.4 701,683.2 704.1,683 707.2,682.8 710.2,682.6 713.5,682.8 716.9,683 720.2,683.1 723.6,683.3 726.9,683.5 730.3,683.6 733.6,683.8 736.9,684 739.9,684.4 742.9,684.9 745.9,685.3 748.8,685.8 751.8,686.2 754.8,686.6 757.7,687.1 760.7,687.5 763.7,688 766.9,687.7 770.1,687.4 773.3,687.2 776.5,686.9 779.7,686.6 783.3,686.2 786.8,685.8 790.4,685.3 794,684.6 797.5,683.9 801.1,683.2 804.7,683.4 808.2,683.7 811.8,684" fill="none" stroke="#98d83e" stroke-width="2.35" stroke-linejoin="round" stroke-linecap="butt"/>
<path clip-path="url(#cp3)" d="M248.6,678.5 252.1,677.9 255.6,677.2 259.1,676.6 262.2,676.9 265.2,677.2 268.3,677.4 265.7,679 263.1,680.6 260,680.6 256.9,680.6 253.9,680.6 248.6,678.5M121.2,683.2 118.6,684.5 114.7,685.1 110.7,685.7 106.8,686.4 112,688.5 115.1,688.7 118.2,688.9 121.2,689.1 124.3,689.3 127.3,689.5 130.4,689.8 133.5,689.3 136.5,688.9 139.6,688.5 142.7,688 145.7,687.6" fill="none" stroke="#98d83e" stroke-width="2.35" stroke-linejoin="round" stroke-linecap="butt"/>
<path clip-path="url(#cp3)" d="M309.5,669.3 314.3,666.1 319,669.3 314.3,672.7 309.5,669.3M470.8,678.7 474.8,677.7 478.7,676.6 481.8,676.6 484.8,676.6 487.9,676.6 489.2,679.3 485.7,679.7 482.2,680.1 478.7,680.6 475.4,680.3 472.1,680 470.8,678.7M730.3,676 731.1,670.6 734,669.3 736.9,667.9 740.3,667.7 743.6,667.5 747,667.3 750.3,667.1 753.7,667.3 757,667.5 760.3,667.7 763.7,667.9 767.7,670.6 765,676 762.3,673.9" fill="none" stroke="#fde725" stroke-width="2.35" stroke-linejoin="round" stroke-linecap="butt"/>
<path d="M670,680L675.5,677.8L681,680L675.5,682.2Z" fill="#fde725" stroke="#fde725" stroke-width="1"/>
<path d="M767,680L772.5,677.8L778,680L772.5,682.2Z" fill="#fde725" stroke="#fde725" stroke-width="1"/>
<g clip-path="url(#cp3)"><text x="519.4" y="640.9" font-size="13.89" fill="#440154" text-anchor="middle">40</text></g>
<g clip-path="url(#cp3)"><text x="618" y="651.4" font-size="13.89" fill="#30698e" text-anchor="middle">60</text></g>
<g clip-path="url(#cp3)"><text x="137" y="686.9" font-size="13.89" fill="#98d83e" text-anchor="middle">90</text></g>
<g clip-path="url(#cp3)"><text x="304.6" y="693.5" font-size="13.89" fill="#3aba76" text-anchor="middle">80</text></g>
<g clip-path="url(#cp3)"><text x="335.8" y="699.2" font-size="13.89" fill="#30698e" text-anchor="middle">60</text></g>
<g clip-path="url(#cp3)"><text x="490" y="691.4" font-size="13.89" fill="#98d83e" text-anchor="middle">90</text></g>
<g clip-path="url(#cp3)"><text x="603" y="700.5" font-size="13.89" fill="#30698e" text-anchor="middle" transform="rotate(-35 603 695.5)">60</text></g>
<g clip-path="url(#cp3)"><text x="747.6" y="680.4" font-size="13.89" fill="#fde725" text-anchor="middle">99</text></g>
<g clip-path="url(#cp3)"><text x="712.4" y="701" font-size="13.89" fill="#30698e" text-anchor="middle">60</text></g>
<g clip-path="url(#cp3)"><text x="864.5" y="697" font-size="13.89" fill="#30698e" text-anchor="middle">60</text></g>
<g clip-path="url(#cp3)"><text x="101.5" y="706" font-size="13.89" fill="#3aba76" text-anchor="middle">80</text></g>
<g clip-path="url(#cp3)"><text x="823" y="706.4" font-size="13.89" fill="#3aba76" text-anchor="middle">80</text></g>
<g stroke="#000" stroke-width="1.11" fill="none">
<rect x="72.5" y="88.4" width="840.0" height="133.8"/>
<path d="M72.5,88.4h-11.1"/>
<path d="M72.5,155.3h-11.1"/>
<path d="M72.5,222.2h-11.1"/>
<rect x="72.5" y="249.3" width="840.0" height="132.9"/>
<path d="M72.5,249.3h-11.1"/>
<path d="M72.5,315.8h-11.1"/>
<path d="M72.5,382.2h-11.1"/>
<rect x="72.5" y="409.3" width="840.0" height="132.9"/>
<path d="M72.5,409.3h-11.1"/>
<path d="M72.5,475.8h-11.1"/>
<path d="M72.5,542.2h-11.1"/>
<rect x="72.5" y="569.3" width="840.0" height="133.9"/>
<path d="M72.5,569.3h-11.1"/>
<path d="M72.5,636.2h-11.1"/>
<path d="M72.5,703.2h-11.1"/>
<path d="M72.5,703.2v6.2"/>
<path d="M142.9,703.2v6.2"/>
<path d="M213.3,703.2v6.2"/>
<path d="M283.7,703.2v6.2"/>
<path d="M354.1,703.2v6.2"/>
<path d="M424.5,703.2v6.2"/>
<path d="M494.9,703.2v11.1"/>
<path d="M565.3,703.2v6.2"/>
<path d="M635.7,703.2v6.2"/>
<path d="M706.1,703.2v6.2"/>
<path d="M776.5,703.2v6.2"/>
<path d="M846.9,703.2v6.2"/>
</g>
<g font-size="18.06" fill="#000" stroke="#000" stroke-width="0.25">
<text x="56.2" y="95.4" text-anchor="end">10</text>
<text x="56.2" y="162.3" text-anchor="end">5</text>
<text x="56.2" y="229.2" text-anchor="end">0</text>
<text x="56.2" y="256.3" text-anchor="end">10</text>
<text x="56.2" y="322.8" text-anchor="end">5</text>
<text x="56.2" y="389.2" text-anchor="end">0</text>
<text x="56.2" y="416.3" text-anchor="end">10</text>
<text x="56.2" y="482.8" text-anchor="end">5</text>
<text x="56.2" y="549.2" text-anchor="end">0</text>
<text x="56.2" y="576.3" text-anchor="end">10</text>
<text x="56.2" y="643.2" text-anchor="end">5</text>
<text x="56.2" y="710.2" text-anchor="end">0</text>
<text x="72.5" y="726.8" text-anchor="middle">12</text>
<text x="142.9" y="726.8" text-anchor="middle">14</text>
<text x="213.3" y="726.8" text-anchor="middle">16</text>
<text x="283.7" y="726.8" text-anchor="middle">18</text>
<text x="354.1" y="726.8" text-anchor="middle">20</text>
<text x="424.5" y="726.8" text-anchor="middle">22</text>
<text x="565.3" y="726.8" text-anchor="middle">02</text>
<text x="635.7" y="726.8" text-anchor="middle">04</text>
<text x="706.1" y="726.8" text-anchor="middle">06</text>
<text x="776.5" y="726.8" text-anchor="middle">08</text>
<text x="846.9" y="726.8" text-anchor="middle">10</text>
<text x="494.9" y="733.0" text-anchor="middle">Feb-17</text>
</g>
<g font-size="20.83" fill="#000" text-anchor="middle" stroke="#000" stroke-width="0.25">
<text x="24.7" y="156" transform="rotate(-90 24.7 156)">Height (km)</text>
<text x="24.7" y="316.4" transform="rotate(-90 24.7 316.4)">Height (km)</text>
<text x="24.7" y="476.4" transform="rotate(-90 24.7 476.4)">Height (km)</text>
<text x="24.7" y="637" transform="rotate(-90 24.7 637)">Height (km)</text>
<text x="492.1" y="751.6">Time (UTC)</text>
</g>
<text x="486.8" y="36.2" font-size="33.33" text-anchor="middle" stroke="#000" stroke-width="0.2">Wantagh, NY (WANT) MWR Products</text>
<text x="491.6" y="81" font-size="27.78" text-anchor="middle" stroke="#000" stroke-width="0.2">12 UTC 02/16/20 - 12 UTC 02/17/20</text>
<rect x="964.4" y="94.5" width="6.2" height="121.6" fill="url(#cb0)"/>
<path d="M964.4,94.8L967.5,88.4L970.6,94.8Z" fill="#fde725"/>
<path d="M964.4,215.8L967.5,222.2L970.6,215.8Z" fill="#440154"/>
<path d="M964.4,94.5L967.5,88.4L970.6,94.5V216.1L967.5,222.2L964.4,216.1Z" fill="none" stroke="#000" stroke-width="1.11" stroke-linejoin="miter"/>
<path d="M970.6,216.1h6.2" stroke="#000" stroke-width="1.11"/>
<text x="980.7" y="223.3" font-size="18.06" stroke="#000" stroke-width="0.25">-50</text>
<path d="M970.6,198.7h6.2" stroke="#000" stroke-width="1.11"/>
<text x="980.7" y="205.9" font-size="18.06" stroke="#000" stroke-width="0.25">-40</text>
<path d="M970.6,181.4h6.2" stroke="#000" stroke-width="1.11"/>
<text x="980.7" y="188.6" font-size="18.06" stroke="#000" stroke-width="0.25">-30</text>
<path d="M970.6,164h6.2" stroke="#000" stroke-width="1.11"/>
<text x="980.7" y="171.2" font-size="18.06" stroke="#000" stroke-width="0.25">-20</text>
<path d="M970.6,146.6h6.2" stroke="#000" stroke-width="1.11"/>
<text x="980.7" y="153.8" font-size="18.06" stroke="#000" stroke-width="0.25">-10</text>
<path d="M970.6,129.2h6.2" stroke="#000" stroke-width="1.11"/>
<text x="980.7" y="136.4" font-size="18.06" stroke="#000" stroke-width="0.25">0</text>
<path d="M970.6,111.9h6.2" stroke="#000" stroke-width="1.11"/>
<text x="980.7" y="119.1" font-size="18.06" stroke="#000" stroke-width="0.25">10</text>
<path d="M970.6,94.5h6.2" stroke="#000" stroke-width="1.11"/>
<text x="980.7" y="101.7" font-size="18.06" stroke="#000" stroke-width="0.25">20</text>
<text x="1031.4" y="215.0" font-size="20.83" stroke="#000" stroke-width="0.25" transform="rotate(-90 1031.4 215.0)">Temp. (<tspan font-size="14.5" dy="-9.7" dx="2.6">∘</tspan><tspan dy="9.7" dx="4">C)</tspan></text>
<rect x="964.4" y="255.3" width="6.2" height="120.8" fill="url(#cb1)"/>
<path d="M964.4,255.6L967.5,249.3L970.6,255.6Z" fill="#fef8fe"/>
<path d="M964.4,375.9L967.5,382.2L970.6,375.9Z" fill="#000080"/>
<path d="M964.4,255.3L967.5,249.3L970.6,255.3V376.2L967.5,382.2L964.4,376.2Z" fill="none" stroke="#000" stroke-width="1.11" stroke-linejoin="miter"/>
<path d="M970.6,376.2h6.2" stroke="#000" stroke-width="1.11"/>
<text x="980.7" y="383.4" font-size="18.06" stroke="#000" stroke-width="0.25">250</text>
<path d="M970.6,354.2h6.2" stroke="#000" stroke-width="1.11"/>
<text x="980.7" y="361.4" font-size="18.06" stroke="#000" stroke-width="0.25">270</text>
<path d="M970.6,332.2h6.2" stroke="#000" stroke-width="1.11"/>
<text x="980.7" y="339.4" font-size="18.06" stroke="#000" stroke-width="0.25">290</text>
<path d="M970.6,310.3h6.2" stroke="#000" stroke-width="1.11"/>
<text x="980.7" y="317.5" font-size="18.06" stroke="#000" stroke-width="0.25">310</text>
<path d="M970.6,288.3h6.2" stroke="#000" stroke-width="1.11"/>
<text x="980.7" y="295.5" font-size="18.06" stroke="#000" stroke-width="0.25">330</text>
<path d="M970.6,266.3h6.2" stroke="#000" stroke-width="1.11"/>
<text x="980.7" y="273.5" font-size="18.06" stroke="#000" stroke-width="0.25">350</text>
<text x="1036.3" y="341.6" font-size="20.83" stroke="#000" stroke-width="0.25" transform="rotate(-90 1036.3 341.6)">Θ (K)</text>
<rect x="965.4" y="409.3" width="6.2" height="132.9" fill="url(#cb2)"/>
<rect x="965.4" y="409.3" width="6.2" height="132.9" fill="none" stroke="#000" stroke-width="1.11"/>
<path d="M971.6,409.3h6.2" stroke="#000" stroke-width="1.11"/>
<text x="981.7" y="416.5" font-size="18.06" stroke="#000" stroke-width="0.25">10<tspan font-size="11.67" dy="-6.4">0</tspan></text>
<path d="M971.6,453.6h6.2" stroke="#000" stroke-width="1.11"/>
<text x="981.7" y="460.8" font-size="18.06" stroke="#000" stroke-width="0.25">10<tspan font-size="11.67" dy="-6.4">−1</tspan></text>
<path d="M971.6,497.9h6.2" stroke="#000" stroke-width="1.11"/>
<text x="981.7" y="505.1" font-size="18.06" stroke="#000" stroke-width="0.25">10<tspan font-size="11.67" dy="-6.4">−2</tspan></text>
<path d="M971.6,542.2h6.2" stroke="#000" stroke-width="1.11"/>
<text x="981.7" y="549.4" font-size="18.06" stroke="#000" stroke-width="0.25">10<tspan font-size="11.67" dy="-6.4">−3</tspan></text>
<text x="1048.9" y="549.0" font-size="20.83" stroke="#000" stroke-width="0.25" transform="rotate(-90 1048.9 549.0)">Liquid (g m<tspan font-size="14.5" dy="-7.8" dx="-1">−</tspan><tspan font-size="14.5" dx="1">3</tspan><tspan dy="7.8" dx="1.1">)</tspan></text>
<rect x="965.4" y="569.3" width="6.2" height="133.9" fill="url(#cb3)"/>
<rect x="965.4" y="569.3" width="6.2" height="133.9" fill="none" stroke="#000" stroke-width="1.11"/>
<path d="M971.6,703.2h6.2" stroke="#000" stroke-width="1.11"/>
<text x="981.7" y="710.4" font-size="18.06" stroke="#000" stroke-width="0.25">0</text>
<path d="M971.6,677.7h6.2" stroke="#000" stroke-width="1.11"/>
<text x="981.7" y="684.9" font-size="18.06" stroke="#000" stroke-width="0.25">20</text>
<path d="M971.6,652.2h6.2" stroke="#000" stroke-width="1.11"/>
<text x="981.7" y="659.4" font-size="18.06" stroke="#000" stroke-width="0.25">40</text>
<path d="M971.6,626.7h6.2" stroke="#000" stroke-width="1.11"/>
<text x="981.7" y="633.9" font-size="18.06" stroke="#000" stroke-width="0.25">60</text>
<path d="M971.6,601.2h6.2" stroke="#000" stroke-width="1.11"/>
<text x="981.7" y="608.4" font-size="18.06" stroke="#000" stroke-width="0.25">80</text>
<path d="M971.6,575.7h6.2" stroke="#000" stroke-width="1.11"/>
<text x="981.7" y="582.9" font-size="18.06" stroke="#000" stroke-width="0.25">100</text>
<text x="1035.8" y="672.9" font-size="20.83" stroke="#000" stroke-width="0.25" transform="rotate(-90 1035.8 672.9)">RH (%)</text>
<path d="M987.3,727.4 997.9,726.8 998.5,732.1 998.9,742.7 999.1,754.6 998.5,765.2 997.9,766.4 1008,765.8 1009.7,766.4 1003.8,768.7 996.7,770.5 993.2,771.7 993.8,769.3 995.6,767.6 993.2,765.8 987.3,762.8 985.5,759.3 984.9,756.3 952.4,756 951.8,753.4 955.4,751.6 958.3,749.2 957.7,746.9 957.1,744.5 960.1,743.7 969.6,743.9 974.3,742.7 977.8,740.4 977.2,736.8 979,733.9 982.6,730.3Z" fill="#efa90f"/>
<g font-family="'DejaVu Sans Condensed', 'Liberation Sans Narrow', 'Liberation Sans', sans-serif" font-weight="bold">
<text x="976.0" y="754.6" font-size="13.4" fill="#fff" stroke="#fff" stroke-width="0.45" textLength="19.6" lengthAdjust="spacingAndGlyphs">NYS</text>
<text x="1000.9" y="754.6" font-size="13.4" fill="#4b2a7a" stroke="#4b2a7a" stroke-width="0.5" textLength="47.4" lengthAdjust="spacingAndGlyphs">Mesonet</text>
<text x="1000.9" y="761.8" font-size="5.8" fill="#4b2a7a" textLength="47.2" lengthAdjust="spacingAndGlyphs" opacity="0.9">UNIVERSITY AT ALBANY</text>
</g>
</svg>
</body></html>
